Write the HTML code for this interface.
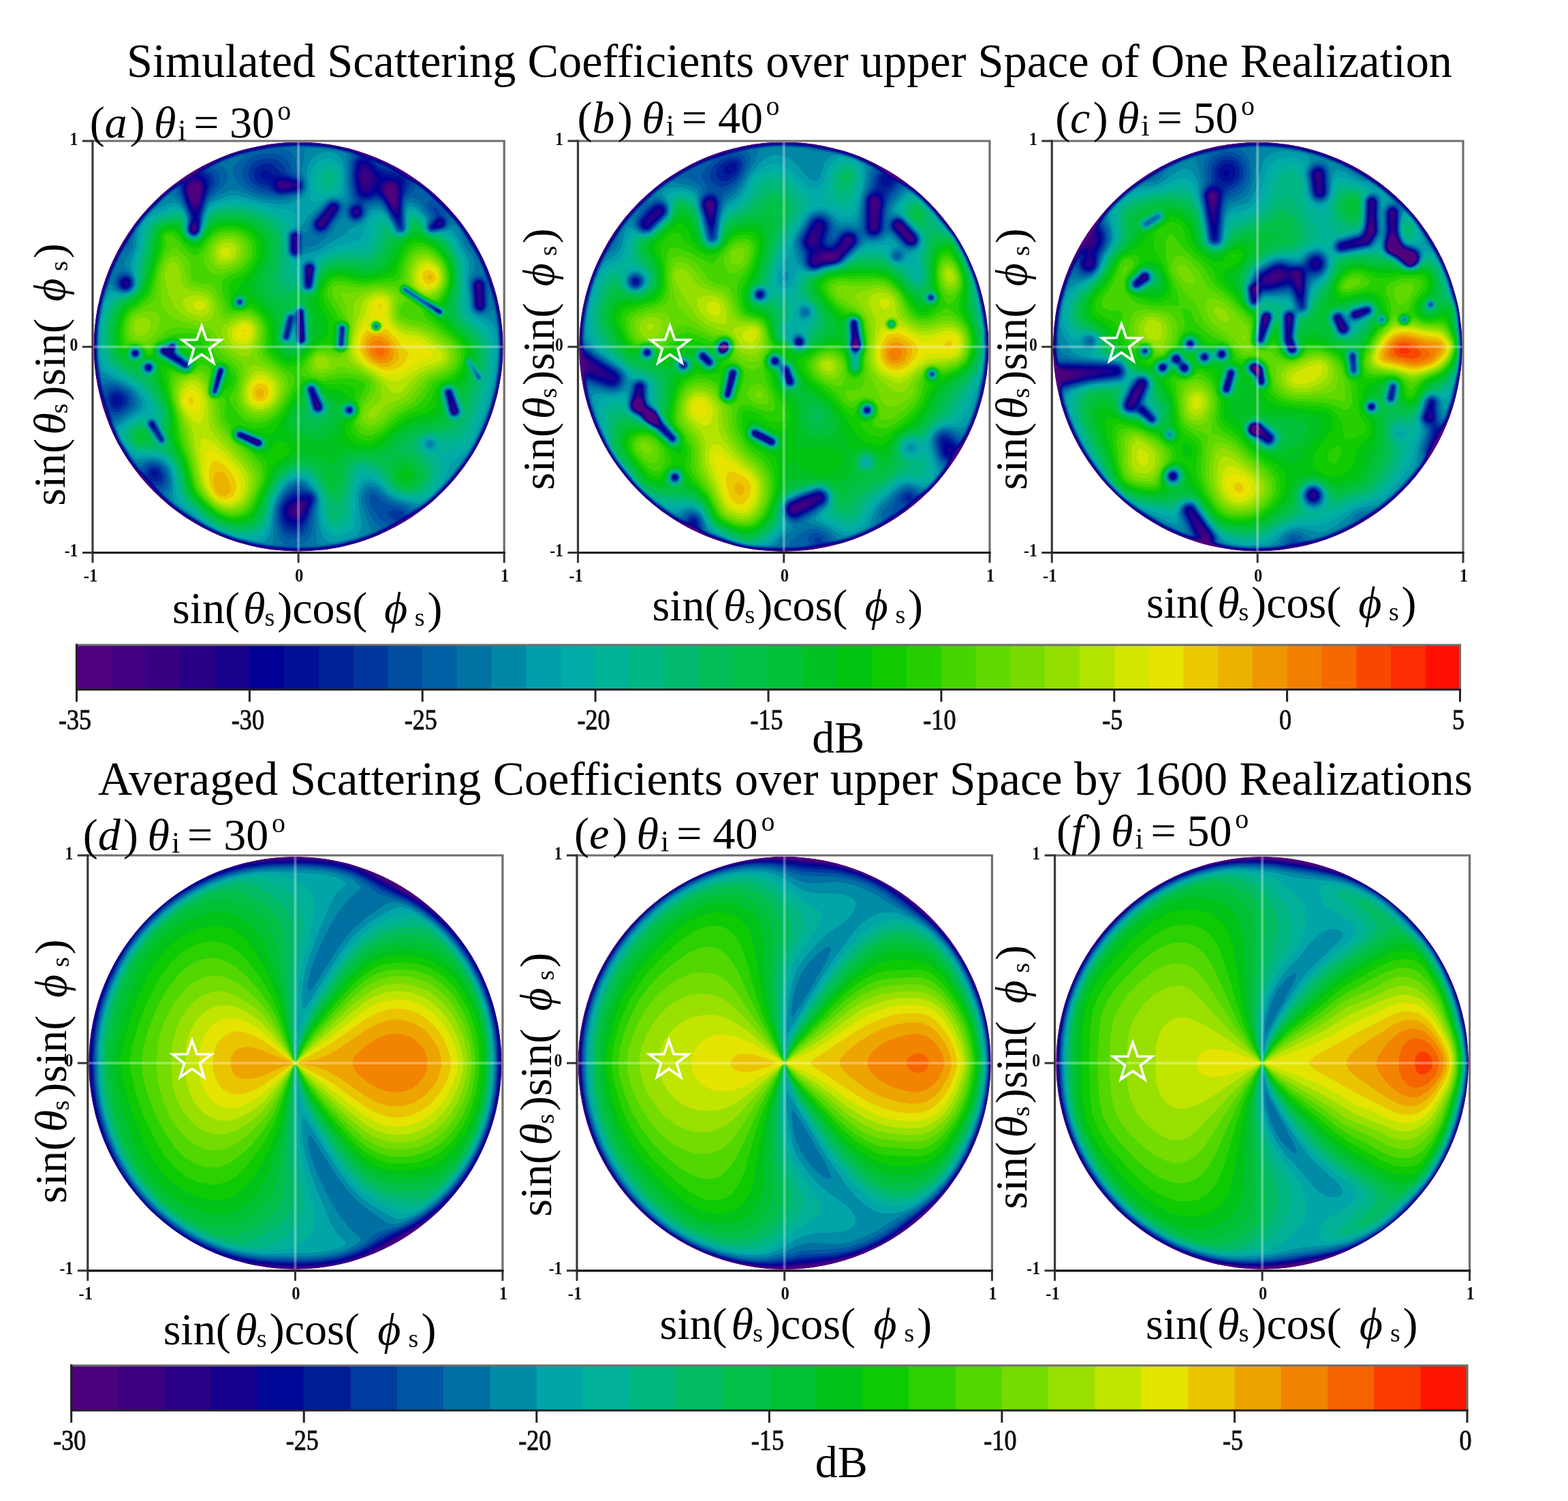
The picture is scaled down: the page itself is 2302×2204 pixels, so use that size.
<!DOCTYPE html><html><head><meta charset="utf-8"><style>html,body{margin:0;padding:0;background:#fff;overflow:hidden}svg{display:block}</style></head><body>
<svg width="2302" height="2204" viewBox="0 0 2302 2204">
<rect width="2302" height="2204" fill="#fff"/>
<defs><clipPath id="cla"><circle cx="438.1" cy="509.2" r="300.6"/></clipPath><clipPath id="clb"><circle cx="1150.8" cy="509.2" r="300.8"/></clipPath><clipPath id="clc"><circle cx="1846.2" cy="509.2" r="300.4"/></clipPath><clipPath id="cld"><circle cx="433.4" cy="1560.9" r="303"/></clipPath><clipPath id="cle"><circle cx="1151.7" cy="1560.9" r="303.2"/></clipPath><clipPath id="clf"><circle cx="1853.1" cy="1560.9" r="303"/></clipPath></defs>
<g clip-path="url(#cla)"><circle cx="438.1" cy="509.2" r="300.6" fill="#4e007d"/><path fill="#410080" fill-rule="evenodd" transform="scale(0.5)" d="M471 494l-24-2-32-12-127-67 443 0-68 26-88 26-49 8zM1483 640l-104-41-40-19-72-47-34-32-14-10-100-41-40-22-34-15 438 0zM915 1617l-44 2-68-4-48-7-64-17-52-20-48-24-64-40-32-24-39-38-57-64-22-28-38-60-18-44-27-88-12-56-5-36 0-104 8-56 16-64 20-56 26-52 46-76 28-36 54-54 28-23 56-33 31-22 37-21 48-21 40-12 76-15 40-5 96 0 60 7 36 9 92 34 24 11 88 53 36 27 40 38 50 55 39 60 25 44 16 36 24 72 12 56 8 68 0 56-4 48-12 64-16 56-24 60-32 60-28 40-32 40-58 60-24 19-80 50-56 29-52 21-60 16-48 7zM577 593l8-16 5-24-7-13-12-4-8 3-7 6-4 8 0 8 7 20 8 13 4 3zM1161 597l3-16-1-28-8-10-8-2-8 2-4 2-6 8 1 12 21 32 4 4 4-1zM876 1505l3-8-3-4-5 1-5 3 0 4 5 5z"/><path fill="#370082" fill-rule="evenodd" transform="scale(0.5)" d="M487 462l-24 0-28-7-36-15-50-27 327 0-101 36zM1483 601l-96-27-48-18-56-32-56-40-100-43-46-28 402 0zM891 1617l-52-1-60-6-56-11-52-16-48-20-44-24-56-36-45-38-25-24-63-72-24-36-28-48-16-40-28-88-12-60-5-48 0-68 5-44 11-60 18-56 15-40 29-56 43-68 32-40 41-40 39-32 45-25 44-31 40-21 40-16 56-16 64-12 52-4 60 0 48 4 44 8 44 13 66 24 48 24 77 48 38 32 43 43 32 37 45 68 23 44 21 52 20 64 12 68 4 56-1 40-7 68-11 56-21 64-25 56-26 48-41 56-37 43-36 35-36 27-76 47-48 25-56 21-60 16-52 7zM1079 529l1-12-5-5-4 0-4 9 2 8 6 4zM577 601l9-20 6-28-2-8-5-8-6-3-8-1-8 2-7 6-5 8-1 8 5 20 8 18 8 8zM830 545l-3-4-4 4 4 2zM1162 605l4-24-2-32-9-9-8-2-8 2-11 9-2 8 2 8 23 37 8 6zM574 673l0-4-3-5-4 3-1 6 1 3 4 1zM880 1509l7-16 0-6-4-3-16 4-8 9 1 8 7 7 8 0z"/><path fill="#280087" fill-rule="evenodd" transform="scale(0.5)" d="M551 433l-44 3-32-2-28-6-36-15 207 0-39 14zM1483 569l-92-19-52-17-44-22-56-35-82-35-30-15-19-13 375 0zM939 1613l-60 3-64-3-56-7-60-15-48-17-44-21-60-36-45-32-43-40-60-67-24-33-30-48-22-52-24-75-12-50-6-39-3-44 1-60 7-60 13-56 20-59 24-53 40-68 28-39 36-40 48-45 24-17 40-20 23-19 26-16 41-20 43-16 44-12 67-12 52-4 56 0 68 7 40 9 90 32 26 12 36 20 76 49 48 43 48 52 24 32 36 59 24 50 24 68 12 51 9 52 3 64-3 60-8 52-17 64-24 64-23 48-25 40-36 49-44 49-39 34-33 24-81 48-43 21-56 19-52 13zM1077 549l6-5 4-7 2-16-6-15-12-9-4 2-5 6-2 20 3 14 4 7 4 3zM576 609l6-8 5-13 8-35-5-16-7-6-8-3-12 4-8 6-5 7-3 12 5 20 11 25 8 8zM843 549l6-4-2-4-10-4-14-2-6 6 2 8 4 3zM1164 613l4-24-1-40-4-7-8-5-16-1-12 9-4 8 1 8 27 46 8 8zM947 661l12-21 0-5-12 10-10 12 2 5 4 1zM575 677l1-12-1-4-4-2-6 6-2 8 4 7zM911 793l0-6-4 0-1 2 1 8zM1407 865l2-28-2-2-5 2 5 32zM935 1197l1-4-5-8 0 12zM874 1517l9-4 9-16 3-12-4-8-8 0-12 3-12 7-5 6-1 8 3 8 7 7z"/><path fill="#19008c" fill-rule="evenodd" transform="scale(0.5)" d="M1483 540l-84-13-56-16-36-15-64-32-64-27-44-24 348 0zM927 1613l-60 2-72-5-51-9-57-15-52-20-41-21-64-40-36-28-34-32-65-73-24-34-29-49-15-36-28-87-12-52-7-53-1-64 4-52 8-49 16-58 20-53 24-49 40-65 28-38 42-44 42-36 24-16 32-14 32-26 35-20 35-16 48-16 74-16 44-5 52-3 52 3 48 6 50 11 46 19 32 10 33 15 87 52 28 20 44 42 48 52 24 34 36 61 24 53 20 59 12 50 9 61 2 60-4 56-11 65-16 58-20 52-28 56-28 44-36 46-44 47-36 31-31 21-89 52-54 24-52 16-46 10zM1078 561l9-8 7-12 3-8 0-12-4-12-10-14-8-7-8-2-4 3-6 12-2 12 0 16 8 26 8 7zM576 617l6-8 5-13 11-43-2-12-4-8-9-7-8-2-12 3-8 7-8 11-2 12 5 20 9 23 8 14 4 4zM848 553l14-4 5-4-3-4-10-4-27-6-8 1-5 5-1 8 6 9 8 3zM1166 621l4-32 1-36-2-8-6-8-8-4-8-1-12 2-8 5-5 6-2 8 1 8 34 56 8 7zM948 665l34-52 1-4-4-2-8 5-36 41-1 8 3 4 6 2zM1049 629l4-4-1-8-5-2-4 1-4 4 0 5 4 5zM1296 657l-1-5-4-2-6 7 6 3zM573 681l5-8 1-8-4-11-4 0-8 9-2 10 4 8zM867 713l2-16-2-4-4 4 4 20zM907 813l8-24-4-5-4-1-5 6 2 16 3 10zM373 833l-2-4-4 0 0 6 4 1zM1411 901l2-12 0-52-2-4-4-2-7 2-1 8 6 56 2 5zM888 997l-1-21-4-21-1 42 1 2zM498 1037l-3-3-3 3 3 2zM938 1197l0-4-7-15-8-8 5 27 7 3zM1338 1209l-11-28-1 8 4 20 5 3zM762 1301l-3-4-25-8 3 4 14 8 8 3zM877 1521l10-7 10-21 4-16-2-4-4-2-12 0-16 6-12 7-7 9-1 12 8 12 12 6z"/><path fill="#000096" fill-rule="evenodd" transform="scale(0.5)" d="M1483 513l-76-9-60-14-36-13-108-45-37-19 317 0zM911 1613l-52 1-62-5-49-8-60-16-52-20-40-20-64-40-41-32-29-28-67-75-24-34-28-48-16-39-32-104-10-52-5-48 0-60 6-56 9-46 16-53 20-51 24-48 44-70 32-40 36-36 32-28 24-16 24-9 4 1-8 16-1 8 3 12 18 45 8 12 4 1 4-4 8-18 14-52-1-12-5-12-10-8-12-4 15-16 48-28 63-24 48-12 43-8 61-6 48 0 44 3 50 7 44 12 42 18 33 10 33 16 86 52 35 28 49 48 32 36 28 41 36 62 20 46 24 75 12 61 5 51 0 56-5 56-12 62-16 54-24 58-28 53-32 46-39 47-39 40-35 28-84 52-45 24-51 20-57 16-47 8zM1079 569l8-4 17-20 5-12-4-16-13-20-14-16-11-4-8 4-5 12-4 20 1 19 4 18 7 15 9 5zM846 557l25-5 4-3 0-8-4-4-44-10-8 0-9 6-1 12 4 8 4 4 10 3zM1169 629l2-16 3-56-3-16-5-8-11-5-12-1-16 4-13 10-1 8 4 12 42 67 8 5zM947 669l5-4 35-52 0-4-4-5-4-2-7 3-40 48-1 8 4 7 4 2zM1048 633l7-4 2-8-4-8-6-2-8 3-4 11 4 6zM576 681l4-8 1-8-2-13-4-5-4 1-4 4-7 13-1 8 3 8 5 3zM1297 661l3-8-5-6-4 0-9 6-5 8 6 3zM871 737l2-40-1-4-5-3-4 1-4 6 2 40 6 4zM907 829l10-40-2-5-8-3-4 2-3 6 3 36 4 6zM371 841l6-4 1-8-3-4-8-2-4 2-3 8 3 6zM1411 905l5-4 1-4-1-60-5-8-8-1-4 2-3 7 5 60 2 6zM888 1001l2-4-1-16-6-64-4 20 1 60 3 5zM512 1049l-10-16 7-12-2-5-5 1-7 11-16 1 2 4 10 8 16 9zM401 1037l-2-3-4 0-1 3 1 3 4 1zM440 1081l-1-4-4-2-3 2 0 4 3 2zM643 1109l4-12 2-8-2-1-4 9 0 14zM937 1201l3-4-1-7-12-24-8-10 0 13 7 28 5 5zM1337 1213l3-4 0-4-21-50 0 16 8 38 4 5zM761 1305l2-4-4-5-50-19-6 0 45 24zM880 1525l11-10 13-30 1-16-6-5-16 1-20 7-13 9-8 12-2 8 2 8 9 14 12 5 8 0z"/><path fill="#000f96" fill-rule="evenodd" transform="scale(0.5)" d="M1483 486l-72-6-60-12-52-17-96-38 280 0zM947 1609l-68 4-68-3-56-8-51-13-46-16-53-24-59-36-39-28-39-36-34-40-35-36-20-27-28-45-20-44-28-88-12-46-7-46-4-56 3-56 8-59 12-48 20-57 24-53 40-67 28-40 32-35 44-41 28-20 16-7 8-2-3 17 1 12 11 32 18 40-11 26-1 14 7 8 10-1 5-7 2-8 0-16-4-16 28-88-5-20-6-8-15-8 2-4 14-12 20-12 52-24 51-16 80-16 56-5 60 1 56 6 50 10 23 8 27 14 36 10 27 12 49 31 40 21 23 16 43 40 50 52 24 32 36 59 24 49 20 55 12 42 12 64 4 55 0 56-8 63-12 54-20 61-24 54-28 49-32 45-40 47-45 43-33 24-81 48-47 24-42 16-59 16zM1171 641l7-92-2-12-4-8-13-6-36-3-8-6-36-39-12-4-8 2-8 10-5 30 2 28 7 24 8 8 12 3 12-4 16-11 8 2 16 19 36 57 4 4zM839 561l36-7 4-5 0-8-8-8-44-11-8 0-9 3-4 4-3 8 1 8 4 8 11 8zM952 669l38-56-1-8-6-5-8 0-4 3-42 50 0 12 6 6 8 2zM1055 633l4-8-2-12-6-5-12 2-7 11 3 10 8 5zM1295 665l6-4 1-8-3-6-8-4-5 2-9 8-6 12 8 3zM872 741l2-4 1-40-3-8-5-1-6 1-3 4 0 44 5 6zM909 837l9-48-3-8-8-2-8 6 0 19 2 33 2 3 4 1zM378 841l3-8-2-9-8-5-10 2-5 8 3 11 8 5zM1416 905l3-8-1-60-3-8-4-3-8-1-6 4-4 8 5 60 5 9 8 2zM890 1001l1-15-4-56-1-13-3-4-4 1-2 15 1 68 1 4 4 3zM540 1069l-2-4-29-24-4-8 6-16-4-3-4 1-10 10-14 1-3 3 1 4 17 12zM401 1041l2-4-2-4-2-1-6 1-1 4 1 4 6 2zM437 1085l4-4 0-4-6-4-5 4 0 4zM636 1133l15-42-2-6-3 0-2 4-5 17-4 19 0 11zM940 1201l2-8-3-7-16-31-8-11 0 16 10 37 6 7zM1340 1213l1-8-14-39-7-17-5 0-2 4 2 8 11 48 5 6zM1029 1205l-2-5-4 1 0 6 4 1zM451 1253l-4-10-4 1 4 8zM763 1305l0-8-7-4-53-20-2 4 4 4 48 24 6 2zM876 1533l15-11 12-23 8-26 0-8-4-5-16-1-28 6-16 11-9 13-3 18 8 18 8 7 8 3z"/><path fill="#002098" fill-rule="evenodd" transform="scale(0.5)" d="M1483 459l-64-3-56-9-48-12-64-22 232 0zM935 1609l-60 3-72-5-44-6-64-15-45-17-43-20-65-40-38-28-34-32-33-40-38-38-24-33-28-46-17-39-31-103-8-33-7-48-3-56 3-52 8-56 15-57 20-54 24-50 40-67 28-39 32-34 44-40 28-19 8-4 8 0-2 12 1 12 27 72-8 28 0 12 6 9 4 1 8-1 5-5 3-8 1-40 27-88-1-12-3-8-6-8-14-7 3-5 36-24 57-24 58-16 70-12 72-4 70 4 64 12 23 8 16 8 11 8-12 4-7 8-6 32 2 32 8 28 7 8 12 4 12-2 20-9 4 0 8 3 12 14 36 59 8 9 4-6 3-68 7-40-1-12-4-8 7 0 18 8 22 13 22 15 46 44 48 51 24 34 32 52 24 50 24 69 12 49 8 51 4 60-3 60-9 59-16 62-20 54-28 58-28 44-36 47-40 44-36 32-29 20-47 26-48 30-43 20-46 16-48 12zM1171 517l-32-5-16-5-16-11-22-23 6-1 9 1 30 12 34 20 10 8zM830 565l45-7 7-9-1-12-10-8-48-13-20-3-16-13-12-1-8 5-3 9 3 9 8 6 16 4 9 17 11 12 8 4zM1179 519l-6-2 6 0zM951 673l40-56 1-12-9-8-8 0-6 4-43 52-1 8 6 11 8 4zM1053 637l8-8 1-12-7-11-12-1-7 4-5 7 0 13 8 9 8 1zM1287 669l12-3 6-9-2-10-8-6-8 0-4 2-17 22 0 4 5 2zM869 745l6-4 1-4 2-40-3-8-8-4-8 3-3 5 0 44 7 8zM910 841l10-52-5-10-8-2-7 4-2 4 0 48 2 8 3 2zM377 845l6-8 0-12-8-9-8-1-6 2-6 6-3 6 3 11 8 7 8 0zM1414 909l5-4 3-8-1-60-6-11-12-3-8 5-4 9 5 60 3 8 4 4zM1293 917l-2-4-8-4-4 0 9 8zM891 1001l1-20-4-64-1-4-4-2-6 2-2 16 2 68 1 4 5 4zM841 989l3-12-1-7-4 16 0 3zM1003 989l0-11 0 13zM549 1073l-2-4-28-21-10-11-1-4 4-16-3-4-6 0-12 11-12 0-4 3 0 7 16 11 49 28 7 2zM403 1041l0-8-4-3-8 3 0 8 4 3 4 0zM441 1085l2-8-3-4-5-1-4 1-3 4 3 8 4 2zM632 1149l15-40 5-20-1-4-4-1-5 5-11 46-1 10zM941 1201l2-8-12-27-12-23-4-3-4 1-1 4 5 23 10 33 10 4zM1341 1213l2-8-20-55-4-3-4 0-4 6 13 56 7 8 4 0zM352 1189l7-8-2-12-10-8-12 1-4 4-3 7 2 12 9 7zM1029 1209l3-4-1-4-4-3-4 1-3 6 3 5zM459 1265l-8-21-4-4-4 1-2 4 1 4 17 19zM764 1305l1-8-6-4-52-20-4-1-4 5 4 5 52 25 4 1zM458 1401l4-4 0-8-3-4-8-3-5 3-2 8 7 8zM878 1541l9-6 8-10 17-40 5-20-4-8-6-3-28 0-20 5-16 12-11 18-3 12 1 12 9 20 8 8 8 3 12 1z"/><path fill="#00379e" fill-rule="evenodd" transform="scale(0.5)" d="M1483 432l-88-4-76-15 164 0zM915 1609l-56 1-65-5-49-8-60-16-51-20-39-20-63-40-36-28-28-28-21-28 0-4 16 2 9-6 2-12-6-16-9-6-12-1-11 7-3 8 0 8-2 1-4-3-20-17-16-19-44-70-16-38-15-58-17-49-12-55-4-45 0-59 6-56 10-49 16-51 20-50 24-47 44-71 32-39 60-57 23-16 13-5 2 1 0 12 4 16 25 64-7 28 0 12 8 11 12-1 6-6 4-8 4-48 10-33 19-51 1-12-3-8-7-8-14-7 3-5 17-12 31-16 54-20 92-20 63-6 60 0 58 6 52 12 27 12 4 4-9 8-5 8-4 32 2 36 9 28 10 11 8 2 16-2 20-7 12 2 16 18 36 62 8 9 4-11-1-44 3-28 3-16 11-28-1-12 5 0 24 12 37 28 63 63 24 27 24 36 36 61 20 46 24 74 12 59 6 58 0 56-6 58-12 59-16 52-24 58-28 52-32 46-36 44-38 39-35 28-33 20-30 14-23 18-44 24-49 20-56 16-45 8zM1155 506l-36-11-12-8-10-10 8 0 20 8 33 20zM855 565l20-3 9-9 2-8-2-8-9-10-39-14-12-8-17-18-12-6-12-2-12 2-12 5-8 7-6 12 0 12 6 12 8 7 28 11 18 14 10 6 12 2zM949 677l10-8 35-52 1-12-8-9-12-1-8 5-42 49-2 12 4 11 12 7zM1049 641l12-8 4-12-1-8-4-8-9-5-8 1-8 5-6 7-2 8 1 8 5 8 8 4zM1276 673l23-5 7-7 1-12-8-10-8-3-8 3-19 22-2 4 1 6 4 3zM874 745l5-8 1-44-6-8-11-1-4 2-5 7 0 44 5 8 4 3zM908 845l4-4 2-4 7-48-2-8-4-4-8-1-8 4-4 9 2 48 2 6 4 3zM373 849l11-8 3-8-1-8-5-8-6-4-12-1-12 9-2 8 1 8 9 11 8 2zM1419 909l3-4 3-8-2-64-8-10-12-3-9 5-5 12 5 64 9 10 8 2zM707 889l0-4-4-1-2 1 0 4zM1295 917l-2-4-6-4-20-8 20 17 4 2zM889 1005l5-8-1-28-4-52-2-5-4-3-8 4-2 20 3 64 3 7 4 2zM845 989l12-52 0-4-2-2-6 2-13 56 3 4 4 0zM1004 1013l4-48-1-4-4 0-4 50 0 2zM547 1077l4-4-1-4-31-23-8-9-2-4 4-16-2-4-8-1-12 10-12 1-4 2-2 8 3 4 45 28 22 12zM400 1045l5-4 0-8-5-4-5 0-5 4 0 8 5 5zM443 1085l2-8-2-4-8-3-6 3-2 4 2 8 6 4zM634 1149l20-60-1-4-6-2-4 2-4 12-12 52 4 4zM939 1205l6-8-2-8-23-48-5-4-4 1-3 7 15 55 8 6zM1339 1217l6-8-2-8-19-52-5-4-4 0-5 4 0 4 13 56 6 8zM347 1201l10-4 8-8 4-8 0-8-6-11-8-7-12-4-8 1-8 5-6 8-1 8 1 12 3 8 7 6 8 3zM1031 1209l2-4-2-6-8-2-4 3-1 5 2 4 7 3zM476 1293l0-4-25-48-4-2-4 0-4 5 1 5 31 42zM766 1305l0-8-5-4-54-22-4 0-4 2-1 4 2 4 49 24 10 4zM877 1553l11-8 11-15 20-57 0-14-4-6-8-4-32-3-16 4-20 17-13 22-2 12 1 16 3 12 7 13 8 8 12 6 12 0z"/><path fill="#004ea2" fill-rule="evenodd" transform="scale(0.5)" d="M947 1606l-64 3-75-4-57-8-49-12-46-16-44-20-66-40-34-24-31-28-23-28 1-3 16-3 6-10 0-20-8-16-10-8-16-2-14 6-10 14-4-1-16-15-16-20-36-56-20-48-8-40 12 4 8 0 20-8 10-10 4-8 0-16-4-8-10-9-12-6-12-3-11 2-7 4-6 8-4 13-8-19-8-29-8-45-3-56 2-56 9-63 12-46 24-65 20-41 40-69 28-39 24-27 40-38 25-20 19-9 7 25 24 60 1 12-6 24 2 11 8 9 12 0 8-8 3-8 4-40 9-32 8-20 18-32 5-12 0-12-3-8-8-9-13-7 2-4 33-20 51-20 46-12 65-12 64-5 64 2 34 3 41 8 26 8 15 8 1 4-8 8-4 12-2 40 6 44 11 24-2 4-18 13-5 7-2 8 3 13 12 10 8 1 8-3 9-9 4-16-5-20 3-4 37-9 8 0 12 8 12 16 36 65 8 1 3-5-1-52 2-28 5-16 16-24 2-12 5 0 8 4 25 16 22 20 73 75 20 26 36 59 24 49 24 68 12 46 9 49 4 52-1 60-8 62-12 53-20 60-24 54-24 42-36 50-32 39-32 32-28 24-24 17-32 16-5-1-7-6-12-4-16-1-14 3-3 4 1 8 8 8 15 8-31 20-40 20-44 16-46 12zM849 569l22-3 10-5 7-12 0-12-9-12-26-12-11-8-11-20-12-12-20-8-24 0-20 6-18 14-8 16 0 16 8 16 10 10 12 7 28 8 28 13 12 1zM947 681l13-8 38-56 0-12-5-8-6-3-12-1-9 4-44 52-2 12 4 12 11 8zM1286 673l13-3 7-5 4-8 0-8-7-13-16-11-4-14-8-3-4 5 1 4 8 8 2 4-7 12-15 20 0 8 7 7zM870 749l7-4 4-8 2-40-2-8-3-4-11-4-10 4-5 8 0 44 7 11zM911 845l4-8 8-48-4-11-4-3-8-1-8 3-5 8 1 52 4 8 8 2zM379 849l7-8 3-8-1-8-3-8-6-5-8-4-8 0-8 4-6 5-3 8-1 8 3 8 7 8 8 3 8 0zM1417 913l8-8 2-8-1-64-8-12-7-3-8-1-9 4-7 12 5 68 4 8 7 5 8 1zM708 889l-1-6-4-1-4 3 0 4 4 3zM1296 917l-1-4-6-4-34-16 32 26 4 2zM891 1005l4-8-5-80-3-7-4-2-5 1-4 4-3 20 3 64 5 9 4 1zM845 993l16-60-6-4-5 0-3 4-12 52 1 8 3 2zM1006 1013l4-48-3-5-4 0-3 5-2 48 5 4zM550 1077l2-4-1-6-31-22-8-8-1-4 3-16-3-5-8-1-12 9-12 1-6 4-2 8 9 8 60 36 7 2zM403 1045l3-4 0-8-7-5-8 2-3 7 3 8 4 2zM439 1089l5-4 2-8-7-7-8 0-5 7 1 8 4 4zM632 1153l11-25 12-39-4-7-4-1-5 4-7 23-9 41 2 4zM941 1205l5-8-3-11-21-45-3-4-8-1-4 4-1 5 16 56 9 7zM1341 1217l4-4 1-8-19-53-4-6-8-2-4 2-3 7 15 60 8 7zM1033 1209l1-8-3-4-8-1-4 2-2 7 2 5 8 3zM479 1293l-26-52-6-4-4 0-5 4 0 8 33 46 4 1zM762 1309l6-8-5-8-56-23-4 0-5 3 0 8 5 3 52 25zM865 1569l18-5 8-7 8-10 7-18 18-60-2-12-7-8-12-6-28-6-16 4-20 17-13 19-7 24 2 28 10 23 8 9 8 5z"/><path fill="#005fa5" fill-rule="evenodd" transform="scale(0.5)" d="M931 1605l-60 1-84-4-49-9-46-12-43-16-42-20-65-40-32-24-26-24-16-20 15-8 6-16-2-23-10-17-14-10-16-2-16 4-16 14-12-10-16-20-36-57-16-38-6-29 2-4 12-1 16-6 17-13 10-16 0-16-7-11-8-9-13-8-15-5-12-1-9 2-8 4-7 10-12-36-8-49-2-53 2-50 8-55 12-47 24-65 20-43 44-75 28-39 24-26 43-40 21-16 12-4 6 20 27 60 1 12-5 24 2 12 9 10 12 0 7-6 4-8 7-48 14-39 8-14 23-27 7-16 0-12-4-12-8-8-14-8 35-20 44-16 52-12 70-12 67-4 66 4 62 12 26 12-6 10-4 10-2 32 3 44 8 36-16 20-4 12 5 16 6 6 8 4 12 0 14-10 5-12 1-20 4-7 24-7 12-1 12 8 12 15 32 60 5 4 7 0 6-8-2-56 3-20 5-12 24-20 4-16 9 4 17 12 24 24-2 4-9 4-3 8 3 12 11 16 2 8-13 24 1 12 5 4 7 1 28-6 8-4 5-7 2-8-1-12-6-12 4-3 20 19 20 24 48 79 20 42 9 31-1 5-12-11-12-2-8 3-8 9-3 12 6 64 5 10 12 6 12-1 10-11 2-8 0-68 12 31 8 29 8 39 5 41 3 60-4 60-8 48-16 62-24 62-28 56-24 37-40 51-33 36-31 28-27 20-25 13-8 0-16-9-48-14-12-7-22-19-10-3-4 3-2 12 2 12 8 16 19 28 13 11 13 5 0 4-44 24-54 20-47 12zM847 573l24-3 10-5 9-12 2-12-2-8-7-10-24-18-12-30-12-14-12-6-16-4-36 0-16 4-14 6-11 8-11 12-7 16 0 20 6 16 16 16 25 12 56 14 12 1zM947 685l8-3 8-7 38-58 1-8-3-8-4-5-8-5-12-1-12 7-44 52-2 16 5 12 9 7 8 2zM1307 629l-1-4 1-1 2 1zM875 749l5-4 4-8 1-44-4-8-5-4-13-1-8 4-5 9 1 44 3 8 5 5 8 2zM913 845l4-8 7-52-5-9-12-4-8 3-7 10 1 52 6 10 8 2zM375 853l8-4 6-8 2-8-2-12-10-13-8-4-12 0-9 5-6 8-3 8 1 12 5 8 8 7 12 3zM705 893l5-4 0-4-3-4-4-1-4 3-1 6 4 4zM1293 921l4-4-2-5-53-27 41 32 8 5zM892 1005l3-4 1-8-5-79-4-6-8-1-6 6-6 20-12-6-8 2-14 60 2 5 4 3 9-4 11-45 4-10 4-3 4 15 3 51 2 4 7 4zM1107 957l-4 0 0 2zM1005 1017l3-4 3-48-1-4-7-3-4 3-1 4-2 48 3 5zM552 1077l2-8-3-4-29-20-8-8-1-4 2-16-4-6-8-1-12 9-12 1-8 5 0 10 13 10 55 33 8 2zM405 1045l3-8-4-8-5-2-9 2-4 8 4 8 9 3zM442 1089l5-8-2-8-6-5-8 1-7 8 1 8 6 5zM634 1153l22-64-1-4-4-4-6 0-4 4-14 52-2 12 1 4 5 2zM943 1205l3-4 1-8-8-19-18-37-10-2-4 3-2 7 16 56 2 4 8 4zM1343 1217l3-4 1-8-20-56-4-5-8-1-5 2-3 8 15 60 9 8 8-1zM1030 1213l4-4 1-8-4-5-8-2-7 7 1 8 6 5zM477 1297l3-4 0-4-25-48-8-6-7 2-3 4 0 8 34 48zM764 1309l5-8-2-5-4-4-56-23-6 0-4 4 0 8 6 4 52 25zM877 1581l18-10 12-18 20-88-4-12-8-8-32-16-8-2-8 1-12 6-12 11-12 14-13 26-4 28 5 35 12 22 8 7 12 5 12 2z"/><path fill="#0073a3" fill-rule="evenodd" transform="scale(0.5)" d="M955 1602l-44 2-47-3 19-3 12-5 8-6 8-11 7-23 5-48 7-36-2-12-9-13-28-19-12-6-8 0-12 5-20 17-20 28-9 28 0 40 7 36 6 12 8 9 8 5 10 2-46 0-36-4-57-12-38-12-39-16-31-16-63-40-27-20-22-20-9-12 0-4 10-12 5-20-3-24-10-18-16-12-16-4-20 3-20 12-4-1-24-28-32-52-16-40-2-16 26-11 24-17 12-16 1-16-5-12-10-12-26-16-28-7-12 1-12 5-8-25-7-50-2-56 3-48 10-57 12-43 24-61 16-34 12-21 16-17 4-16 16-30 32-42 52-51 20-16 12-5 28 50 10 23 1 12-3 24 1 12 6 8 5 3 8 1 8-3 7-9 3-8 7-44 11-32 12-17 37-31 12-20 1-20-3-8-8-8-16-8 2-4 36-16 31-8 7 0-26 24-7 12-3 8 4 16 5 12 21 20 20 12 23 9 56 11 24-1 44-9 8-6 6-8 2-8-1-12-4-12-18-24-4-32-5-12-12-13-20-7 17-4 47-1 43 1 55 8 37 12 1 4-6 20-1 32 2 40 6 36-2 8-14 20-2 8 6 16 11 11 16 3 12-4 12-14 8-28 12-5 20-3 12 7 12 14 32 59 4 3 8 0 5-3 4-8-2-48 4-24 4-8 5-4 12-3 12 2 8 4 31 45 2 8-9 24 2 8 6 6 12 0 32-8 9-10 6-20 5 3 24 29 20 32 5 12 15 21 20 39 9 24-1 8-12-3-12 4-8 8-4 7-2 12 7 68 7 10 12 5 12-1 9-6 7-12 1-40 3-5 16 61 8 52 3 56-3 52-8 53-16 64-20 55-28 58-24 38-36 48-31 36-33 32-32 24-24 12-20-9-48-17-44-32-8-2-8 2-7 6-4 12-1 12 4 16 8 20 14 24 10 12 11 8-4 4-23 12-42 16-43 12zM953 689l14-12 40-60-1-12-4-8-7-6-8-3-12-1-12 6-44 48-6 12 0 20 10 16 12 4zM872 753l8-4 6-8 4-44-2-8-5-7-8-4-8-1-12 4-6 8 0 48 6 12 8 5zM910 849l7-8 8-56-6-12-12-3-8 2-8 9 0 40 0 16 3 8 9 5zM380 853l9-8 3-8 1-12-5-12-9-10-8-4-12-2-8 2-8 7-7 11-1 12 4 12 8 9 12 6 12 1zM1295 921l3-4-3-6-80-44-24-18-5 0 3 4 30 18 68 50 4 2zM708 893l3-4-2-8-6-2-4 2-3 4 3 8 4 2zM887 1009l9-8 0-20-4-68-2-4-7-3-9 3-7 18-16-2-6 4-14 60 4 7 4 2 6-1 4-4 10-38 4-10 4 0 3 16 3 40 6 8zM1007 1017l2-4 3-48-1-5-4-3-4 0-4 3-2 5-2 48 4 6zM1105 961l3-4-5-1-1 1zM548 1081l5-4 2-8-4-5-35-27-2-4 2-16-5-8-8 0-12 8-12 2-8 5-2 9 6 8 60 36 8 4zM399 1049l7-4 3-8-3-8-11-3-8 6-1 9 5 7zM444 1089l3-4 1-8-5-8-8-2-8 3-4 11 4 8 8 4zM636 1153l20-64 0-4-5-5-8 1-3 4-16 60 0 4 3 6 4 1zM1409 1109l-10-13 0 5 4 10 4 1zM939 1209l8-8 0-12-24-51-4-4-8 0-5 3-3 8 16 56 8 8zM1340 1221l8-8 1-8-20-56-6-6-8-2-7 4-2 8 14 60 7 8 8 2zM1032 1213l5-8-2-8-8-4-8 2-5 6 1 8 8 6zM480 1297l2-8-27-50-8-5-8 2-4 9 3 8 31 44 6 3zM766 1309l4-8-3-7-4-3-56-23-8 1-4 4 1 8 5 4 54 26z"/><path fill="#0087a5" fill-rule="evenodd" transform="scale(0.5)" d="M975 1597l-32 2-13-2-2-84 5-40 0-12-5-12-9-10-24-20-12-6-16 0-20 12-19 20-13 24-6 16-4 20-3 92-21 0-48-8-46-12-32-12-57-28-56-36-27-20-17-16-5-8 8-28 1-20-5-24-10-17-16-13-20-6-20 2-28 9-8-6-12-16-28-45-16-37 0-14 32-19 25-18 10-16-1-16-11-20-23-19-28-13-44-10-8-37-3-33 0-44 3-46 8-49 16-54 8-15 20 19 16 7 12 0 8-3 12-11 4-12-2-16-10-16-16-16-3-4 0-8 26-48 5-40 20-31 28-33 44-40 12-7 8 4 20 15 16 24 9 24-3 28 2 12 8 11 12 2 8-3 8-10 14-60 6-15 8-13 16-13 40-20 12-2 12 1 60 21 48 8 28 0 44-10 14-9 9-16 1-16-12-32 0-12 9-56 11-2 40 2 36 4 31 8 5 4-2 24 6 108-3 8-5 5-4 0-16-11-12-3-12 1-12 7-46 49-6 12-4 24-4 7-24-10-12 0-8 4-6 7-2 8 0 44 5 12 11 7 12-1 12-10 8-17 4-4 20 0 20-11 34-28 30-47 4-2 2 1 14 13 12 6 12 0 12-4 14-15 10-24 12-6 16-2 12 6 16 19 25 47 7 5 10-1 6-4 3-8-2-40 3-22 8-12 8-1 8 1 16 11 26 31 2 8-6 16 1 8 4 8 5 4 8 1 32-6 28-16 8 2 12 15 13 44 24 32 6 16-1 20-12 28-3 12 7 76 8 12 14 7 16-1 24-13 4 2 8 40 4 37 1 56-5 51-8 46-16 59-20 53-28 57-20 32-36 47-28 33-29 30-30 24-21 13-72-23-16-10-24-21-12-7-12-2-9 2-7 6-7 10-2 12-1 16 6 26 23 62-14 8-33 12-45 12zM913 849l6-8 8-56-2-8-6-7-12-3-12 5-6 9 0 56 3 8 7 6 8 1zM1297 921l2-4-4-7-56-31-48-31-4-1-2 2 2 5 40 25 60 43 4 2zM710 893l3-4-2-8-8-3-6 3-2 8 2 4 6 3zM890 1009l5-4 3-8-4-80-3-8-4-3-8-1-7 4-5 14-4 2-12-1-8 5-13 60 5 9 8 2 5-3 3-4 8-30 5-10 3 2 1 6 3 40 8 9zM1008 1017l5-52-2-6-8-3-4 2-3 7-2 48 5 7 4 0zM1108 961l1-4-2-2-4-1-2 3 1 4zM551 1081l5-8-1-7-38-29-1-8 1-12-4-8-10-1-12 8-16 3-6 6-1 8 7 9 64 39 4 1zM403 1049l7-8-1-8-6-7-12 0-6 7 2 12 8 6zM439 1093l8-5 2-11-6-9-12-1-8 6-1 12 9 8zM637 1153l20-64-2-7-4-2-8 0-4 5-16 62 1 6 3 3 4 1zM1408 1113l3-4-1-4-19-20 9 24 3 4zM942 1209l7-8 0-12-25-52-5-4-8-1-7 5-2 8 16 56 9 10 8 1zM1343 1221l6-8 1-8-20-56-7-8-11 0-5 4-3 8 15 60 4 6 8 5zM1034 1213l4-8-3-9-4-3-8-1-8 5-2 8 4 8 10 4zM481 1297l2-8-27-52-9-5-8 2-5 7 0 8 3 4 30 45 8 3zM767 1309l3-4 0-8-7-7-56-23-8 1-5 5 1 8 4 5 56 26 8 0zM1263 1305l0-4-4 0 0 4z"/><path fill="#009eaa" fill-rule="evenodd" transform="scale(0.5)" d="M983 1593l-12 0-8-3-8-5-8-11-6-17-5-24-1-32 2-32-3-16-11-16-20-20-11-8-9-3-16 0-16 8-16 15-16 22-9 18-7 20-7 60-5 21-8 15-12 8-29-4-36-8-26-8-41-16-38-20-78-52-12-12-3-8-1-12 1-36-3-20-6-20-11-16-16-12-17-5-16 0-32 4-12-2-12-12-28-43-12-30 0-7 14-13 53-36 7-12 0-16-10-20-20-20-32-18-40-18-16-11-4-7-4-25-2-41 1-44 5-40 8-41 8-26 4-9 8-6 8 1 24 9 12 1 16-5 11-12 4-12-1-12-4-12-10-20-2-12 18-52 5-48 3-8 16-23 28-29 48-20 12-1 12 4 12 11 12 22 3 12-2 28 4 12 11 10 12 0 8-5 6-9 14-56 8-18 8-10 8-5 28-12 20-6 20 0 76 19 48 7 32-4 32-12 12-11 7-16 2-16-4-36 4-16 7-16 8-11 12-9 16-5 20-2 12 1 12 5 8 9 6 12 5 20 2 24 0 44-3 16-6 4-28-1-16 7-54 46-20 32-22 6-12 8-6 10-1 8 1 40 6 14 12 8 12-1 11-5 13-10 20-3 20-8 70-43 22-19 20-7 12-7 11-11 13-23 12-6 16-1 12 6 16 21 20 38 8 4 12-1 6-6 3-8-1-40 4-18 8-7 12 2 16 12 20 21 2 6-1 24 7 11 12 4 52-9 8 4 8 10 32 64 6 16 1 20-5 44 9 76 5 9 12 8 28 7 8 4 14 16 10 22 3 50-3 56-8 51-12 49-16 48-20 47-24 45-60 80-48 52-24 20-16 8-36-7-36-11-17-10-27-24-16-10-16-3-12 4-12 14-7 23 1 24 8 52-1 16-4 12-9 11-16 9zM915 849l5-8 9-56-6-15-8-6-8-2-12 5-9 14 2 56 2 8 9 7 8 1zM1298 921l1-8-4-4-60-34-44-29-4 0-3 3 3 6 100 68 4 1zM712 893l2-8-3-5-8-3-8 4-1 8 5 7 8 0zM892 1009l4-4 3-8-5-84-5-8-10-1-8 5-8 13-12 1-9 6-13 60 2 7 4 4 8 1 7-4 13-35 4 6 2 29 3 8 3 4 8 3zM1109 961l1-4-3-3-4-1-3 4 3 6zM1003 1021l4-1 4-7 3-48-3-8-8-2-7 6-3 52 2 5zM553 1081l5-8-2-8-37-28-2-8 1-12-4-8-11-2-12 7-16 4-7 7 0 12 11 9 60 36 8 2zM405 1049l6-8-3-12-9-5-8 1-7 8 1 12 10 7zM443 1093l7-8-1-12-2-4-8-4-12 2-7 10 3 12 8 6zM1411 1113l2-4-1-4-25-29-2 1 2 7 14 29 6 2zM633 1157l6-7 18-57 1-8-7-6-8 0-5 6-15 60 0 9 4 3zM936 1213l7-2 5-6 3-8-1-8-24-52-7-5-8-1-8 6-2 8 13 48 4 12 4 4 5 4zM1336 1225l7-2 6-6 3-12-22-60-7-5-8-1-10 6-1 12 15 59 8 8zM1029 1217l6-4 4-12-5-8-11-2-8 4-4 10 4 8 4 3zM479 1301l4-4 1-8-26-52-7-6-12 0-6 6 0 12 34 51 4 2zM761 1313l6-2 4-6 0-8-4-5-60-26-8 1-4 4-2 6 6 9 56 27zM1269 1313l5-8-3-8-8-4-8 1-5 7 2 8 7 6z"/><path fill="#00aca5" fill-rule="evenodd" transform="scale(0.5)" d="M935 594l-8 1-8-2-6-4-4-8 2-60 3-16 9-19 13-13 19-7 20 1 16 10 11 20 3 28-4 32-7 12-31 10zM759 1582l-24 3-50-12-51-20-36-20-23-21-36-23-16-17-7-19-4-44-4-20-8-20-13-16-12-8-16-6-16-1-32 1-12-2-16-11-20-25-12-24-1-12 4-8 21-20 48-28 6-8 2-12-9-24-19-24-17-12-67-38-12-12-8-14-4-11-3-21-1-41 4-46 12-57 9-16 11-10 8-2 24 4 12-1 12-5 11-10 5-12 1-12-9-36 0-12 14-48 8-48 6-20 10-16 14-12 60-24 12-2 8 2 8 5 8 10 8 17-1 28 2 12 7 11 12 5 12-2 9-10 5-12 12-44 10-20 16-11 32-10 20-3 24 2 144 32 12 6 5 8 0 20-3 8-14 13-7 11-2 8 1 48 4 9 8 9 12 4 16 0 3 2-4 20 3 52 6 12 12 6 12-4 7-10 9-56-3-12-7-16 3-4 63-31 57-13 11-4 7-8 7-28 14-23 12-14 12-6 12 0 12 6 12 17 15 28 5 6 8 4 12-2 8-7 3-9 0-32 3-16 6-7 12 1 16 11 15 15 3 8 1 20 4 8 5 5 12 4 28-4 16 1 11 6 9 12 26 52 7 20 0 60 5 64 4 16 10 13 30 19 14 13 12 17 8 22 4 28 1 32-12 72-25 92-40 92-12 15-39 29-8 12-15 36-14 24-28 28-19 12-13 3-16-1-44-10-24-12-32-29-16-11-16-5-16 4-12 13-10 28-2 24 3 52-5 20-14 18-12 7-16 6-16 0-12-3-12-9-7-11-9-32-3-60-6-16-11-14-19-22-13-7-16-3-16 4-12 7-12 11-20 28-15 36-9 52-6 20-10 15zM1299 921l1-8-5-5-60-34-44-29-4 0-4 4 4 7 100 68 8 0zM708 897l7-8-1-8-7-5-8 1-5 4-1 8 6 8zM883 1013l12-4 5-8 0-8-4-80-5-7-8-4-10 3-10 15-16 2-7 7-13 60 3 8 5 4 12 1 8-9 8-20 7 32 5 6zM1109 961l1-4-3-4-4 0-4 4 1 4 3 3zM1006 1021l6-8 3-48-4-9-8-2-6 3-2 4-3 52 6 8zM554 1081l5-8-2-8-36-28-3-8 1-12-4-8-4-3-8 0-12 7-16 4-6 4-4 12 6 9 68 41 8 2zM407 1049l5-8-2-12-11-6-12 4-5 10 5 12 12 4zM445 1093l7-12-4-12-9-5-12 2-8 11 2 12 10 7 8 0zM1413 1113l0-8-34-40 0 5 21 43 7 4zM635 1157l5-8 19-60-3-8-5-3-8 0-6 7-15 60 0 8 4 4zM941 1213l6-4 5-8 0-12-25-52-8-6-12 0-6 6-1 8 16 60 11 9 8 1zM1342 1225l6-4 5-8-1-12-21-56-8-7-12 1-7 6-2 8 14 60 5 8 6 4 8 2zM1032 1217l7-8-1-12-7-7-12 1-7 6-1 12 8 9 8 1zM481 1301l4-4 1-8-27-53-8-8-12 0-6 5-3 8 3 12 33 48 9 3zM765 1313l5-4 2-8-5-11-60-25-8 1-4 3-2 4 0 8 6 6 56 27zM1270 1321l5-2 5-6 1-8-3-8-11-8-13 0-8 8 0 12 9 10 8 3z"/><path fill="#00b296" fill-rule="evenodd" transform="scale(0.5)" d="M963 569l-16 3-12-5-8-13-3-21 3-20 8-16 12-11 16-4 12 2 12 9 7 12 3 16-3 20-7 15-8 7zM751 1573l-24 4-33-4-46-16-38-20-30-28-34-24-14-16-9-20-11-64-9-20-12-15-12-9-16-7-16-2-32 0-16-4-12-8-15-15-12-20-1-12 2-8 11-16 23-16 32-10 5 2-4 12 1 12 35 52 7 5 8-1 5-4 3-8-2-8-14-26-10-26-6-7-12-9 4-10-1-10-7-20-12-20-9-12-15-13-65-39-19-16-14-24-8-40-1-36 5-36 7-32 11-24 8-10 8-6 32-2 16-5 10-9 7-12 3-16-5-32 1-12 14-52 8-48 6-16 12-17 16-12 48-18 12-2 8 1 12 9 8 13 2 34 3 12 11 11 12 3 12-5 7-9 17-52 8-16 8-7 16-7 36-7 28 0 64 15 45 14 23 12 13 16 0 12-7 16-2 12 3 52 9 15 21 13 3 8 9 60 7 11 12 4 12-3 7-8 11-56-1-24 6-8 29-14 24-8 24-4 40-2 20-7 5-5 6-12 6-36 4-12 9-12 10-6 12 0 8 6 19 32 8 8 9 4 12-2 8-6 5-8 1-32 2-12 4-5 4-1 12 3 23 19 6 24 7 12 12 6 28-1 16 3 11 8 11 16 20 40 8 24 3 112 4 24 11 18 32 25 13 13 10 16 7 20 5 40-5 48-28 108-22 56-20 38-12 15-16 9-44 10-3 4 2 44-8 32-7 15-10 13-13 12-12 8-17 6-16 1-24-3-20-6-24-13-32-32-16-12-20-7-16 1-12 13-12 32-5 28-1 52-6 20-8 11-12 9-12 3-12 0-16-7-12-18-5-22-6-52-6-16-11-17-16-21-12-9-16-5-16 1-12 4-12 8-12 12-12 16-20 39-12 56-8 20-12 16zM1294 925l5-3 2-5-3-8-59-33-48-32-4 0-4 4 0 5 4 4 100 68zM710 897l6-8-1-8-8-6-8 1-6 5-1 8 1 4 6 5zM890 1013l9-7 2-9-4-84-6-9-12-3-8 4-9 12-15 4-6 4-15 64 5 11 12 4 8-3 12-14 3 14 5 9 8 4zM1008 1021l5-8 3-48-1-5-4-5-8-2-7 4-3 4-2 52 5 8 7 2zM1110 961l1-4-4-5-7 1-2 4 1 4 4 3zM549 1085l6-3 4-5 0-12-4-4-33-24-3-8 0-16-4-6-12-2-16 8-12 3-7 5-4 12 7 11 68 40zM403 1053l9-8 1-12-6-8-4-2-12 0-10 10 1 12 9 8zM1412 1117l3-4 1-8-37-45-4-1 0 6 23 48 5 5zM441 1097l10-9 2-7-1-8-9-9-12-1-10 6-3 8 0 8 4 8 5 4 8 2zM637 1157l3-4 8-24 12-40-3-8-6-4-8 0-7 8-15 60 0 8 3 4 7 2zM945 1213l7-8 2-8-4-16-25-48-10-5-8 2-7 7-2 8 16 60 5 7 8 4 8 1zM1346 1225l7-8 2-12-20-56-8-10-8-3-8 2-8 7-2 8 15 64 7 8 8 4 8 0zM1034 1217l4-4 3-8-4-12-10-5-12 3-6 10 2 12 12 7zM767 1313l4-4 2-8-2-8-4-4-60-25-8 1-5 4-2 12 7 7 56 27zM1292 1329l2-8-5-16-12-16-10-5-8 0-8 2-8 7-3 8 1 8 4 8 6 6 20 7z"/><path fill="#00b682" fill-rule="evenodd" transform="scale(0.5)" d="M963 550l-8-1-8-6-4-8-1-10 3-12 5-8 9-5 8-1 8 2 5 4 5 8 1 8-2 12-5 8-8 6zM743 1566l-28 3-32-4-40-14-28-17-63-53-14-16-9-20-13-64-9-19-12-16-16-12-16-6-16-3-32 0-12-3-19-13-14-20-3-12 1-8 10-16 21-13 20-5 4 3 6 15 18 24 18 28 6 3 8-1 7-6 2-8-1-8-20-42-5-38-23-45-12-16-16-15-60-37-24-19-8-12-8-16-7-40-1-28 4-32 6-28 11-24 7-10 8-7 36-8 12-6 9-9 7-12 3-16-1-40 14-54 7-42 7-20 11-16 19-13 40-14 20-1 8 4 9 12 4 36 5 12 10 9 12 2 9-3 9-8 6-12 16-44 8-12 12-7 36-8 32-1 36 6 48 15 30 15 10 8 10 12 3 12 1 64 3 16 11 20 6 24 18 27 7 21 9 10 12 3 12-3 8-10 15-72 5-8 24-11 24-8 24-2 44-1 12-2 12-6 8-7 7-11 13-48 4-8 8-8 8 0 4 3 18 25 6 6 12 4 12-2 8-5 7-11 1-24 4-13 8-4 8 2 12 8 8 8 8 23 8 11 12 5 28 0 11 4 13 12 13 20 16 32 7 24 1 64-1 48 4 24 12 19 45 41 10 16 6 16 4 36-4 40-31 116-16 40-26 40-8 8-12 7-16 3-16 0-8-2-24-15-12-3-12 3-12 9-4 14 3 12 9 11 18 13 7 8 8 16 2 20-2 20-7 16-14 17-16 11-16 6-16 1-20-1-20-5-21-13-35-38-16-12-24-10-12-1-7 1-11 12-10 28-9 40-5 52-4 16-6 9-8 7-8 3-12 1-12-6-8-11-5-15-10-56-9-20-17-28-11-11-12-8-16-4-16 2-12 4-15 9-21 24-23 44-13 53-8 19-13 16zM1297 925l5-8-3-8-60-34-48-32-4 0-4 3-1 7 5 4 100 69zM712 897l5-8-1-8-3-4-10-4-8 4-5 8 2 8 7 6 8 1zM893 1013l8-8 2-8-5-84-7-11-12-3-8 4-12 14-12 2-8 6-15 64 3 9 8 7 12 0 12-6 16 16 8 1zM1009 1021l4-8 4-52-6-7-8-2-8 4-3 5-3 52 5 8 5 3zM1111 961l0-6-4-4-8 3-1 7 5 4 4 0zM552 1085l8-8 0-12-5-6-32-23-2-7 0-16-6-7-12-2-16 8-12 3-9 6-3 12 3 8 5 4 68 41 8 1zM406 1053l5-4 3-8-2-12-5-5-8-3-12 3-5 5-2 8 3 12 12 7zM1418 1117l3-4-2-8-40-47-5-1-2 4 1 4 26 52 8 4zM444 1097l10-12-1-12-10-10-8-2-8 2-10 10-1 8 1 8 10 10 8 1zM638 1157l11-28 12-40-3-8-7-5-8 0-6 5-17 64 0 8 3 4 8 3zM942 1217l6-4 6-8 2-8-3-12-26-52-8-5-12 1-8 7-2 9 15 60 5 8 6 4 8 2zM1344 1229l7-4 5-8 2-8-1-8-25-60-9-5-12 0-8 7-4 10 16 64 4 7 8 5 8 2zM1026 1221l5-1 8-6 3-13-7-11-12-3-12 6-4 12 6 12zM769 1313l3-4 2-8-2-8-5-5-60-25-8 1-7 5-1 12 8 8 56 27 8 0z"/><path fill="#00b96e" fill-rule="evenodd" transform="scale(0.5)" d="M727 1562l-28 0-28-6-32-13-24-15-55-47-17-20-9-20-10-48-6-20-11-20-12-14-16-12-16-7-44-1-16-3-15-11-11-16-1-16 5-12 14-11 20-7 8 5 16 20 22 37 6 6 8 1 8-5 5-6 2-8-1-8-14-27-4-13 0-11 5-13-1-8-28-55-12-17-16-15-59-37-25-20-9-12-8-16-8-40 0-28 3-28 8-28 9-20 14-16 31-10 16-9 9-9 6-12 3-12 3-44 13-52 8-44 6-17 11-15 17-12 36-12 20-1 8 4 6 9 5 32 5 12 12 11 12 2 12-4 8-9 24-55 8-8 8-5 36-7 32-1 36 7 36 12 19 9 17 12 12 14 7 14 5 26 4 58-2 36 6 20 8 8 24 9 16 17 16 5 12-3 10-12 10-47 6-17 6-8 20-10 24-7 24-2 44 2 24-6 13-9 10-12 7-16 10-32 8-11 8 2 12 13 8 6 12 3 8-1 12-6 8-10 3-8 1-17 4-9 8-2 8 3 12 9 11 24 8 8 13 6 24 2 10 4 16 16 15 24 13 28 5 24 1 52-4 56 3 20 13 23 32 29 14 16 10 16 5 16 3 36-3 24-5 17-4 1-8-6-28-33-4-1-4 2-1 4 27 56 10 8 2 4-22 76-12 28-20 28-12 10-12 6-28 6-32-8-12 0-16 6-9 8-6 12 1 16 31 40 7 16 2 16-1 16-8 16-11 12-14 10-16 5-16 2-16-2-16-4-21-15-31-39-16-13-28-12-24-1-12 9-7 16-27 124-10 13-12 2-8-4-4-5-7-34-7-24-16-32-16-28-12-12-14-7-16-3-16 2-16 6-12 8-12 11-12 16-22 43-15 56-11 20-16 13zM1298 925l5-8-4-9-60-34-48-31-4-1-5 3-1 8 4 4 102 70 4 1zM713 897l5-8-3-12-8-5-12 3-6 10 2 8 3 4 9 4zM887 1017l13-8 4-12-4-80-5-13-8-6-8 0-9 3-11 13-16 5-6 6-14 64 4 12 8 6 12 1 12-4 16 13zM1011 1021l3-8 3-52-6-8-8-2-8 4-4 6-3 52 4 8 7 4 8-1zM1108 965l4-4 1-4-2-4-8-3-5 3-1 8 6 5zM554 1085l7-8 0-12-6-8-24-16-8-8-1-20-7-8-12-2-16 8-16 4-6 6-3 12 3 8 6 6 68 40 8 1zM409 1053l6-12-2-12-10-8-8-1-8 3-6 6-3 8 3 12 6 6 8 2 8-1zM440 1101l11-8 4-8 1-8-3-8-6-6-8-3-8 0-8 4-5 5-4 16 3 8 6 7 8 3zM639 1157l14-36 9-32-2-8-9-6-8 0-7 6-17 68 3 8 5 4 8-1zM939 1221l8-3 8-9 3-8-1-12-28-56-10-6-12 0-8 7-3 11 13 60 4 8 6 5 12 4zM1343 1233l13-8 5-8 0-12-27-64-11-7-12 1-9 6-4 12 15 64 6 10 8 5zM1031 1221l10-8 2-8-1-8-3-5-8-6-12 0-10 7-4 8 1 8 9 11 8 3zM762 1317l8-4 5-8-1-12-7-6-60-25-8 1-8 6-2 8 6 11 56 28z"/><path fill="#00bd55" fill-rule="evenodd" transform="scale(0.5)" d="M731 1554l-20 2-24-2-20-5-24-9-32-21-43-38-15-16-13-24-13-56-10-24-14-22-23-22 10-16 1-12-12-27-3-13 6-24 0-12-19-41-16-27-16-20-16-14-36-18-28-20-18-20-10-20-5-24-2-28 2-28 7-28 8-20 12-16 12-8 34-15 9-9 7-12 5-16 5-36 14-56 7-44 8-20 13-15 16-10 28-8 20-1 8 5 4 6 7 31 5 11 12 10 12 2 12-4 7-7 26-52 7-7 12-6 32-6 28-1 32 6 32 10 23 12 15 12 13 16 9 20 4 20 1 24-10 72 1 12 5 12 7 8 12 7 12 2 20-2 20 9 12 2 12-4 10-10 14-53 12-16 20-10 24-5 20-1 48 3 16-2 12-5 12-8 12-14 20-46 8-3 16 6 12 1 16-3 9-8 6-8 5-20 4-7 4-1 8 2 8 6 15 24 9 8 12 5 22 3 12 8 14 16 15 24 10 24 5 28 0 48-6 52 3 24 13 22 46 46 7 12 7 16 2 16 1 20-3 21-4 10-8-4-24-26-8 2-2 5 28 64-22 72-4 5-4-1-4-5-24-51-7-8-9-4-8-1-8 3-7 6-3 8 0 8 15 64 11 13 19 7 2 4-11 12-22 10-20 3-32 0-16 4-16 11-12 16-4 8 1 8 33 40 8 16 3 12 0 16-4 12-9 12-12 10-12 5-16 3-16-1-16-4-12-8-8-9-27-40-13-13-28-11-20-3-12 0-15 7-10 12-19 77-12 24-8 7-8-4-8-11-36-64-12-15-12-9-12-5-12-1-16 1-28 12-12 9-12 13-14 22-15 32-21 64-14 17-12 7zM1300 925l5-8-1-4-5-7-52-28-56-36-4 0-6 3 0 8 3 4 99 68 8 4zM708 901l10-8 1-12-8-9-12 0-10 9 0 12 10 8zM892 1017l10-8 4-12-4-84-7-12-8-5-8-1-8 3-12 12-16 6-8 8-14 65 4 12 10 8 8 2 16 0 16 9 8 0zM1006 1025l6-4 3-8 4-48-4-10-4-3-8-2-8 3-5 8-3 52 4 8 4 3zM1109 965l4-4-1-8-5-3-8 2-3 5 1 4 6 5zM556 1085l7-12-2-12-34-25-3-7-1-16-8-10-8-2-8 2-12 6-16 5-8 7-2 8 0 8 10 12 68 39 8 1zM405 1057l9-8 3-8-1-8-4-8-5-4-8-2-8 1-12 9-2 8 0 8 10 12 8 2zM437 1105l6-2 8-7 6-15-1-8-4-8-9-5-8-2-8 2-9 5-5 8-2 12 2 8 6 11 8 3zM635 1161l8-8 19-60-1-12-10-7-8 0-8 7-17 64 1 8 2 4 6 4zM940 1225l11-5 6-7 4-12-1-12-29-56-12-8-12 1-9 7-4 12 12 64 5 9 8 6 12 3zM1034 1221l5-4 5-8 0-8-3-8-10-8-8-1-8 2-10 11-2 8 2 8 6 7 8 4 8 0zM451 1310l-32 3-20-6-8-7-7-11-1-12 4-11 8-8 12-5 8-1 8 3 16 17 12 20 4 13zM766 1317l9-8 2-8-2-8-8-8-60-24-8 1-8 6-3 9 7 12 60 29z"/><path fill="#00c046" fill-rule="evenodd" transform="scale(0.5)" d="M715 1549l-20 1-20-4-24-8-20-10-20-15-40-36-12-13-10-15-6-16-12-48-8-23-12-22-22-27 4-24-10-24-2-12 7-28-3-20-26-55-22-33-1-4 15-13 6-11 2-12-5-12-7-5-8-3-16 2-10 10-6 20-3 4-9-1-24-13-20-16-14-18-9-20-5-24-1-24 3-28 7-24 7-16 12-16 10-8 30-16 9-8 9-12 7-20 7-36 15-60 7-40 6-16 9-12 15-11 24-7 20-1 8 3 4 4 10 32 6 10 12 9 12 2 12-4 8-7 28-49 8-7 8-4 32-5 32 0 32 7 28 11 20 13 13 12 11 16 7 20 2 16-1 20-16 72 0 16 3 12 9 14 11 10 13 6 12 1 12-2 24-9 28 0 12-6 10-14 6-28 8-19 8-9 16-9 16-5 20-2 68 5 16-3 13-6 12-8 10-12 19-40 6-8 28-2 12-4 13-10 15-26 8 1 8 6 20 23 12 6 23 6 11 8 17 20 14 24 10 28 3 28-2 40-9 52 2 20 6 12 8 12 37 36 13 16 9 20 4 24-2 24-4 8-8-5-16-15-4-1-6 5 0 8 14 31 6 21-2 9-20 49-4 3-4-2-20-35-12-9-16 0-9 5-6 8-1 12 13 60 12 24-1 4-8 6-16 6-40 6-20 6-48 27-11 9-6 8-2 8 4 8 39 14 12 9 12 13 6 12 3 12 0 12-5 12-11 12-17 9-20 2-15-3-13-8-7-8-25-48-8-9-12-6-18-5-30-4-16 1-16 6-13 13-6 16-9 48-8 15-4 4-8 3-8-2-12-12-24-46-16-17-12-7-12-3-28 2-16 5-16 9-12 10-12 13-27 50-20 60-9 15-20 15zM1293 929l6-1 6-7 1-8-7-8-52-28-56-36-5 0-6 4 0 8 3 5 100 68zM712 901l5-4 4-8-2-12-4-4-8-4-12 3-7 9 0 12 3 5 8 5zM889 1021l10-6 7-10 3-12-1-28-5-56-5-8-7-6-12-3-12 4-9 9-19 9-6 7-14 68 4 13 12 11 36 11zM1008 1025l5-4 3-8 3-52-4-8-12-4-10 4-4 8-3 52 3 8 6 5 8 1zM1110 965l3-4-1-8-5-4-8 2-4 6 4 8 4 2zM551 1089l11-8 3-8-1-8-5-8-32-24-3-20-5-8-8-4-8 0-32 12-6 4-5 8-1 8 3 8 5 7 68 40 8 2zM396 1061l15-4 5-8 2-8 0-8-5-8-6-5-8-2-8 0-8 5-5 6-3 8 0 8 4 8 8 7zM637 1161l7-8 13-36 7-28-5-11-8-5-12 2-5 6-16 64 0 8 5 7 8 3zM938 1237l13-7 9-9 5-12 0-16-33-60-5-5-8-4-12 0-8 5-6 12 6 52-2 12-6 20 5 8 11 6 16 1zM1027 1225l8-3 6-5 4-8 0-8-2-8-8-8-8-3-8 1-8 3-7 7-3 8 0 8 4 8 6 5 8 3zM419 1305l-12-1-8-5-6-6-3-8 0-8 5-8 8-6 8-3 12 2 8 6 8 10 7 15 0 4-5 4zM770 1317l7-8 1-8-3-11-8-6-60-24-12 2-6 7-1 12 7 9 60 30 8 0z"/><path fill="#00c137" fill-rule="evenodd" transform="scale(0.5)" d="M719 1542l-16 2-20-1-20-5-20-9-32-22-33-30-15-16-15-28-13-52-8-22-11-22-20-28 0-20-9-28 6-32-2-20-20-50-24-46 13-24 1-12-3-8-6-8-9-5-24 1 1-20-3-8-10-10-12-3-8 3-9 6-4 8-2 8 3 12 8 9 8 3 18 0-6 15-4 3-7-2-37-25-12-15-9-20-4-20-1-24 2-24 6-24 7-16 12-16 9-8 32-20 16-20 8-20 21-88 9-48 8-18 9-10 15-8 20-5 16 1 8 4 3 4 9 24 8 13 12 8 12 2 12-3 9-8 19-32 12-15 8-5 16-5 36-3 32 4 32 11 26 17 11 12 9 16 5 16 2 16-5 32-19 60 0 24 6 16 9 13 16 16 20 15 2 4-13 76 3 16 8 12 12 10 12 7 12 2 12-1 16-7 12-10 6-9 4-32-7-64-7-11-14-13 0-4 10-8 20-8 10-8 6-12 8-29 12-19 20-10 20-5 24 0 56 7 16-2 16-6 13-8 12-12 27-50 36-14 28-28 8 3 28 23 32 14 16 15 15 21 11 24 6 20 1 44-3 24-11 44-1 12 2 12 16 24 37 36 13 16 9 20 2 20-1 16-2 4-6-1-12-9-8 2-4 4 1 8 11 26 3 14-3 12-20 37-4 1-4-3-11-15-13-7-16 0-8 4-7 7-3 16 10 46 3 26-2 8-17 9-64 16-32 14-27 21-22 32-11 8-24 3-60-4-12 2-12 5-13 10-7 12-5 16-4 36-3 8-8 7-8-1-7-6-21-44-10-12-14-10-16-5-20 0-20 5-20 9-24 16-16 21-24 48-25 64-16 16zM1299 929l6-4 4-8-3-8-4-4-53-28-58-37-8 1-4 4 0 8 4 6 100 69 8 3zM714 901l5-4 4-8-2-12-10-9-8-1-8 3-9 11-1 8 4 8 10 7 8 0zM1010 1025l4-4 3-8 3-52-5-9-12-4-12 5-4 8-2 52 3 8 7 6 8 1zM1111 965l3-4-1-8-6-4-8 1-4 7 3 8 5 3zM554 1089l6-4 5-8 1-8-2-8-5-7-29-21-3-7-1-13-7-10-8-4-8 0-32 12-8 6-4 8-1 8 2 8 7 9 68 39 8 2zM639 1161l6-8 20-60-2-12-4-5-8-4-12 2-7 7-15 64 0 8 6 8 8 3zM936 1265l18-8 13-11 10-17 2-16-9-24-36-56-11-9-12-2-12 5-7 10-2 8 3 28 0 12-4 8-18 20-3 8 0 12 7 14 16 13 24 7zM1033 1225l6-4 6-8 2-12-3-8-5-7-8-4-8-2-12 3-8 6-5 8-2 8 2 8 7 8 10 6 8 1zM763 1321l12-6 5-10-1-12-8-9-64-25-8 0-9 6-4 12 3 8 6 7 56 28zM427 1294l-12 3-12-3-5-9 2-8 11-7 8 0 7 3 5 6 2 6-1 4zM1191 1429l-12-1-8-4-10-11-6-12-4-16-1-16 4-12 5-4 20-2 24 4 16 10 11 16 2 16-7 16-14 12z"/><path fill="#00c223" fill-rule="evenodd" transform="scale(0.5)" d="M707 1538l-32-2-16-5-20-9-36-27-23-22-14-16-14-28-20-72-31-56-6-32 4-36-3-24-24-64-15-32 0-8 6-20-2-16-6-8-8-5-24-4-4-23-6-8-6-4-12-2-15 6-7 8-6 20-4 1-14-13-10-23-4-21 0-20 3-24 6-20 8-16 9-12 42-32 11-12 6-12 30-108 7-44 8-16 10-10 12-5 16-4 16 2 8 6 11 23 9 12 12 8 12 3 12-4 9-7 19-29 12-14 12-7 16-4 32-2 28 3 28 11 24 16 12 14 7 12 5 16 1 16-8 36-23 56-2 12 1 12 9 20 40 48 8 12 3 20-4 44 7 21 16 20 12 7 12 2 16-4 16-10 13-12 10-16 8-24 0-16-12-52-6-16 0-8 5-8 20-20 14-39 12-14 16-9 20-5 24 0 56 10 20-3 22-8 14-8 11-12 23-48 6-7 28-16 24-18 8 1 24 16 32 16 16 15 15 21 10 20 7 24 1 24-2 28-6 24-13 35-12-3-34-16-74-46-8 1-6 9 1 4 5 7 104 72 12 0 12-5 20 26 45 44 8 12 5 12 3 16-2 12-15 0-4 2-5 6 0 8 9 23 1 9-5 12-15 24-5 4-4-1-20-9-12 0-12 4-9 10-3 16 8 52-3 16-5 5-12 6-56 13-32 13-28 20-36 35-16 9-24 3-44-3-24 3-16 8-24 24-8 4-8-2-32-22-16-4-24 3-36 15-30 18-18 20-29 60-19 50-8 13-8 8-12 7zM708 905l13-8 4-8 0-8-3-8-7-6-8-2-8 1-12 9-3 14 7 13 8 3zM1012 1025l6-12 3-52-6-11-8-3-8 0-10 6-4 8-2 52 3 8 9 7 8 1zM1112 965l3-4-1-8-7-5-8 1-5 8 3 8 6 3zM557 1089l10-12 1-8-2-8-7-9-28-22-5-21-6-8-9-3-12 1-28 10-10 8-4 8-1 12 4 8 7 8 68 38 12 2zM641 1161l4-4 12-32 9-32 0-8-3-6-12-8-12 1-8 9-15 64 0 8 7 10 8 2zM931 1293l20-6 20-15 12-17 12-28 4-1 20 4 12-2 13-11 4-16-2-8-5-8-14-7-16 2-16 8-4 1-4-2-32-28-24-32-8-5-12-2-13 5-8 12-3 40-26 32-6 16-1 16 6 16 19 18 32 16zM770 1321l9-8 4-12-4-12-8-7-64-25-12 2-7 6-3 8 1 8 9 12 60 30 8 0zM1203 1417l-12 4-8 0-8-4-6-8-5-12 0-12 3-10 6-6 10-3 12 0 12 6 8 9 3 8 0 12-5 8z"/><path fill="#00c40f" fill-rule="evenodd" transform="scale(0.5)" d="M715 1530l-16 2-20-1-32-10-36-25-25-23-15-18-14-26-21-76-29-60-4-20 2-36-2-20-37-108 0-32-5-16-10-7-24-5-6-20-6-8-8-5-8-2-12 1-10 6-14 15-8-4-9-19-4-20 0-20 2-20 5-20 8-16 9-12 41-33 17-23 8-20 25-92 6-40 6-16 8-8 10-5 16-3 12 1 10 7 12 20 10 12 12 8 12 2 12-3 8-6 32-40 12-7 16-4 28-3 28 4 25 9 23 16 10 12 8 16 3 16-1 16-11 36-31 56-2 12 1 8 6 12 37 38 18 22 7 12 6 20 0 48 7 20 9 12 9 7 12 7 12 2 16-3 16-10 23-23 31-40 3-12-1-12-4-13-15-31-3-12 0-12 23-56 7-12 8-7 16-9 16-3 24 1 44 9 16 2 24-5 24-8 14-8 10-11 23-49 8-12 37-26 8-1 8 3 48 24 17 16 15 21 10 19 6 24 1 24-3 24-8 24-11 24-3 4-7 0-21-8-37-20-47-31-8 1-6 6-1 4 3 8 4 4 60 40 40 31 21 5 61 60 9 12 6 12 2 20-3 4-8 3-7 9 6 32-15 26-12 10-24-1-12 3-10 6-6 8-3 16 5 40-5 16-13 10-56 14-28 11-24 17-44 39-20 11-28 5-72-11-8-4-4-8 12-56 4-5 24-6 12-8 7-17-4-16-7-8-8-5-29-3-17-12-26-9-12-10-10-13-10-7-16-4-12 4-10 11-4 12-1 16-4 8-20 24-12 20-6 16-4 16 1 12 5 12 39 36 2 8-2 8-13 12-49 32-13 12-9 16-48 111-16 17zM713 905l6-4 7-8 3-16-3-8-7-5-8-3-12 1-8 5-6 6-4 12 2 8 5 8 7 5 8 2zM1007 1029l7-4 4-8 4-56-7-12-12-4-12 4-7 8-3 56 3 8 7 7 8 2zM1113 965l3-8-5-8-8-2-8 6-1 8 5 7 8 1zM550 1093l9-4 8-8 3-8-1-12-6-10-29-22-5-20-6-8-8-4-12-1-32 11-9 6-5 8-3 12 2 12 5 8 74 39zM636 1165l7-4 5-8 13-32 7-28 0-8-4-8-5-5-8-3-12 2-10 10-14 64 0 8 5 8 7 4zM767 1325l12-5 7-11-1-16-9-12-69-26-8 0-10 6-4 8-1 8 2 8 5 7 60 32zM1191 1406l-8-2-3-7 3-10 8-4 6 2 4 8-3 8z"/><path fill="#0fcb00" fill-rule="evenodd" transform="scale(0.5)" d="M703 1526l-28 0-32-13-32-22-30-30-11-16-8-16-18-68-30-72-3-16-3-52-33-120-3-28 1-4 6 0 56 25 16 1 12-7 8-11 1-16-5-13-12-12-16-12-5-15-7-8-12-7-16 1-36 15-9 11-2 8-1 16-4 3-18-3-8-20-14-11-12-2-8 2-24 12-8-9-4-12-3-36 7-33 7-15 9-12 44-36 17-24 35-120 2-32 5-12 8-8 9-4 12-1 12 2 8 6 15 21 9 10 12 7 12 3 8-1 12-8 32-38 12-7 16-5 28-2 24 3 24 10 17 12 13 16 6 16 1 20-4 20-17 34-37 42-9 20-14 16-4 12 1 12 4 8 7 5 16 3 12-5 16-15 4 0 12 7 12 10 20 24 10 19 4 20-1 44 6 16 9 12 15 12 13 7 16 4 12-2 12-6 44-43 29-20 9-12 4-16-2-20-6-16-17-32-3-20 2-16 8-23 8-13 8-8 12-8 16-3 20 1 44 10 20 2 52-11 16-7 9-8 7-10 24-55 9-11 15-11 12-5 12 2 28 10 16 9 16 14 16 21 10 20 5 20 1 24-3 24-9 24-12 20-8 4-21-8-30-16-49-32-8 1-4 2-3 5 0 8 7 9 52 35 48 39 10 5 54 49 17 19 6 12 4 16-1 4-11 16 1 24-9 16-11 14-8 6-28 6-15 10-8 16-1 36-6 12-8 8-14 7-48 16-20 9-20 14-52 44-20 10-16 3-20-2-23-9-12-8-7-12-2-16 1-16 8-8 15-8 11-16 1-16-8-16-22-16-11-12-11-7-44-6-24-19-12-4-12 0-12 4-11 12-9 25-26 35-34 61-12 17-8 4-12 0-26-6-54-17-12 5-7 8-2 8 1 8 8 12 64 35 20 2 12-4 6-5 14-22 12-5 12 2 10 5 9 8 2 8-2 8-9 12-34 24-8 11-19 53-26 60-10 16-17 16zM1010 1029l5-4 5-8 4-56-3-8-6-6-8-4-8 0-14 6-7 12-1 24 1 28 4 8 9 9 8 2zM1107 969l7-4 3-8-6-9-8-2-9 7-1 8 6 7zM640 1165l9-8 17-36 4-12 1-20-2-8-6-8-12-6-12 1-10 9-15 68 0 8 5 9 12 5z"/><path fill="#26d000" fill-rule="evenodd" transform="scale(0.5)" d="M707 1518l-28 3-16-4-16-7-32-21-31-32-11-16-7-16-16-64-28-76-8-60-21-80-5-56 3-4 8-1 44 13 12-2 8-4 11-14 5-20 3-4 13-6 6-6 2-12-5-16-11-11-12-6-16-1-20 3-24-8-12 1-40 16-10 10-9 24-5 1-8-4-10-17-10-7-8-3-12-1-24 7-5-4-3-8-3-16-1-20 7-32 14-24 46-36 15-20 7-20 14-60 17-48 2-12-1-20 3-8 4-5 8-4 8-1 12 3 11 7 25 30 12 8 12 5 8-2 8-5 36-42 12-7 16-6 24-3 20 3 21 7 19 14 9 10 7 16 2 16-3 20-9 20-14 19-16 14-28 17-8 9-3 13 3 48 8 12 12 6 16-1 24-10 12 6 14 11 17 20 8 20 2 20-2 40 5 16 14 16 18 14 20 11 16 3 16-5 44-47 24-13 24-5 4 2 12 18 8 5 8 2 12-3 8-10 6-56-2-12-12-10-12-3-16 1-12-24-15-24-5-12-2-16 3-16 7-16 12-12 12-6 16-1 56 12 20 1 72-12 8-3 8-7 23-60 10-16 11-10 12-6 16 0 20 6 20 11 16 14 13 17 9 20 5 20 1 20-4 23-8 20-12 18-4 4-8 2-18-7-30-16-44-29-8 0-4 2-5 7 0 8 5 8 68 48 32 33 55 47 19 20 9 16 2 16-7 32-9 16-20 20-25 10-16 10-9 12-14 36-14 16-15 10-56 25-60 50-28 15-20 1-17-5-15-11-8-14-2-19 19-24 6-16-3-16-11-24 2-20-3-8-12-6-16-3-60 0-24-12-12-3-16 2-16 10-60 94-12 14-16 13-20 9-20 4-19-2-29-9-8 0-8 3-5 6-6 12 1 12 4 8 6 7 32 17 43 28 13 12 5 12-1 20-7 32-27 64-10 16-8 9-11 7zM1109 969l8-8-1-8-5-6-12 0-6 6-1 8 7 8zM645 1165l5-4 9-15 20-15 5-14-1-8-13-32-11-10-12-4-12 3-10 11-13 72 3 10 8 8 12 2z"/><path fill="#46d500" fill-rule="evenodd" transform="scale(0.5)" d="M763 1241l-24 1-20-7-12-11-29-39-5-12 21-52 0-16-3-11-8-13-16-15-27-13-4-4-24-44-17-16-16-7-20-3-20 0-32 4-44 19-8 7-16 22-4-1-14-13-10-6-16-3-20 2-4-2-4-5-3-14-1-20 2-16 5-16 13-20 44-32 16-20 7-20 13-61 22-55 2-12-1-20 1-4 4-2 12-1 12 7 36 41 12 9 8 3 8-1 8-7 24-35 12-14 16-10 16-6 24-1 24 5 20 12 13 16 5 16 0 16-4 16-9 16-20 20-40 20-11 8-5 8-1 16 13 48 7 14 8 5 24 3 24-6 8 1 12 6 15 13 11 16 7 20 0 20-4 32 5 20 17 20 59 40 8 8 1 4-4 20-9 24-15 28-16 24-15 17-12 8-16 7zM1095 1277l-16 3-16-4-14-11-8-16 2-12 9-16 4-12 0-12-2-24 19-36 0-8-4-8-22-7-28-4-20 1-52 7-24-7-34-6-7-8 1-8 9-20 13-20 14-15 12-8 16-5 16 0 8 2 20 11 8 2 12-3 10-12 5-64-4-8-7-7-20-10-11-23-18-28-4-12-1-12 3-12 8-12 11-7 12-2 68 12 101-11 11-8 13-52 15-27 8-7 12-6 12-2 16 3 16 7 16 12 15 16 10 20 6 20 1 20-4 20-9 20-15 19-8 3-12-3-23-11-53-35-8-1-7 4-4 8 0 8 7 10 56 42 6 8 3 12 11 12 64 50 19 18 9 12 6 16 1 12-3 16-10 20-14 16-16 10-32 13-7 5-26 44-14 16-17 11-42 21-50 45zM1111 969l7-8-1-8-6-7-12 0-7 7 2 12 9 6zM699 1514l-16 1-16-2-20-8-16-10-34-30-14-17-10-19-19-72-22-64-12-64-17-64-3-24-1-24 3-16 5-7 8-1 20 6 12 0 12-3 8-5 20-20 12 0 13 6 3 4 2 12-6 52 2 12 6 8 8 5 12 1 16-4 8 6 1 8-5 24 0 16 4 12 14 20 0 20 3 12 11 14 25 14 20 16 26 28 7 12 3 20-2 24-23 58-11 18-9 11-12 8z"/><path fill="#5fd900" fill-rule="evenodd" transform="scale(0.5)" d="M647 806l-12 1-12-4-12-11-10-15-2-8-1-12 10-28 15-24 8-8 14-8 26-5 16 1 12 4 18 12 10 16 3 20-5 20-11 16-15 13-20 10zM759 1229l-16 0-16-7-12-10-14-19-7-16-1-12 11-56-1-16-4-12-12-15-37-29-29-44-14-13-16-8-20-5-32-5-24-1-12 3-12 6-48 42-8 5-28-11-24-3-7-6-4-16-1-16 3-16 4-12 8-12 9-8 43-24 12-12 8-20 6-52 7-28 16-31 20-25 8 1 8 5 18 18 12 16 6 16 2 32 6 11 12 7 36 3 8 4 8 9 12 22 12 40 8 12 12 3 40-7 16 1 20 11 16 20 6 24-7 48 4 20 13 16 42 32 13 12 7 12 2 16-2 16-8 20-10 20-12 16-12 12-12 7-16 7zM1275 878l-12-1-23-12-52-36-2-4 6-40 6-20 13-19 16-11 20-1 24 10 20 18 8 11 7 16 4 28-4 24-14 24-9 9zM1099 1262l-16 3-12-3-12-9-6-12 0-8 5-20 5-29 20-29 6-14-2-16-8-12-28-11-36-8-20 2-40 11-16 1-28-9-7-6-3-8 1-12 6-16 11-15 12-9 12-3 12 0 44 9 16-7 8-11 5-64-5-11-15-17-9-23-19-29-5-13 0-11 4-8 12-8 12 0 48 8 68-8 44 5 4 3 6 16 22 20-3 4-9 7-8 15-2 10 6 11 16 8 40 8 28 14 59 43 14 16 7 16 1 12-3 16-6 12-10 12-18 12-40 17-11 11-24 36-14 16-15 11-38 21-42 38zM1112 969l6-8-2-12-9-5-12 4-5 9 3 8 10 7zM703 1505l-16 4-16-1-16-5-20-10-16-12-16-16-13-16-12-20-5-16-13-56-17-56-15-64-19-68-2-24 1-20 4-16 7-7 24 0 12-2 24-13 8-2 12 4 8 8 4 7 1 9-2 40 3 8 6 7 21 9 3 4 3 40 8 24 14 20 13 28 35 28 30 36 11 16 5 16 1 16-3 16-9 24-11 24-10 16-12 12z"/><path fill="#78dc00" fill-rule="evenodd" transform="scale(0.5)" d="M663 790l-12 1-12-2-16-10-10-18 1-20 10-24 15-15 20-9 24 0 18 8 11 12 6 16-1 16-7 16-11 13-16 9zM1267 873l-16-4-27-16-20-16-8-12 3-32 8-24 12-16 16-9 20 1 20 9 18 19 11 24 2 24-7 23-16 21zM771 1218l-20 1-16-5-13-9-12-16-5-12-3-16 13-64 0-12-2-12-9-12-33-23-12-12-32-53-16-10-64-15-36-12-17-11-15-20-4-9-2-15-1-56 1-20 10-30 8-12 12-10 8-2 8 2 8 5 8 10 7 17 5 32 9 16 15 8 36 8 17 12 11 20 10 40 6 11 8 3 8 1 40-11 20 0 18 8 14 16 5 12 2 16-11 52 0 12 3 8 11 12 35 24 18 16 11 16 3 16-6 28-15 28-20 19zM1099 1247l-12 2-12-3-9-9-3-11 3-21 5-11 24-29 7-16-1-20-7-12-7-8-24-13-56-21-12 2-36 18-12 2-12 0-16-8-5-8-1-12 3-12 5-8 14-10 16-1 32 10 12 0 16-8 12-15 3-8 5-60-9-24-6-32-13-32 0-4 3-4 41-3 52-11 24-2 28 7 9 5 7 8 4 12-7 40 4 12 7 10 16 9 52 12 32 18 32 22 14 13 10 16 3 16-6 20-13 16-12 7-32 13-15 8-17 16-33 44-15 11-38 21-34 33zM431 1002l-8 2-14-3-15-4-6-4-6-16 0-24 6-16 15-14 20-7 24-2 10 3 8 8 5 12 0 12-6 16-10 16-11 13zM1114 969l5-8-2-12-10-6-12 3-6 11 3 8 11 7zM691 1501l-12 1-16-2-16-6-16-9-16-13-13-15-20-32-42-172-20-60-5-20-2-20 2-20 5-16 7-8 28-6 24-7 12 3 11 10 6 12 1 36 6 10 15 14 6 48 9 24 32 44 25 24 30 36 15 24 5 16 1 16-5 20-10 24-8 16-11 14-12 9z"/><path fill="#94df00" fill-rule="evenodd" transform="scale(0.5)" d="M667 778l-16 1-16-7-8-11-3-16 4-16 11-16 16-9 16-3 16 4 11 8 7 12 2 12-3 12-9 14-12 9zM1267 866l-8 2-8-2-17-9-21-16-7-12 0-28 7-24 10-14 16-9 16 0 20 9 16 17 9 21 1 20-6 20-12 15zM615 942l-12 2-16 0-32-8-25-15-18-20-17-36-11-44 0-16 3-15 4-9 8-8 12-2 6 2 6 7 5 13 5 36 10 15 16 8 40 7 12 7 8 8 8 19 2 24-4 16zM1091 1229l-8-2-4-4-1-10 8-12 25-20 5-8 4-20-4-20-10-16-12-12-49-28-17-12-7-8-3-12 11-28 6-52 4-68 3-12 12-12 24-12 25-7 20-1 20 7 7 5 6 8 2 12 0 40 4 12 9 11 16 9 48 11 27 13 49 36 9 12 3 16-4 16-12 14-12 7-36 14-16 9-18 16-34 43-16 9-40 16-8 8-18 24-10 7zM419 986l-12 0-7-5-5-8-2-12 1-12 5-8 8-6 12-3 8 1 8 4 6 8 1 8-2 12-4 8-8 8zM727 1047l-8 0-16-5-28-17-15-20-10-28 2-16 8-8 33-16 18-5 16 0 16 8 11 13 4 16 0 16-7 23-12 27-5 6zM1115 969l5-8-2-12-11-7-8 1-5 2-6 12 6 12 9 4zM955 1082l-16 2-12-7-4-12 2-8 6-7 8-4 8 0 8 3 10 8 2 12-5 8zM771 1209l-20 1-16-6-15-15-9-20 1-24 9-32 10-27 5-9 7-5 8 0 12 3 32 15 21 19 9 20-1 24-12 28-17 18zM691 1494l-12 2-16-2-16-6-16-9-26-26-18-31-34-157-27-68-5-20-2-20 4-20 7-16 9-8 24-6 12-2 12 5 11 11 5 10 4 26 13 24 5 52 8 24 16 24 69 76 20 32 4 12 0 16-3 16-7 20-9 16-8 11-12 9z"/><path fill="#b2e400" fill-rule="evenodd" transform="scale(0.5)" d="M671 766l-12 2-12-3-8-7-4-9 0-12 6-12 10-9 12-4 12 1 8 3 8 9 3 8-2 12-4 8-8 8zM1267 858l-16 2-16-6-15-13-5-12-1-24 5-20 11-16 13-6 16 0 16 8 12 13 8 17 1 20-5 16-9 12zM1175 1154l-12 2-12-4-27-31-17-16-62-40-7-8-7-12-1-12 9-60 17-52 6-28 7-12 9-8 25-11 12-1 12 1 8 4 9 7 6 16-1 32 2 12 6 12 10 12 20 12 40 7 20 8 52 36 8 8 4 9 0 16-8 12-12 8-40 14-20 11-28 23-22 28zM591 929l-24-5-12-7-9-8-5-8-4-12 1-8 5-7 13-5 23-2 16 3 12 7 9 16-1 20-8 11zM723 1026l-16 1-20-9-12-13-8-20 1-16 9-12 18-12 20-6 12 1 12 6 9 11 3 12-1 16-5 16-10 15zM1110 973l10-8 2-8-2-8-5-5-8-3-12 2-8 10 2 12 10 8zM771 1202l-16 0-16-5-12-12-9-20 2-24 10-28 13-18 12-6 20 2 20 11 14 15 7 20-1 20-10 20-14 16zM691 1486l-12 3-16-1-16-6-12-6-24-23-18-32-20-100-6-52-6-16-29-56-6-20 0-20 5-17 10-15 14-8 12-1 8 1 8 4 11 12 17 48 1 60 8 24 15 20 68 72 16 20 8 16 4 12 0 16-6 28-15 24z"/><path fill="#d2e600" fill-rule="evenodd" transform="scale(0.5)" d="M667 754l-12 0-8-9 2-12 10-7 12 1 6 6-1 12zM1267 850l-16 2-12-4-11-11-5-12-1-20 5-16 8-10 12-7 16 1 12 7 11 13 4 12 1 16-4 12-8 10zM1167 1118l-12 2-16-5-64-38-25-20-10-20-1-24 4-24 10-28 21-40 5-28 4-8 8-8 16-7 12-1 8 2 11 10 4 12-1 32 2 12 8 16 12 13 24 15 36 5 16 6 52 37 9 12-2 12-8 8-55 19-44 27zM595 911l-12 1-11-7-4-8 3-10 8-4 8-1 12 5 4 6 0 8zM1113 973l9-8 2-8-2-8-11-10-8-1-8 3-6 4-4 8 2 12 12 10 8 0zM723 1010l-12 2-12-3-12-9-6-15 0-12 7-12 15-11 12-4 12 1 8 5 7 9 2 8-1 12-4 12-8 11zM771 1194l-16 1-14-6-11-12-5-16 2-20 9-20 11-13 16-7 16 3 14 9 10 12 4 16-1 16-7 17-12 12zM587 1243l-8 0-16-12-20-26-10-20-1-16 5-20 10-13 12-6 12 0 12 8 8 12 8 23 2 20-2 23-5 17zM675 1481l-24-3-20-11-16-18-13-24-7-25-9-79 3-24 6-9 4-2 8 2 12 6 44 37 35 38 17 28 4 12 1 16-7 28-8 12-9 8-9 5z"/><path fill="#e8e400" fill-rule="evenodd" transform="scale(0.5)" d="M1267 842l-12 2-9-3-9-8-6-12 0-16 4-11 8-9 8-3 12 0 8 4 8 8 6 11 1 12-3 11-7 9zM1151 1101l-12-1-16-5-47-26-21-20-7-20 0-20 4-20 11-22 12-17 4-3 6 18 6 7 8 4 8 1 8-3 6-5 5-8 1-12-8-9-16-5-17 2 7-44 6-8 12-7 12 1 9 10 1 8-3 28 1 12 5 12 17 20 18 17 16 11 12 2 24 0 8 4 41 38 0 4-5 4-44 18-48 28zM723 995l-8 2-8-1-8-5-4-10 0-8 4-8 8-7 8-4 8 1 6 2 7 12-1 8-3 8zM771 1186l-12 1-12-3-10-11-4-12 1-16 7-16 10-11 12-5 12 1 12 7 8 11 3 13-1 12-6 14-8 9zM579 1214l-8 1-12-6-12-13-8-15 0-8 4-13 8-10 8-4 8 0 8 5 11 18 2 12-1 16-4 12zM671 1474l-20-3-16-8-13-14-11-20-8-28-2-48 2-20 4-7 4-3 8-1 12 4 28 20 27 27 17 28 5 24-5 24-12 16-8 5z"/><path fill="#ebc800" fill-rule="evenodd" transform="scale(0.5)" d="M1267 833l-8 2-8-2-9-12-1-16 5-8 5-3 8-2 8 2 10 11 3 8-1 8-4 7zM1115 905l-4-2-1-6 5-5 4 0 0 9zM719 975l-4-2 0-4 4-2 3 2zM1155 1086l-20 2-24-7-28-15-17-17-8-16-2-20 6-24 13-19 4-2 16 9 12 1 8-2 16-11 4 2 27 26 17 25 17 15 2 4 0 8-8 16-16 16zM771 1178l-12 1-8-2-8-8-3-8 1-12 5-12 9-8 8-3 8 0 8 4 6 7 3 8 0 12-3 8-6 8zM567 1187l-8 1-6-7 1-8 4-4 5 0 5 4 1 8zM667 1465l-16-1-12-5-12-13-8-17-5-24 0-24 5-19 8-8 8-1 8 3 20 14 16 18 11 21 4 20-3 16-8 13z"/><path fill="#ebb200" fill-rule="evenodd" transform="scale(0.5)" d="M1267 821l-8 1-4-5 0-7 4-3 8 1 3 5zM1135 1077l-16-1-20-8-16-11-13-16-5-16 1-16 6-16 11-13 24 1 21-4 16 12 15 20 11 28 0 16-4 8-8 8-11 6zM763 1170l-6-1-5-4-2-12 5-9 4-3 8-1 8 7 1 10-4 8zM667 1454l-8 2-12-1-8-6-8-13-4-15 0-17 4-12 8-7 8 0 8 4 9 8 7 12 7 20 0 8-3 9z"/><path fill="#f09600" fill-rule="evenodd" transform="scale(0.5)" d="M1139 1065l-16 3-16-4-16-10-11-13-6-16 1-12 5-12 11-12 20-3 12 2 12 8 11 13 9 20 1 16-5 12zM651 1435l0-6 2 4z"/><path fill="#f28000" fill-rule="evenodd" transform="scale(0.5)" d="M1127 1057l-12 0-8-2-12-9-6-9-4-12 1-8 5-10 8-6 12-2 12 3 9 7 8 12 4 12-2 12-6 8z"/><path fill="#f56900" fill-rule="evenodd" transform="scale(0.5)" d="M1123 1046l-12-1-8-8-3-12 7-8 12 0 8 8 3 12z"/></g>
<g stroke="#fff" stroke-opacity="0.32" stroke-width="4"><line x1="136" y1="509.2" x2="740.2" y2="509.2"/><line x1="438.1" y1="207" x2="438.1" y2="811.5"/></g>
<polygon points="296.0,478.5 303.1,498.8 324.5,499.2 307.4,512.2 313.6,532.8 296.0,520.5 278.4,532.8 284.6,512.2 267.5,499.2 288.9,498.8" fill="none" stroke="#fff" stroke-width="3.6" stroke-linejoin="miter"/>
<g fill="none" stroke-width="3.2" stroke-linecap="square"><path stroke="#6e6e6e" d="M136 207H740.2V811.5"/><path stroke="#3a3a3a" d="M136 207V811.5"/><path stroke="#111" d="M136 811.5H740.2"/></g>
<path fill="none" stroke="#333" stroke-width="3" d="M136 811.5V826.5M136 811.5H121M438.1 811.5V826.5M136 509.2H121M740.2 811.5V826.5M136 207H121"/>
<g font-family="'Liberation Serif', serif" font-size="28" font-weight="bold" fill="#111"><text transform="translate(133 853.5) scale(0.88 1)" text-anchor="middle">-1</text><text transform="translate(114.5 817) scale(0.85 1)" text-anchor="end">-1</text><text transform="translate(439.1 853.5) scale(0.88 1)" text-anchor="middle">0</text><text transform="translate(114.5 514.8) scale(0.85 1)" text-anchor="end">0</text><text transform="translate(741.2 853.5) scale(0.88 1)" text-anchor="middle">1</text><text transform="translate(114.5 212.5) scale(0.85 1)" text-anchor="end">1</text></g>
<g clip-path="url(#clb)"><circle cx="1150.8" cy="509.2" r="300.8" fill="#4e007d"/><path fill="#410080" fill-rule="evenodd" transform="scale(0.5)" d="M2052 441l-24 3-24-4-20-11-19-16 174 0-39 10zM2340 1617l-52 2-68-3-32-4-32-9-80-29-44-25-44-18-48-32-48-39-42-43-54-68-26-48-24-52-20-56-12-48-2-36 5-40-12-48-3-20 0-32 8-60 12-52 20-60 25-52 36-60 28-40 28-32 41-41 44-37 56-36 36-19 36-17 72-24 52-12 56-8 100 0 56 8 84 19 4 3 8 1 4 3 16 5 48 25 48 32 60 36 20 14 47 48 41 51 20 21 9 12 21 44 28 68 12 36 16 72 8 60 1 72-5 48-12 64-16 52-17 44-16 32-31 44-29 52-26 36-17 16-78 65-68 44-40 21-48 21-28 8-100 18zM2086 601l-2-2-4 2 4 3zM2441 761l9-4 2-4-2-4-22-3-8 3-3 4 1 4 6 5zM2519 1021l2-4-1-8-4-8-4-3-6 7-2 12 4 6 4 1zM2128 1029l4-4 2-8-2-4-8-2-7 6-1 8 4 5zM1930 1241l-1-12-9-16-8-6-18-6-14-28-4-4-8 2-9 14 1 12 8 7 20 8 9 17 7 7 16 6z"/><path fill="#370082" fill-rule="evenodd" transform="scale(0.5)" d="M2320 1617l-52 0-72-6-36-8-83-30-45-25-36-15-32-18-44-33-50-45-32-36-45-60-26-48-24-56-20-60-8-36-1-36 6-29 3-3-15-42-5-30 3-60 8-48 16-60 17-44 29-58 36-58 24-32 36-40 48-45 36-27 52-33 48-24 40-16 64-19 60-13 44-5 68 0 48 5 64 12 56 15 40 17 40 21 36 25 52 30 40 31 33 34 66 80 35 64 27 68 13 44 12 56 8 68 0 56-5 48-12 64-20 68-17 40-16 30-27 38-32 56-29 36-24 22-71 58-55 36-46 25-52 21-40 11-88 16zM2568 629l9-36-4-8-5-1-4 1-5 8 5 33zM2088 613l3-12-1-4-4-4-6 0-4 4 0 8 8 12zM2677 705l1-4-2-3-24-21-12-17-4 0 0 5 19 16 16 24zM2491 713l5-8-4-4-4 1-4 7 0 8zM2436 765l14-4 6-4 2-8-2-4-32-2-8 3-10 11 0 4 2 1 16 3zM2513 1025l7-4 2-8-6-15-4-4-4 4-5 15 2 8zM2129 1029l4-4 1-8-2-5-8-2-8 7-1 8 5 6zM1932 1241l-4-16-7-12-9-7-16-6-16-30-4-4-8 3-10 16 0 8 4 8 22 10 12 18 12 10 20 6zM2334 1501l23-12 11-8 2-4-14 0-28 11-3 5 1 4 2 3z"/><path fill="#280087" fill-rule="evenodd" transform="scale(0.5)" d="M2360 1613l-56 3-48-1-56-4-36-8-94-34-38-23-32-12-16-8-48-33-39-32-37-36-33-40-32-44-28-52-23-52-20-61-9-47 0-24 5-19 20 2 8-3-5-8-27-26-11-38-1-28 3-40 12-68 17-56 24-58 24-44 44-67 44-50 48-45 37-28 59-36 59-28 60-20 65-16 52-7 64-2 60 5 48 8 64 15 32 12 51 25 45 31 51 29 32 24 45 45 58 71 16 24 21 40 22 52 16 48 16 72 6 48 2 60-4 56-9 52-16 63-16 44-20 42-31 43-25 48-23 32-31 32-68 56-59 40-36 20-47 21-48 16zM2570 673l2-4 9-76-1-6-4-5-8-2-8 3-4 10 4 76 4 5zM2089 625l4-12 1-16-6-7-8-1-8 8 1 8 7 18 4 5zM2678 709l3-4-1-8-37-40-7-2-4 2-2 4 2 6 36 41 4 2zM2391 713l5-17 0-12-8 5-10 20 2 5 4 2zM2393 773l19-5 28-1 16-6 16-24 28-27 0-9-8-5-8 3-16 30-8 7-12 3-28 0-8 4-24 18-1 8zM2516 1025l5-4 2-8-3-10-8-13-4 4-4 11-2 12 6 8zM2130 1029l5-8-1-8-4-4-6 0-8 6-2 10 2 5 4 2 4 1zM1934 1245l-3-16-9-16-6-6-20-9-16-33-4-5-4 1-14 20-1 12 3 7 8 6 16 7 11 16 9 8 20 9 8 1zM2336 1505l43-24 10-8 4-4-1-2-5-2-21 4-41 16-4 8 2 8 5 4z"/><path fill="#19008c" fill-rule="evenodd" transform="scale(0.5)" d="M2348 1613l-60 2-68-4-40-5-43-13-65-24-36-23-36-13-15-8-53-36-43-36-42-44-48-64-27-48-24-52-16-45-12-44-5-31 2-24 3-8 4-1 49 13 11 2 5-2-73-58-8-25-3-17 2-48 9-60 12-48 16-47 28-60 36-59 24-34 36-41 45-43 35-28 56-36 46-24 40-16 63-20 53-12 54-7 56-1 56 4 67 12 57 15 32 13 40 20 44 31 53 29 35 26 44 44 53 66 17 24 24 44 26 64 13 40 15 70 7 54 1 56-4 52-12 68-16 56-16 42-16 33-12 19-21 26-23 46-28 38-28 28-68 56-59 40-36 20-45 20-48 16-88 16zM2572 677l5-8 7-80-4-9-4-3-8-1-10 5-5 12 2 76 5 8 8 2zM2089 637l7-20 1-20-5-9-12-2-8 6-3 9 11 32 4 5 4 1zM1906 653l26-24 6-8-1-4-9 3-16 15-12 18 0 2zM2682 709l3-8-5-8-36-39-4-2-8 1-4 5 0 8 37 43 7 4zM2396 721l15-52-1-8-6-3-5 3-11 14-16 30 0 8 8 9 8 3zM2395 777l17-6 32-3 16-7 15-20 27-28 3-8-4-8-9-4-8 2-20 30-12 9-12 2-24 0-16 7-16 14-2 8 2 8 4 3zM2518 1025l4-4 2-8-12-33-4 6-6 31 6 9 4 1zM2125 1033l7-5 4-7-1-8-7-5-8 2-7 11 3 10 4 2zM2148 1117l4-22-1 6-3 4zM1938 1249l-8-24-7-12-7-7-16-7-6-6-18-47-19 35-2 8 2 8 7 8 20 10 10 14 10 9 28 12zM2336 1509l32-16 36-24 5-4-1-8-8-1-32 9-44 17-5 7 0 12 9 8z"/><path fill="#000096" fill-rule="evenodd" transform="scale(0.5)" d="M2332 1613l-72 0-64-5-44-11-68-24-17-8-35-23-32-10-27-15-50-36-39-34-48-53-28-37-20-31-20-38-20-46-16-45-9-32-6-40 3-26 4-2 4 1 68 23 8-4 2-4-1-8-89-63-7-21-3-20 2-46 8-54 16-62 16-44 28-58 36-58 24-33 36-40 42-41 36-28 57-36 46-24 41-16 64-20 54-12 56-6 56 0 56 4 54 10 62 16 39 16 38 20 35 27 60 32 36 28 40 41 52 64 17 24 27 52 24 58 16 54 12 60 7 60-1 60-6 56-12 60-16 53-16 40-16 31-12 17-21 23-19 44-16 23-20 24-24 23-36 28-35 30-61 40-38 20-48 20-41 12-86 16zM2572 681l5-4 3-8 8-80-5-12-11-5-8 1-8 6-4 6-2 8 2 80 8 8zM2089 649l7-17 4-35-4-9-12-6-12 6-4 5-1 8 13 41 4 7 4 1zM1901 665l42-40 1-8-4-6-8-1-5 3-18 16-17 21-3 7 0 4 4 4zM2403 777l13-4 32-4 16-8 42-48 2-8-4-10-12-5-11 3-21 30-12 9-16 1-24-4-3-4 0-12 12-44 0-8-2-4-7-5-8 0-4 3-20 31-8 15-1 8 5 13 18 15-12 24 2 12 8 7 8 0zM2681 713l6-8-1-8-3-4-39-42-8-2-8 4-4 8 4 10 38 42 6 2zM2519 1025l6-12-10-32-7-32-2 40-5 28 7 10 4 1zM2349 1009l3-4-2-4-6-1-3 5 3 5zM2128 1033l7-8 2-8-4-8-5-2-8 2-4 4-4 12 5 8zM2280 1061l-4-5-4 1 0 6 4 2zM2141 1149l15-52-1-4-3-2-4 4-8 34-2 20 2 2zM2322 1121l-6-16-2 4 2 12 4 3zM1943 1253l-19-40-8-8-17-8-6-8-9-28-1-24-2-4-5-1-4 5-5 20-11 24-2 8 2 9 8 8 20 11 12 16 8 6 36 16zM2267 1301l2-4-4-4-49-24-2 4 4 4 45 24zM2788 1329l8-4 0-4-1-4-7-3-4 1-3 6 3 6zM2344 1509l30-16 38-24 2-8-2-6-8-4-8 2-48 16-27 12-6 12 1 8 4 6 12 6z"/><path fill="#000f96" fill-rule="evenodd" transform="scale(0.5)" d="M2304 1613l-64-2-54-6-44-12-65-24-41-27-39-13-34-20-53-40-42-40-56-68-20-30-16-29-20-43-16-41-12-38-8-35-2-28 2-11 4-4 72 24 12-5 4-8-1-8-7-9-48-29-40-29-7-21-2-24 4-56 9-50 16-58 20-50 24-46 44-70 24-30 42-44 35-32 38-28 53-32 49-24 84-28 48-12 51-8 44-2 48 1 44 5 63 12 57 16 37 16 29 16 18 12 20 19 39 17 25 15 40 33 36 37 52 65 16 26 28 54 24 62 16 62 11 66 3 52-2 60-8 55-12 52-20 60-24 50-20 26-8 4-8-9-12-6-5 0-5 4-2 8 1 12 5 8 13 8-2 8-8 20-13 20-32 38-95 78-62 40-49 24-42 16-32 8-48 7-42 9zM2570 685l8-4 5-8 8-84-1-8-4-8-10-5-12 2-8 5-7 10-2 8 2 80 7 10 8 3zM2090 661l6-15 7-49-2-8-5-6-12-4-13 6-5 8-1 8 15 50 4 8 4 4zM1901 669l23-20 23-24 1-8-5-8-7-3-10 3-19 16-20 24-3 8 3 8 5 4zM2400 781l16-6 36-5 12-7 45-50 1-12-4-8-10-6-12 1-8 5-16 24-8 9-12 4-20-3-7-6-2-8 12-44-2-12-5-6-8-4-8 1-8 5-24 40-5 16 3 12 14 20-5 20 1 12 4 5 8 5zM2678 717l6-3 4-6 1-7-4-8-41-44-8-2-8 3-6 11 2 9 40 44 8 4zM2234 869l2-4-1-4-3-1-5 1-2 4 2 4zM2514 1029l9-8 2-8-8-28-5-35-4-5-5 4 1 36-4 32 4 8 4 4zM2353 1009l1-4-2-6-8-2-4 3-1 5 1 4 8 3zM2129 1033l7-8 1-12-5-6-8-1-9 7-4 12 5 8 8 2zM1904 1037l0-4-4-3-4 3 0 4 4 2zM2085 1065l-1-5-16-16-4-3-4 2 1 6 17 16 2 1zM2280 1065l1-8-5-3-4 0-3 7 2 4 5 1zM2323 1125l2-4-1-4-16-33 0 15 6 22 2 4zM2139 1161l18-64 0-4-5-3-5 3-11 48-2 16 0 4zM1953 1265l-28-52-9-9-14-7-7-8-8-24-2-32-5-4-5 0-5 4-5 24-10 24-2 12 3 7 8 7 18 10 13 16 9 7zM2550 1205l-2-4-4 0-2 4 2 3 4 0zM2270 1301l1-4-3-4-48-25-7 1-1 4 4 5 44 23 4 2zM1985 1405l1-4-2-3-4-1-3 4 2 4zM2343 1513l69-40 5-8-3-12-6-4-8 0-49 16-31 14-5 6-2 8 3 13 4 5 8 4 8 1z"/><path fill="#002098" fill-rule="evenodd" transform="scale(0.5)" d="M2352 1609l-64 3-64-3-36-5-43-11-65-24-15-8-20-16-1-12-4-6-8 1-4 6-8 1-20-6-16-8-47-32-45-37-48-51-32-42-20-30-24-46-16-36-16-44-12-44-5-34 2-12 3-6 64 23 8 1 8-2 8-6 4-8 0-10-8-11-52-32-40-28-5-13-3-20 2-44 8-56 14-55 16-46 28-58 40-65 20-28 32-36 45-44 35-28 57-36 37-20 37-16 75-24 50-12 56-7 60-1 54 4 68 12 58 16 54 24 36 24 6 8-8 8-2 8 2 11 4 6 8 2 8-3 8-6 4-8 4-2 40 19 36 27 40 40 52 63 20 29 24 44 24 58 12 37 16 70 8 60 1 61-5 56-12 63-16 55-28 66-12 19-12 13-4 1-12-11-16-9-8 0-5 3-2 16 4 20 7 11 10 5 1 4-6 16-9 16-24 32-28 28-40 28-36 32-54 36-37 20-46 20-39 12zM2143 513l13-8 6-8 1-12-7-6-8-1-9 3-10 8-5 8 0 8 4 7 8 2zM2577 685l9-12 3-48 6-36-4-20-3-4-8-4-12 2-12 8-8 10-3 12 0 76 2 8 5 7 8 4 8 0zM2092 673l8-31 6-45-6-15-8-5-8-1-8 2-8 6-5 9 0 8 17 60 8 14zM1907 669l41-41 3-11-3-8-5-4-11-3-8 3-20 17-22 27-1 12 5 8 10 4zM2396 785l20-7 36-7 13-6 45-48 4-12-4-12-11-8-16 0-11 8-21 28-11 5-12-1-7-4-4-8 1-12 9-32-1-12-6-8-8-5-12-1-8 4-24 38-8 16-1 8 3 12 11 20-2 24 2 8 6 8 5 3zM2683 717l5-5 3-7-3-12-41-44-11-4-10 4-7 12 4 12 41 44 8 3zM1872 833l2-8-2-4-8-2-4 2-3 8 3 5 8 1zM2232 873l6-4 0-8-5-4-5 0-4 4 0 8 4 4zM2517 1029l7-7 2-9-7-28-6-36-1-4-4-2-5 2-2 4 2 40-4 28 4 8 5 5zM2350 1013l5-4 0-8-7-6-8 1-3 5 1 8 6 5zM2130 1033l7-8 1-12-6-7-8 0-10 7-3 12 5 9 8 2zM1902 1041l4-4 0-4-6-5-4 2-2 7 2 3zM2084 1069l3-4-3-8-16-16-4-2-5 2-2 4 3 6 20 18zM2282 1065l1-4-3-7-8-1-4 3 0 7 4 4 4 1zM2011 1073l-3-6-5 2-1 4 2 3 4 0zM2326 1125l0-8-14-33-4-4-4 1-2 4 10 37 4 5 4 1zM2141 1161l17-64-2-7-4-2-4 2-4 9-12 58 0 4 4 3zM1978 1289l-2-4-30-36-22-39-20-13-7-8-8-24-1-32-8-7-8 1-5 6-5 24-9 24-1 12 3 8 9 8 16 8 20 21 36 20 36 32 4 1zM2550 1209l2-4-1-4-3-2-7 2-1 4 2 4zM2272 1301l-1-8-7-4-44-23-4 0-5 3 1 8 14 8 38 19zM1987 1405l1-5-4-5-4 0-4 3 0 7 4 3zM2342 1517l30-16 44-27 5-13-5-10-8-5-8 0-52 18-29 13-6 8-2 8 0 8 4 8 5 5 8 4z"/><path fill="#00379e" fill-rule="evenodd" transform="scale(0.5)" d="M2332 1609l-64 1-56-3-36-6-39-12-54-20-21-12-10-8-3-20-9-8-10 0-10 10-4 1-16-5-20-10-52-36-44-38-48-54-28-37-20-32-20-39-20-47-16-48-8-33-3-24 3-17 64 22 12 1 12-5 7-9 2-8-3-12-10-11-52-32-40-29-4-12-3-20 3-50 8-50 16-61 16-43 24-48 44-72 24-32 32-34 44-42 30-24 58-36 46-24 42-16 80-24 48-10 48-5 44 0 47 3 53 8 55 12 37 12 28 12 29 16 22 16 2 4-8 8-3 8-3 24-23 21-7 11-2 8-1 84 6 12 8 5 12 1 8-2 6-4 6-8 2-8 2-44 9-56 3-7 16-13 9-12 7-1 20 9 24 15 24 20 40 41 52 64 16 24 28 53 21 51 15 52 13 60 7 64 0 56-6 52-14 71-16 51-24 55-20 28-4 3-20-17-16-8-9 1-7 6-1 18 5 26 6 10 11 8 2 4-11 26-29 38-31 28-32 20-3-8-5-4-6 0-6 3-2 9 3 4 9 4-14 16-69 48-45 24-38 16-41 12-55 7-36 9zM2141 529l19-14 11-18 1-16-4-7-8-5-16-1-16 6-14 11-10 16-1 16 9 12 12 4zM2092 689l8-31 9-61-3-12-6-8-8-5-8 0-8 2-9 7-5 8-1 12 19 70 8 18zM1905 673l45-44 3-8 0-8-9-11-12-3-12 4-20 17-20 25-3 12 5 12 10 6zM2402 785l18-6 32-6 12-5 46-47 5-8 2-8-3-12-6-6-8-5-12-1-8 2-8 5-24 30-8 4-12-3-4-4-2-6 9-36-1-16-10-13-16-5-12 4-8 8-26 46-3 12 3 12 10 20 0 24 4 12 12 10 8 1zM2680 721l8-5 4-7 1-8-5-11-40-43-12-4-12 4-5 6-2 8 3 12 40 44 8 4zM1873 837l5-8-1-8-9-6-9 2-5 8 2 9 8 5zM2237 873l4-8-1-5-8-5-8 2-3 8 3 8 8 2zM2736 877l1-4-5-2-2 2 2 4zM2519 1029l6-8 2-8-6-24-6-40-3-6-4-1-7 3-2 4 3 40-4 28 4 8 6 6 4 1zM2353 1013l5-8-3-8-7-4-8 1-5 7 1 8 8 6zM2132 1033l5-8 1-12-6-8-8 0-11 8-3 8 1 8 2 4 7 4zM1905 1041l3-4-2-8-6-2-5 2-3 8 3 4 5 2zM2087 1069l2-4-1-5-18-19-6-3-7 3 0 8 7 8 13 12 3 2zM2279 1069l5-4 0-8-4-5-8-1-6 6 1 8 5 4zM2011 1077l2-4-1-5-4-3-4 0-4 4-1 4 3 4 6 2zM2323 1129l5-8-4-14-11-26-5-3-4 1-4 6 11 40 5 4zM2138 1165l6-9 16-59-3-8-5-2-4 1-3 5-13 56-2 12 5 4zM1977 1293l3-4 0-4-32-36-24-40-22-16-6-8-5-16 0-32-3-8-8-5-8 1-8 8-4 24-8 24-1 12 3 8 6 6 20 12 20 20 37 22 35 32zM2552 1209l1-8-5-4-4 0-5 4 1 8 4 3zM2269 1305l4-4 1-4-6-7-48-25-6 0-4 4 1 8 5 4 46 24zM1986 1409l3-4 0-8-9-4-5 4-1 8 6 5zM2341 1521l27-14 48-29 7-13-1-8-4-8-10-6-8 0-52 18-32 16-5 8-2 8 3 16 12 11 8 2z"/><path fill="#004ea2" fill-rule="evenodd" transform="scale(0.5)" d="M2292 1609l-56-1-48-5-37-10-65-24-16-8-11-8-3-4-3-20-9-12-8-3-8 1-8 6-4 7-4 1-22-8-33-20-37-27-53-49-55-69-16-24-16-29-20-42-16-42-12-38-8-36 0-24 4-3 60 20 12 1 8-2 11-8 4-8 2-8-3-12-10-13-57-35-39-28-4-16-2-20 5-56 9-49 16-56 24-58 20-36 48-76 36-41 45-44 23-20 35-24 62-36 45-20 121-36 51-8 54-2 80 6 96 20 53 20 29 16 17 12 2 4-10 16-6 28-19 24-6 16-2 84 5 12 9 7 8 2 12 0 10-5 7-8 5-12 3-52 9-36 6-12 16-16 9-12 3-1 12 5 20 11 24 18 24 23 32 35 52 66 24 41 20 44 20 55 16 67 9 64 3 56-4 52-8 51-12 50-20 59-20 42-16 20-36-25-12 0-12 8-4 15 8 36 7 12 13 12-4 12-12 19-32 38-20 18-20 11-4 1-7-7-9-4-8 0-9 4-8 8-3 12 4 8 10 4-5 8-75 52-57 28-47 16-42 7-16-1-6-10-10-3-7 3-2 4 2 12-12 4-29 5zM2136 545l12-7 12-10 12-16 7-15 3-12-2-11-4-7-8-6-12-2-12 0-24 8-23 18-12 20-2 12 1 8 12 16 8 5 8 3 12-1zM2093 701l4-8 15-100-2-12-6-10-8-5-8-1-8 2-12 8-7 10-3 12 26 97 4 7zM1902 677l10-6 41-42 3-8-1-8-3-8-8-7-12-3-12 3-23 19-21 27-3 13 5 12 10 7zM2397 789l23-8 36-7 12-6 48-51 4-16-5-12-7-7-8-3-12-1-8 1-12 8-20 24-12 4-4-2-3-8 8-36-2-12-4-8-8-8-11-5-12 0-12 5-8 9-24 43-3 8-1 12 12 32 1 20 3 12 12 11 8 2zM2685 721l7-7 3-9-1-8-5-8-41-44-8-4-8 0-12 6-5 6-2 8 2 8 5 8 40 43 12 4zM1872 841l8-8 1-12-9-8-12 0-8 8 0 12 8 8zM2240 873l3-8-3-9-8-3-10 4-3 8 3 8 10 4zM2738 877l1-4-3-4-4-1-4 5 4 6zM2513 1033l11-8 3-12-6-28-5-36-4-7-4-2-8 4-2 5 2 40-2 28 6 13zM2348 1017l8-4 3-12-7-9-8-2-8 5-3 10 4 8zM2126 1037l10-8 4-12-4-10-8-3-12 5-7 12 3 12 8 5zM1908 1041l1-8-1-4-8-4-7 4-2 4 1 8 8 4zM2089 1069l1-4-2-8-16-16-8-5-8 4-2 5 2 6 19 18 5 3zM2283 1069l3-8-3-8-7-4-8 3-3 9 3 7 8 3zM2014 1077l1-8-3-4-8-2-4 3-2 7 2 5 8 3zM2326 1129l3-4 0-8-13-33-4-6-9-1-4 4-1 4 12 40 6 6zM2141 1165l3-5 17-63-3-8-6-3-6 3-3 4-14 64 3 8zM2739 1101l1-4-4-2-2 2 1 4zM1981 1293l0-8-35-40-20-36-22-16-6-8-5-16 0-32-2-8-11-7-12 3-6 8-4 24-8 24 0 12 3 8 7 8 20 11 20 20 35 21 37 34 4 0zM2549 1213l5-4 0-8-3-4-7-1-6 5 0 8 6 5zM2271 1305l4-8-6-8-49-25-8 0-4 5 1 8 5 4 46 24 4 2zM1988 1409l3-8-3-7-4-2-8 2-4 7 3 8 5 3zM2341 1525l27-14 52-33 5-9 1-8-6-13-8-6-12-1-52 18-32 15-9 15 0 12 3 8 6 9 8 6 8 2z"/><path fill="#005fa5" fill-rule="evenodd" transform="scale(0.5)" d="M2340 1605l-72 2-55-2-29-4-41-12-54-20-22-12-4-4-7-28-12-13-12-3-8 2-16 15-15-5-21-12-35-24-49-41-44-48-32-41-20-31-20-40-20-46-16-48-8-33-3-24 3-9 56 18 20 0 12-5 10-12 3-12-3-12-13-16-52-32-41-30-4-4-4-22 1-36 7-52 16-65 16-44 24-50 44-72 20-27 32-35 52-51 37-28 77-44 36-16 19-4-21 20-10 16-1 8 2 8 15 28-4 8-14 19-4 17 25 100 7 8 8-1 5-7 15-100 2-28 26-15 16-14 16-21 13-30 2-16-3-10-8-8-13-6 41-12 61-8 55 0 48 4 88 16 30 8 31 12 31 16 18 12 3 4-9 16-6 32-16 24-5 16-3 88 7 12 11 7 12 2 12-2 11-7 7-8 5-16 1-40 6-28 10-20 28-32 12 4 14 8 34 26 36 36 56 69 16 24 24 45 24 59 12 41 16 77 6 51 0 60-6 54-12 59-16 54-20 48-12 22-8 10-4 0-24-19-12-4-16 1-13 11-4 16 8 36 8 16 13 12-11 24-25 31-20 20-20 13-4 1-16-9-12-3-12 2-8 5-9 8-9 16-10 32 0 8-4 0-35 28-36 20-62 24-43 8-10 0-7-12-11-9-12-4-12 1-9 4-7 8-1 8 7 12-7 4zM1908 677l41-40 8-12 1-12-3-8-7-8-8-5-16-1-20 12-15 14-18 28-1 16 7 12 15 7zM2403 789l17-6 36-8 13-6 48-48 4-8 3-12-2-12-6-6-12-7-12-2-20 4-10 7-14 15-6 1-2-8 3-24-5-16-5-8-9-8-16-5-16 2-13 11-27 48-5 16 3 16 9 20 3 24 5 12 9 7 8 3 8 1zM2682 725l10-7 4-9 0-12-4-8-44-47-16-4-15 7-9 12 0 8 4 8 48 50 12 4zM2636 753l-4-3 0 3zM1877 841l8-12-3-12-10-8-8-1-8 3-6 6-2 6 0 6 3 8 5 5 8 3zM2237 877l8-8-2-12-7-5-12 1-6 8 2 12 8 5zM2740 877l0-6-4-4-8 2-1 8 5 4 4 0zM2517 1033l8-8 3-12-12-68-4-5-8 0-4 2-3 7 2 40-2 28 7 14 8 4zM2353 1017l7-8-1-12-7-7-12-1-8 8 1 12 7 8zM2128 1037l9-8 3-12-4-11-8-3-8 2-5 4-5 8-2 8 3 8 4 4 5 2zM1905 1045l6-8-2-8-5-4-8 0-7 8 2 8 5 4zM2085 1073l7-8-3-8-20-20-5-2-6 2-5 8 3 8 20 19zM2286 1069l2-8-4-9-8-4-10 5-2 8 4 8 8 3zM2011 1081l6-8-3-8-6-4-8 3-4 5 1 8 7 5zM2328 1129l2-4 0-8-14-36-8-6-8 1-3 9 11 40 8 7 8 0zM2142 1165l20-68-2-8-8-4-8 4-2 4-14 64 0 4 4 5 4 2zM2741 1101l-1-6-4-2-4 4 0 4 4 3zM1982 1293l1-8-35-40-21-36-20-16-7-8-5-16 1-32-2-8-10-8-8-1-8 2-9 11-11 52 3 16 9 9 20 12 16 16 37 23 39 35 4 1zM2552 1213l4-8-3-8-5-2-8 1-4 5 1 8 7 6zM2273 1305l3-8-5-8-51-26-8 0-4 4 0 10 4 4 48 25 8 2zM1984 1413l6-4 3-8-5-9-8-1-8 5-1 9 5 7zM2344 1529l24-13 53-35 5-8 2-12-2-8-6-8-12-6-12 1-56 20-20 9-8 6-6 10-1 8 1 12 3 8 7 9 8 6 12 3zM2624 1505l-4 0 4-2z"/><path fill="#0073a3" fill-rule="evenodd" transform="scale(0.5)" d="M2292 1605l-56 0-45-4-45-12-62-24-14-8-2-4-8-28-12-15-8-5-12-1-13 5-11 12-15-4-33-20-33-24-27-23-28-27-56-70-28-47-20-42-16-41-12-38-8-36 0-17 24 4 36 11 16 0 12-4 12-10 4-8 1-12-3-12-6-11-8-7-60-38-36-28-5-8-2-24 3-39 8-49 20-73 28-63 31-48 25-44 16-21 32-32 3 1-14 24 0 16 8 16 7 6 12 3 12-1 8-5 40-39 6-8 2-8-1-12-6-12-9-7-12-4-12 0-20 9-1-2 23-24 42-32 32-16 32 6 20 12 11 10 3 8-7 28-1 16 24 96 6 9 4 2 8-1 4-3 3-7 8-60 13-52 5-8 23-16 16-17 12-19 18-36 5-16 0-12-3-9-6-7 7-4 42-8 53-3 52 2 39 5 84 16 27 8 29 12 28 16 7 8-5 16-6 36-17 36-4 68-2 14-4 8-36-6-32 7-4-4-8-19-8-12-12-9-12-4-20 2-11 7-7 8-27 48-4 16 2 16 9 24 4 20 8 16 14 8 12 1 28-10 44-10 8-5 45-44 9-12 6-16 4-2 24 7 16-2 12-6 16-17 4 0 16 12 36 38 16 3 12-5 7-8 4-12-1-8-6-11-44-46-16-4-24 6-4-9 4-24 9-20 32-36 3-2 8 2 20 12 20 16 40 40 64 80 28 50 28 68 16 59 14 75 3 64-1 44-8 54-16 67-16 47-16 36-12 18-4 1-24-16-16-5-12 1-8 3-12 11-6 15 4 24 9 28 15 20 1 4-11 20-28 34-16 14-12 7-4 1-16-9-16-4-12 2-12 5-14 14-37 48-5 12 0 16-24 16-41 20-46 16-29 5-6-1-11-16-15-10-20-6-20 1-20 8-34 27-4 4 0 4 5 4zM2636 761l7-4 1-8-4-6-8-2-6 4-2 8 4 6zM1875 845l6-4 5-8 2-8-2-8-6-7-8-4-8-1-8 2-7 6-4 8 0 8 3 8 12 9zM2241 877l4-4 2-8-3-10-4-4-8-2-10 4-4 4-2 8 4 11 12 4zM2738 881l4-4-1-8-5-3-8 1-3 6 3 7 4 2zM2365 917l-1-4-1 4zM2519 1033l8-12 1-12-11-64-5-6-8-1-5 3-3 8 2 40-2 28 4 11 8 8 4 1zM2355 1017l4-4 3-8-3-12-11-7-12 3-4 4-2 8 3 12 11 7zM2130 1037l10-12 1-12-5-8-12-3-8 5-5 6-3 8 0 8 8 9 8 1zM1907 1045l5-8-2-8-4-4-6-2-8 3-4 11 4 8 8 3zM2088 1073l5-8-1-6-4-5-20-19-8 0-4 2-4 8 3 8 21 20 8 2zM2281 1073l7-4 1-4-3-12-10-6-8 2-5 8 0 8 9 8zM2014 1081l4-8-2-8-8-5-8 2-5 7 1 9 8 6zM2324 1133l6-4 2-8-14-40-6-6-12-1-4 3-1 8 12 40 8 8zM2144 1165l19-68-3-9-8-4-8 4-3 5-14 64 1 6 4 4 8 1zM2737 1105l6-4 0-4-3-4-4-1-4 2-1 7zM1980 1297l4-4 0-9-36-41-23-38-20-16-5-8-3-16 1-28-4-12-6-5-8-3-8 1-7 3-5 4-4 8-10 52 3 16 7 8 20 12 20 19 36 22 36 33 4 3zM2554 1213l4-8-3-8-7-4-10 4-3 8 3 8 6 3zM2264 1309l8-2 5-6-1-8-4-5-52-27-8 1-4 3-2 8 4 8zM1988 1413l6-8-1-8-9-8-8 2-6 6 1 12 9 6zM2341 1537l15-7 68-49 5-8 1-12-3-12-7-7-12-5-12 0-60 22-16 7-9 7-5 8-3 12 3 20 6 10 8 8 12 5z"/><path fill="#0087a5" fill-rule="evenodd" transform="scale(0.5)" d="M2280 1601l-36 3-52-4-42-11-63-24-12-8-13-36-14-16-12-6-12 0-16 6-12 12-11-4-26-16-39-28-28-24-28-28-52-66-28-47-32-74-16-52-5-25 1-9 4-1 20 2 32 7 16 0 12-3 12-8 9-12 2-12-3-12-5-12-11-12-68-44-32-28-4-7-1-25 9-74 12-49 12-37 16-37 20-35 4-4 16-7 8-9 5-12 3-26 12-20 20-23 2 1 7 20 11 12 16 7 16-1 8-4 12-11 31-31 5-7 3-17-7-17-12-12-21-11 11-12 22-16 12-7 8-2 48 8 16 7 8 6 5 12-1 32 25 100 7 8 12 1 7-5 3-8 6-50 12-44 8-13 28-23 16-20 39-70 8-20 3-16 7-4 34-4 55 0 44 4 6 3 20 4 27 1 61 12 25 8 26 12 14 8 5 4 1 4-6 52-15 40-4 52-6 25-8 3-48-1-8-6-21-25-11-7-12-3-12 0-12 4-12 9-7 9-27 48-5 20 2 16 13 40 9 16 15 9 16 2 32-11 40-9 12-7 42-40 18-22 8-3 20 3 16-3 28-18 8 2 8 7 32 36 16 3 16-5 8-8 5-12-1-12-3-8-45-49-12-6-24-2-4-7 3-16 9-16 33-36 7 1 36 24 40 41 60 74 32 56 28 70 16 60 14 82 2 72-4 46-16 78-20 63-20 43-4 5-4 0-32-12-20-1-17 6-9 8-5 8-4 16 4 20 8 28 15 25 1 7-13 21-24 27-20 14-36-13-16 1-12 5-20 17-40 44-9 20-3 24-19 12-34 16-34 12-21 5-9-1-13-16-18-13-16-6-28-7-4-2-2-4 3-8 7-8 36-27 8-9 4-8 1-12-6-16-11-8-16-3-52 18-32 14-12 15-4 16 3 16 9 16 14 16 1 8-5 8-26 21zM2638 765l6-3 5-5 1-12-6-8-12-2-10 6-2 12 8 11zM1869 849l7-2 8-6 5-8 2-12-4-8-7-7-8-3-12-1-8 4-7 7-3 8 0 8 3 8 7 8 8 4zM2237 881l10-8 2-12-4-8-5-4-12-1-8 4-4 5-1 12 4 8 5 3zM2740 881l3-4-1-8-6-5-8 2-4 7 3 8 5 2zM2371 925l4-8-2-8-9-5-8 3-4 10 4 8 8 3zM2515 1037l11-12 4-12-12-68-6-7-8-1-6 4-4 8 3 40-2 28 9 18 4 3zM2348 1021l8-3 5-5 3-8-1-8-7-10-8-3-8 0-11 9-1 12 8 13zM2131 1037l9-12 2-12-6-9-12-2-8 4-6 7-3 8 0 8 5 8 4 2 8 1zM1909 1045l3-4 1-8-4-8-9-3-9 3-4 8 1 8 2 4 10 4zM2090 1073l3-4 1-8-13-16-13-11-8-1-6 4-3 8 1 6 4 5 20 19 8 1zM2289 1073l2-4 0-8-7-12-8-3-9 3-5 8 3 12 11 6zM2008 1085l8-4 3-4 1-8-6-8-10-2-8 5-3 9 3 8zM2327 1133l4-4 3-8-15-40-7-8-8-1-8 1-3 4 1 8 14 44 8 6zM2140 1169l7-8 17-64-4-11-8-3-8 4-4 6-14 64 2 8 4 4zM2741 1105l3-4-2-8-6-2-4 2-3 4 3 8 4 1zM1982 1297l4-8-2-7-36-41-20-35-20-17-5-8-3-16 1-28-4-12-9-7-8-3-12 1-9 5-8 12-6 48 0 12 5 12 6 6 23 14 17 16 33 20 39 36 8 3zM2549 1217l7-5 2-11-6-8-8-1-8 5-2 12 6 7zM2271 1309l5-4 2-8-6-10-52-27-8 1-5 4-2 4 1 8 6 7 48 25zM1990 1413l5-8-3-12-8-5-8 1-4 3-4 9 4 11 8 4z"/><path fill="#009eaa" fill-rule="evenodd" transform="scale(0.5)" d="M2260 1601l-44 1-34-5-40-12-49-20-13-10-20-44-8-8-12-8-20-2-12 4-24 11-9-3-47-32-35-28-33-35-36-45-32-48-32-71-20-63-1-18 7-8 14-2 28 4 16-1 36-12 4 11-2 36 9 16 25 16 20 17 31 19 41 38 8 2 8-4 3-4 0-8-37-44-22-37-20-20-5-15 0-36-6-12-9-6-8-3-12 1-16 5-4-1-13-24-10-12-70-48-18-16-13-16-5-8-1-16 2-36 4-29 16-66 20-53 8-15 8-10 32-20 11-11 7-16 8-40 6-11 8-4 32 19 12 2 12-2 12-7 45-45 4-12-1-16-4-10-16-26 3-8 5-4 16-6 28 0 28 5 17 9 5 8 3 28 25 100 6 8 13 4 9-4 5-8 9-60 12-32 8-10 23-18 13-13 13-19 19-38 28-33 16-14 12-6 16-4 16 2 20 6 24 17 36 43 10 7 10 2 8-2 8-8 12-40 11-16 17-11 24 3 28 8 19 8 14 8 6 8 2 20-3 32-12 44-4 36-5 20-5 8-8 4-28 0-12-4-24-20-20-11-20-1-20 9-14 15-28 48-6 16-2 16 1 16 6 24 5 12 18 17 12 6 12 2 12-1 28-10 32-6 20-10 64-56 8-2 32-2 12-5 14-9 6-1 16 11 9 14-1 4-12 6-6 6-3 8 2 12 7 8 8 4 8 0 8-4 7-8 5-16 24-6 12-9 7-13 0-12-6-16-41-44-12-9-19-7-3-8 2-8 7-12 29-30 8-4 12 6 24 19 24 23 72 87 28 49 24 56 20 68 16 90 3 72-7 66-20 83-12 35-12 26-8 8-12 5-36-3-20 3-16 9-11 16-4 12 0 16 10 36 14 36-4 12-9 12-24 24-8 3-4 0-28-10-12-3-16 3-12 5-22 18-40 40-10 16-14 36-9 12-42 20-27 6-44-29-32-14-7-7 5-12 26-22 9-14 2-20-9-16-10-7-16-2-48 16-36 16-13 13-4 12-1 16 3 12 11 24 0 8-8 12-32 32zM1877 849l11-8 4-8 2-12-2-8-8-8-12-6-12-1-8 3-8 8-4 8-1 12 3 8 6 8 8 5 12 2zM2308 825l5-4 3-8 0-10-4-5-8 2-8 13 1 8 3 4zM2241 881l6-4 4-8 0-12-3-5-8-5-8-1-8 2-9 9-2 8 1 8 10 9 8 2zM2742 881l2-8-4-8-8-2-5 2-5 8 3 8 7 4zM2369 933l7-5 3-7-1-12-10-9-12 0-8 9-2 8 2 8 8 8zM2512 1041l13-12 5-16-10-68-4-5-8-4-6 1-6 4-3 8 3 40-2 24 1 8 5 11 8 9zM2354 1021l6-4 5-8 1-8-3-8-11-11-8-2-8 2-5 3-5 8 2 16 5 8 7 4zM2124 1041l12-7 6-13-2-14-4-4-8-3-12 5-7 8-3 8 0 8 4 8 6 3zM1906 1049l8-8-1-12-9-8-8 0-9 8-1 12 10 9zM2084 1077l8-4 2-4 0-12-22-23-8-2-8 2-6 7 1 12 21 20zM2329 1133l6-8-1-8-16-40-6-5-17-3-6-16-5-5-8-3-8 2-7 10 2 12 9 6 16 2 20 54 12 6zM2013 1085l7-8 0-12-8-7-12 1-7 6-1 12 8 8zM2142 1169l6-8 17-64-2-8-3-4-8-3-8 3-4 6-15 66 2 8 4 4 5 2zM2743 1105l2-4-2-8-7-3-6 3-2 8 3 4 5 2zM2552 1217l7-8-2-12-9-6-8 1-7 9 0 8 7 8zM2273 1309l4-4 2-8-3-8-4-3-52-27-8 1-6 5-1 12 7 8 48 25 8 1zM2679 1321l4-4 0-4-3-4-8-1-4 5 0 4 4 4zM1985 1417l7-4 5-12-5-10-12-4-10 6-3 12 5 9 8 4z"/><path fill="#00aca5" fill-rule="evenodd" transform="scale(0.5)" d="M2248 1597l-24 3-36-3-42-12-46-21-16-12-24-46-8-8-12-8-12-3-12 0-28 7-12 1-16-3-12-7-34-24-31-28-23-24-40-51-28-44-20-43-12-34-4-24-1-24 2-12 9-8 66-7 5 7 4 28 11 16 24 14 20 17 30 17 42 39 8 2 8-3 4-6 0-8-37-44-21-36-19-24-3-12-1-36-7-14-16-9-28 0-4-2-24-30-64-45-17-16-10-12-8-16-4-20 0-36 3-29 16-63 12-29 20-27 39-24 9-9 8-15 9-40 7-12 8-3 24 6 12 2 16-4 12-9 40-40 6-12 2-12-9-36 3-8 5-4 17-4 20 0 20 5 12 7 5 8 15 52 16 68 4 8 6 4 6 2 8 0 8-5 6-9 6-48 12-32 8-10 25-18 15-14 15-22 17-36 12-13 20-16 16-8 12-3 16 0 16 4 24 15 44 45 12 7 12 2 12-4 12-13 16-44 10-16 18-12 12-4 8 1 25 7 14 8 8 12 4 12 2 20-2 24-19 77-4 7-8 6-16 2-16-4-36-19-20-7-20 3-16 10-14 17-34 60-17 56-27 52-2 16 4 12 10 10 8 3 8-1 12-11 14-33 6-6 8-1 24 6 16 0 32-11 40-9 13-7 47-38 24-13 60-3 3 2 1 4-2 24 3 8 6 8 9 6 8 2 17-4 5-4 13-16 17-10 8-7 7-11 3-8 0-16-6-12-28-28-16-19-17-13-6-8 3-12 16-20 16-12 8-2 4 1 23 17 21 20 76 91 28 50 24 56 20 72 16 92 1 75-9 64-32 85-11 23-9 14-8 8-8 4-36 4-20 7-14 11-10 16-6 16 0 12 16 60 3 16-5 20-12 12-8 4-12 2-28-9-16-1-12 2-16 7-48 39-16 16-11 16-18 36-11 13-20 14-20 5-12-1-12-4-49-27-10-8 0-8 22-24 7-16-2-20-3-8-8-8-13-6-12-1-52 17-32 14-13 12-5 12-2 12 1 16 6 24-2 12-33 35zM1873 853l9-4 9-8 6-12 0-12-7-12-10-8-12-3-12 0-8 4-9 11-3 12 1 12 7 11 8 7 12 3zM2236 885l14-8 4-8 1-8-7-13-8-4-8 0-8 2-8 6-5 9 0 8 4 8 5 5 8 3zM2738 885l7-8-1-8-8-7-8 0-6 7 0 8 6 8zM2366 941l6-3 8-7 4-10 0-8-4-9-8-7-8-3-8 1-8 4-5 6-3 8 1 12 7 14 8 3zM2516 1041l12-16 3-12-10-68-7-8-10-2-9 6-3 8 3 40-2 28 4 12 11 15 4 1zM2620 953l-4-3-1 3zM2357 1021l9-12 1-12-3-8-8-9-8-4-8-1-8 1-6 5-3 8 1 12 4 12 12 10 8 1zM2127 1041l11-8 5-16-4-12-11-5-8 1-8 6-6 10-1 8 1 8 6 7 8 2zM1909 1049l6-8-1-12-10-9-12 2-4 3-4 8 3 12 9 6zM2088 1077l5-4 4-8-5-12-20-20-8-3-9 3-6 8 1 12 22 22 8 3zM2325 1137l9-8 2-8-16-44-8-6-16-5-6-13-6-7-8-2-8 2-4 3-5 8 3 12 6 6 20 5 17 49 7 7zM2015 1085l5-5 3-7-4-12-11-5-12 3-6 10 3 12 11 7zM2144 1169l5-8 17-64-2-8-3-4-9-4-8 3-4 5-16 68 2 8 3 4 7 2zM2744 1105l2-8-2-5-8-3-7 4-2 8 5 6 8 1zM2554 1217l6-8-1-12-11-7-11 3-5 8 1 12 11 7zM2275 1309l3-4 2-8-3-8-5-5-52-26-8 1-8 6-1 12 7 8 50 26 8 1zM2688 1329l4-4 4-8-5-12-7-5-8-1-12 4-4 6-1 8 5 10 12 5zM1989 1417l8-8 0-12-9-10-12-1-4 3-6 8 1 12 9 9 8 1z"/><path fill="#00b296" fill-rule="evenodd" transform="scale(0.5)" d="M2492 614l-20 1-24-10-23-16-5-12 17-64 7-17 8-11 8-6 20-7 16 2 16 10 9 13 4 16-2 32-15 48-8 16zM2228 1597l-31 0-34-8-21-8-42-22-15-14-24-44-9-9-12-7-24-5-44 4-20-5-24-10-31-24-25-25-48-59-20-28-24-50-7-26-5-32 1-20 3-12 8-10 12-5 24-3 12 4 11 22 10 12 75 48 44 40 8 2 7-2 4-4 3-8-2-8-38-44-18-33-14-19-3-12-3-40-8-16-16-10-32-6-28-28-34-24-28-24-15-16-7-12-6-16-3-16 0-44 7-40 16-52 12-20 14-15 12-8 28-11 11-10 5-14 9-46 7-12 8-2 32 1 16-5 48-46 6-8 3-12 0-40 7-8 12-3 20 0 16 5 9 6 7 12 12 35 19 77 9 10 8 2 8 0 8-4 8-12 8-50 12-25 8-8 28-18 16-15 14-20 18-34 9-10 23-15 24-5 24 5 20 12 54 55 10 16-3 12-19 28-40 68-42 100-4 20 1 16 5 12 10 11 8 4 12 3 8 0 8-5 8-11 13-34 8-8 7-2 32 0 32-12 40-9 12-6 44-32 28-11 24-1 20 3 8 5 11 21 9 9 16 6 28 1 20 14 6-38 19-36 0-20-9-16-24-23-29-33-5-8 0-4 6-12 16-15 12-6 12 1 13 8 23 22 29 38 47 53 32 58 20 49 12 40 8 37 12 64 4 38 0 52-4 37-12 35-45 93-15 21-12 8-32 9-20 11-15 15-17 31-4 4-4 0-20-10-12-1-12 3-9 9-2 8 1 12 6 8 8 5 8 3 12-2 24-13 4 2 4 5 8 24 2 24-4 16-10 11-12 4-24-7-16 0-12 2-16 7-69 55-13 16-20 36-10 12-12 9-16 5-12 0-16-5-33-17-10-8-1-8 13-24 5-20-6-20-12-12-12-5-16 0-56 19-28 13-14 17-5 20 3 40-5 12-35 34zM1881 853l11-8 7-12 3-12-3-12-11-12-12-7-20-3-12 4-8 10-3 12 0 16 5 12 7 8 11 6 12 1zM2242 885l11-8 5-8 1-8-2-8-5-6-8-4-12-1-8 2-8 5-5 8-2 8 2 8 5 8 8 5 8 1zM2741 885l5-8-2-11-8-5-8 0-4 2-4 10 2 8 10 6zM2350 1025l6-2 8-6 5-12-2-16-12-20 1-8 24-20 6-8 3-12-2-12-7-10-8-6-12-4-12 2-11 10-8 36-17 21-6 15 1 8 9 8 13 28 11 7zM2513 1049l16-24 3-12-10-68-6-8-12-3-8 4-5 11 2 40-1 28 4 12 12 22 4 1zM2621 953l-1-4-4-1-3 5 3 3zM2129 1041l11-10 4-14-4-13-12-5-8 1-8 6-7 11-1 8 1 8 7 8 8 2zM1902 1053l6-2 6-6 3-12-4-8-5-4-12-2-8 5-4 5-1 12 9 11zM2090 1077l5-4 3-8-4-12-22-21-12-2-8 4-5 11 4 12 25 22 8 0zM2329 1137l7-8 2-8-16-44-6-6-18-6-9-16-5-4-8-2-9 2-5 4-4 8 3 12 7 7 16 4 4 4 13 41 5 8 10 6zM2009 1089l7-3 5-5 3-12-3-8-5-4-12-3-12 7-4 12 3 8 5 5zM2145 1169l5-8 17-64-2-8-3-4-10-5-8 3-5 6-16 68 2 8 7 7 8 0zM2741 1109l6-8-1-8-6-4-8 0-6 8 2 8 4 4zM2556 1217l6-12-5-12-9-4-12 3-6 9 2 12 4 5 8 3zM2269 1313l8-4 4-8 0-8-6-8-55-28-8 0-8 7-3 9 3 7 4 5 52 27zM2549 1365l5-8-2-5-8-5-8 2-3 8 3 7 8 3zM1992 1417l7-12-2-12-5-6-8-3-12 3-7 10-1 8 3 8 5 5 8 3z"/><path fill="#00b682" fill-rule="evenodd" transform="scale(0.5)" d="M2480 590l-16-3-12-9-6-13-2-20 3-24 7-20 14-14 16-4 12 2 12 9 8 15 1 16-4 20-9 23-12 16zM2220 1594l-20 1-31-6-69-35-13-13-23-42-12-12-12-8-24-5-36 1-16-1-24-7-24-10-20-15-28-29-48-60-16-23-8-15-8-22-6-32-2-28 1-16 5-12 6-8 12-5 12 0 8 2 24 23 76 46 44 40 8 2 8-3 5-5 2-8-3-10-24-26-15-20-23-44-3-12-2-40-9-20-16-12-30-8-10-6-74-62-18-20-10-16-9-32-2-40 8-40 17-48 9-16 11-12 12-7 16-2 8 5 8 36 5 8 9 8 14 5 12 0 12-4 12-9 9-16 0-16-5-11-8-9-28-16-8-8-3-24 3-33 4-9 8-6 32-3 16-7 44-43 10-15 5-40 7-8 10-3 16 0 16 5 8 7 16 34 20 81 12 12 8 3 8-1 11-6 6-8 10-52 5-11 8-10 37-23 15-13 16-19 20-32 12-13 12-6 12-4 16-1 12 3 24 13 27 28 15 24 1 20-12 28-32 52-13 28-30 78-8 43-4 2-24-1-12 5-11 13-1 12 3 8 7 8 10 4 8 0 16-7 16-19 4 0 47 26 4 8-2 20-4 12-17 29-3 11 1 12 4 8 14 9 15 23 9 5 12 0 10-5 8-12 2-12-3-24 19-29 6-19-3-16-7-12-12-9-24-9-7-6 1-12 7-32 5-12 6-6 36-7 29-11 43-10 11-6 29-20 20-9 16-4 20-1 16 2 12 3 28 26 37 15 22 28 9 8 8 2 8-3 4-11-6-36-1-16 2-12 10-32 0-20-8-16-33-32-18-24-3-8 4-12 13-12 12-4 16 2 12 8 14 14 30 47 28 21 24 29 28 53 20 50 12 44 6 44 14 64 2 24-2 67-5 21-10 24-36 60-24 44-12 16-53 30-32 37-8 3-20-3-12 0-12 5-8 8-4 8 0 12 4 12 7 8 17 8 28 2 7 6 2 8 0 12-3 8-6 6-8 3-36 2-28 13-71 52-17 20-25 40-11 10-12 3-12 0-16-5-18-8-10-8-3-8 8-32-1-16-7-16-13-11-12-4-16-1-64 22-24 13-12 17-5 20-1 36-6 13-32 32-16 9zM2742 885l5-8-2-12-9-6-12 2-5 8 1 12 4 4 8 3zM2513 1077l4-28 13-24 3-12-10-68-7-9-12-3-9 4-6 12 3 40-1 28 14 36 3 24 4 3zM2618 957l4-4-2-5-4-1-4 6zM2131 1041l11-12 3-16-4-8-4-4-5-3-8 0-8 4-8 7-5 12 0 8 3 8 6 5 8 2zM1908 1053l5-4 5-8-1-12-9-9-8-2-8 1-9 10-2 8 2 8 5 6 8 4zM2093 1077l6-12-1-8-6-8-16-16-8-4-8-1-9 5-6 12 4 12 27 23 8 1zM2332 1137l6-8 1-12-16-40-7-7-16-6-9-15-7-6-12-1-8 4-7 11 2 12 9 8 12 4 6 4 6 12 6 24 6 12 12 8 8 0zM2014 1089l6-4 4-6 1-14-9-10-8-3-8 2-10 7-3 8 0 8 5 8 6 4 6 2zM2139 1173l5-2 6-6 18-68-4-12-8-5-12 2-7 7-15 68 5 12 5 4zM2743 1109l5-8-1-8-7-5-8 0-7 9 2 8 9 6zM2552 1221l9-8 2-8-2-8-9-8-12 0-9 8-2 12 7 10 8 3zM2273 1313l5-4 4-8 0-8-6-9-56-28-8 0-8 6-4 11 3 8 5 5 52 28zM2553 1369l5-8-2-12-4-4-8-3-10 3-4 4-2 8 4 10 4 3 8 2zM1989 1421l9-8 3-8-1-8-8-11-8-3-8 1-11 9-2 8 1 8 8 11 8 3z"/><path fill="#00b96e" fill-rule="evenodd" transform="scale(0.5)" d="M2484 561l-12 0-8-7-5-13-1-12 3-16 7-11 8-6 12-2 8 3 8 7 4 17-2 12-6 14-8 10zM2212 1590l-16 2-20-5-72-35-16-16-24-43-12-12-12-7-24-7-44-1-20-3-28-9-20-10-18-15-18-20-64-83-5-13-6-28-2-44 3-16 4-8 6-5 8-2 12 0 8 3 40 20 41 24 21 16 34 31 8 2 8-2 7-7 2-8-5-12-36-42-12-24-9-26 0-48-3-12-7-12-17-13-44-15-41-32-36-36-19-28-10-32-2-36 8-40 16-41 16-23 8-5 8-1 8 4 10 22 9 12 17 10 12 3 16-3 12-6 8-8 10-20-1-16-9-16-26-24-6-9-6-23 3-24 5-8 6-3 28-7 12-6 47-44 10-16 7-33 8-9 12-2 12 1 12 6 8 7 8 14 8 21 18 71 10 12 16 5 12-4 9-9 5-12 6-34 4-10 8-11 43-25 16-12 37-44 12-11 20-8 12 0 12 3 24 15 18 21 8 20-2 20-8 20-24 40-12 24-30 84-11 40-4 4-19 5-12 6-9 13-1 12 6 13 12 8 16 1 24-11 8-1 28 21 6 9 1 8-15 41-1 15 2 12 6 8 13 7 20 24 8 4 12 0 12-6 7-9 7-32 17-24 6-24-2-16-7-16-12-14-19-14-5-8-1-12 2-20 5-12 6-6 56-19 48-13 32-19 16-7 20-3 24-1 28 6 25 18 27 13 40 43 12 4 12-5 6-15-4-52 10-52-1-20-10-16-25-20-11-12-13-24 3-12 9-8 12-4 16 4 8 5 10 11 25 48 10 8 31 16 16 17 28 51 20 49 8 27 9 68 14 60 4 28 0 32-3 28-6 24-8 20-14 23-32 41-25 44-13 16-42 30-24 28-8 6-40 3-12 6-8 9-6 18 4 16 10 16 19 16 1 8-10 8-34 18-28 23-50 31-16 16-23 36-10 12-9 4-12-1-16-4-12-7-4-4-4-8 1-32-2-12-6-12-9-9-12-7-12-3-16 1-60 20-20 11-8 6-9 13-5 12-4 40-6 16-14 16-19 16-15 9zM2737 889l10-8 1-12-8-10-8-2-8 2-7 10 2 12 9 8zM2512 1085l5-4 2-32 12-24 3-12-10-68-8-11-12-2-11 5-4 8 0 68 1 8 11 28 4 32 3 4zM2621 957l2-4-3-6-4-1-4 3-1 4 3 4zM2124 1045l8-3 6-5 7-16 1-8-3-8-11-8-8 0-9 4-8 8-5 12 0 12 6 8 8 4zM1901 1057l11-5 6-7 2-8-2-8-6-8-12-4-13 4-6 8-1 8 1 8 6 8zM2088 1081l7-4 5-8 0-8-2-8-26-24-12-2-8 3-7 11-1 8 4 8 24 22 8 3zM2328 1141l10-8 3-12-17-45-8-8-16-7-8-12-8-7-12-1-8 3-5 5-3 8 0 8 4 7 8 7 16 6 3 4 11 36 6 11 12 6zM2017 1089l9-12 1-8-2-8-5-5-8-5-8 0-8 3-10 11-1 8 2 8 5 7 8 4 8 0zM2143 1173l8-8 18-68-4-12-5-4-8-3-9 3-7 8-15 68 2 8 5 6 8 3zM2745 1109l3-4 2-8-5-8-9-3-8 4-4 11 4 7 8 4zM2555 1221l5-4 4-8-1-12-11-10-8-1-8 3-8 12 1 12 11 10 8 0zM2275 1313l8-8 1-8-2-8-6-6-56-29-8 1-9 6-4 12 3 8 6 7 52 27 8 1zM2545 1377l7-2 7-6 4-12-2-8-5-6-8-4-8-1-12 7-4 8 0 8 8 12zM1993 1421l8-12 1-8-2-8-4-6-8-5-8-1-8 3-6 5-4 8-1 8 3 8 4 6 8 5 8 1z"/><path fill="#00bd55" fill-rule="evenodd" transform="scale(0.5)" d="M2488 534l-9-1-3-4-2-8 6-11 8-3 5 2 4 8-2 8zM2208 1585l-16 1-20-5-68-34-14-14-26-46-12-12-16-9-24-7-44-2-24-3-24-8-20-10-23-23-68-88-5-12-3-16-1-36 6-24 6-7 8-3 16-1 25 7 49 24 22 16 36 33 8 2 9-3 7-7 2-9-4-12-32-36-14-26-5-22 2-56-3-16-6-11-9-9-11-7-52-19-31-22-20-20-25-32-12-20-10-32-1-36 10-36 17-34 12-13 8-1 31 28 13 6 12 2 12-1 12-5 18-14 8-16 1-20-10-20-21-24-8-12-5-20 1-16 5-8 6-4 25-8 12-7 44-43 10-14 10-31 8-7 8-2 12 1 12 6 8 9 12 24 21 76 11 11 16 4 12-3 12-12 12-44 12-17 60-32 40-37 12-9 16-6 16 2 20 11 12 14 6 18-2 16-36 72-40 127-5 5-19 10-8 6-7 12-1 12 4 12 12 10 16 3 28-4 8 4 12 11 5 8 2 8-6 44 1 12 4 12 6 7 16 9 18 20 10 5 8 0 12-3 11-10 13-28 22-24 5-16-1-20-7-20-11-16-19-20-7-12-2-12 2-16 3-8 7-7 51-21 45-11 40-19 24-5 32 1 24 4 40 24 13 10 35 39 12 6 12 0 10-9 6-16-2-60 14-72 8-5 12 1 20 4 16 8 12 12 8 13 20 39 16 40 9 36 7 68 17 68 2 36-3 36-7 28-13 25-12 15-35 36-37 60-36 34-24 26-12 6-36 6-12 7-8 9-5 12-2 12 4 16 10 24 0 8-6 8-49 40-36 17-20 14-14 13-27 36-7 4-8 1-12-3-8-4-6-10-4-24-6-16-9-12-15-10-12-3-16-1-40 11-32 13-20 13-14 21-9 48-9 15-15 17-17 14-16 9zM2716 666l-8-1-12-6-20-18-7-12-1-8 8-12 8-3 8 0 9 3 9 8 7 12 4 16 0 16zM2741 889l5-4 4-8-3-12-11-9-8-1-8 3-6 11 3 12 11 9zM2517 1085l2-4 3-32 12-28 1-8-10-68-4-8-5-4-12-2-12 6-5 8 1 72 11 32 3 32 6 6zM2622 957l2-4 0-4-4-3-4-1-4 3-2 5 2 4 4 2zM2128 1045l8-5 6-7 5-16-1-8-6-8-12-5-12 3-7 6-7 12-2 8 2 12 6 6 12 4zM1909 1057l7-6 4-6 1-8-1-8-6-8-6-4-8-2-8 2-7 4-5 8-2 8 1 8 5 8 8 6 8 1zM2091 1081l8-8 3-8-1-8-4-8-25-22-12-1-9 3-8 12-1 8 3 8 27 24 8 2zM2333 1141l7-8 3-12-19-48-8-7-13-5-11-14-8-6-12-2-8 4-8 10-1 8 2 8 7 9 16 7 5 4 15 44 8 8 8 3 8 1zM2012 1093l8-4 7-8 2-8-1-8-4-8-8-6-16-1-8 4-6 7-3 8 0 8 4 8 5 5 8 4zM2145 1173l7-8 18-68-1-8-5-7-12-5-11 4-6 8-15 68 2 8 6 8 8 2zM2739 1113l9-5 3-11-5-8-10-4-9 4-3 4-1 8 5 9zM2557 1221l8-12 0-8-3-8-6-5-8-3-12 3-6 5-3 8-1 8 4 8 6 5 8 3zM2268 1317l10-4 6-8 1-12-5-9-56-30-12-1-8 5-5 7-1 8 6 13 52 29zM2551 1381l9-5 5-7 2-8-2-12-5-8-8-5-16-1-8 4-5 6-3 8 1 12 4 8 7 6 8 3zM1991 1425l5-4 6-8 1-16-4-8-7-7-8-2-8 1-8 4-6 8-2 8 1 12 7 9 8 5 8 0z"/><path fill="#00c046" fill-rule="evenodd" transform="scale(0.5)" d="M2212 1578l-16 2-20-3-28-11-40-21-16-16-17-32-11-16-12-12-16-10-28-9-72-5-20-7-16-8-21-21-55-72-12-20-5-28 3-28 10-17 16-6 32 3 40 17 22 15 38 35 8 1 8-1 8-7 3-8 0-8-4-8-31-36-12-24-3-20 5-64-2-16-6-12-7-8-12-8-63-23-29-21-15-16-28-40-11-20-6-20-2-28 5-24 10-24 16-21 12-4 36 18 24 2 16-4 12-7 9-8 8-12 4-16-1-16-8-19-29-41-4-20 4-12 5-4 32-16 38-36 17-20 13-29 8-6 16 0 16 11 8 13 8 19 18 64 6 8 8 6 16 4 12-4 12-10 6-12 9-32 13-14 66-30 50-33 16-2 16 5 11 14 2 8-2 8-25 56-17 64-23 72-4 8-18 13-8 9-5 10-1 12 4 12 10 11 16 6 24 1 14 10 6 8 4 12 0 40 5 20 7 9 20 11 16 17 8 5 12 1 12-3 11-8 17-24 28-24 7-16 0-16-9-24-12-20-22-28-6-12-1-20 2-8 6-8 42-20 49-12 40-16 36-3 32 3 20 6 30 18 50 52 12 7 16 2 6 23 6 7 8 4 12-1 10-10 1-8-2-8-9-9-21-7 6-28-1-52 6-36 8-24 10-11 8-2 12 0 24 9 8 7 8 13 20 41 14 39 7 32 5 68 19 72 2 32-3 32-6 24-12 24-14 17-40 35-12 16-31 52-45 50-12 8-40 11-11 7-8 8-6 12-3 12 5 40-2 8-9 12-28 24-13 8-53 24-15 12-25 25-12 5-8-2-4-4-13-24-10-12-13-10-12-5-12-3-16 1-44 12-20 7-20 12-15 18-7 16-10 40-9 16-27 26zM2704 646l-4 2-8-2-10-9-4-12 6-8 12-1 7 5 4 12 0 8zM2516 1089l6-8 1-32 10-24 3-12-11-72-9-9-12-3-12 6-7 10 1 68 11 36 3 33 6 7zM2623 957l2-4-1-5-4-3-8 1-3 7 3 5 4 2zM2131 1045l12-12 3-8 1-12-2-8-5-6-8-4-8 0-12 6-7 8-6 12 0 12 3 8 6 5 12 2zM1907 1061l9-6 6-10-1-16-5-8-8-5-8-2-8 2-9 5-5 8-2 8 2 12 6 9 8 5 8 1zM2094 1081l7-8 2-8-1-12-5-8-21-17-8-4-12 1-8 4-6 8-2 8 1 8 5 8 26 22 12 2zM2332 1145l9-8 4-16-19-48-6-6-16-8-11-14-9-6-12-1-8 3-7 8-3 8 0 8 3 8 7 7 16 8 4 4 11 37 9 12 12 6zM2017 1093l12-12 2-8-1-12-6-8-8-5-12-1-8 2-8 6-6 10-1 16 6 8 9 6 12 1zM2147 1173l6-8 18-68-1-8-6-8-12-5-12 4-6 9-15 68 2 8 7 9 8 2zM2744 1113l7-8 0-12-7-7-12-1-9 8 0 12 9 9zM2552 1225l8-5 5-7 2-8-2-8-9-10-8-3-8 1-8 4-6 8-1 8 1 8 10 11 8 2zM2408 1237l4-4 2-8-4-12-10-7-12 3-3 4-2 8 5 12 8 6zM2274 1317l10-8 3-8-2-12-6-8-59-30-12 2-8 7-3 13 2 8 5 7 52 28 8 3zM2559 1385l8-8 4-8 1-12-4-12-8-9-12-5-12 0-8 3-7 7-6 12 0 8 4 12 9 10 8 5 12 1zM1990 1429l12-12 4-12-1-8-4-8-8-8-9-3-8 1-10 6-6 8-2 8 1 12 5 9 8 7 8 2z"/><path fill="#00c137" fill-rule="evenodd" transform="scale(0.5)" d="M2204 1574l-16 0-24-7-40-18-20-12-12-14-20-39-16-18-24-16-34-13-1-4 10-20 1-12-4-12-12-11-8-2-12 2-8 6-6 9-2 16 10 24-3 4-11 2-20-2-16-5-16-8-12-12-58-75-13-24-3-24 6-24 10-12 18-6 28 1 34 13 22 16 32 30 8 4 8 0 8-3 6-7 3-8-4-16-28-32-13-24-2-16 9-64 0-28-4-12-7-9-10-7-26-12-3-4 11-15 4-9 0-8-3-12-13-11-12-1-8 3-10 9-4 8 0 24-2 2-16-4-26-22-26-36-16-28-8-24-2-20 3-20 11-24 12-13 8-4 8-1 36 9 24-1 24-11 8-7 9-12 6-20-2-20-9-22-26-38-3-12 2-12 9-8 26-15 43-41 10-12 15-27 8-5 8 0 8 4 12 11 12 24 18 61 5 8 9 7 16 6 16-4 12-9 7-12 10-28 7-9 8-6 32-13 56-18 16-3 12 4 4 9-1 16-7 52-7 36-23 72-5 8-21 24-4 12 0 12 4 12 8 9 12 6 28 7 14 14 6 16 5 44 8 16 23 14 24 21 16 3 17-6 23-22 33-22 12-12 5-12-2-16-8-20-37-52-8-16-2-20 2-8 7-8 38-19 44-10 36-11 44-3 32 3 20 7 20 12 14 13 42 45 24 14 9 13 7 6 8 3 8 0 12-7 4-6 1-8-5-12-20-16 1-72 6-32 9-22 12-12 16-3 20 7 8 6 4 7 23 49 12 32 6 32 3 68 20 72 3 28-2 32-7 24-10 21-16 19-35 24-17 16-12 17-29 51-35 42-14 10-38 13-18 15-7 12-4 12-4 44-7 10-12 11-16 9-8 1-2-3 0-28-7-16-15-12-8-3-12 0-12 5-7 6-5 8-3 12 4 20 18 24 0 4-51 38-12-1-32-23-12-5-16-3-16 0-40 8-28 9-20 15-12 16-10 22-10 36-12 19-28 26-16 8zM2519 1089l5-8 2-36 9-20 2-12-11-72-10-11-12-2-13 5-8 12 2 72 10 32 4 36 9 7zM2625 957l1-8-6-5-8 1-3 4 0 4 3 6 8 1zM2090 1085l7-4 6-8 2-20 3-4 20-1 8-5 8-10 4-12 0-12-5-8-7-5-8-2-8 1-12 8-9 14-3 20-4 0-20-13-8-2-8 1-8 4-8 10-3 16 5 8 30 24 8 2zM2333 1149l7-4 6-8 2-16-19-48-9-9-16-8-16-17-12-3-12 3-6 6-5 8 0 12 3 8 8 9 18 11 10 36 8 12 16 9 8 1zM2012 1097l9-4 8-8 5-12 0-12-6-8-8-6-16-3-12 4-9 9-5 8-1 12 2 8 9 9 12 4zM2141 1177l8-4 6-8 17-68-3-12-5-6-8-4-12 1-10 9-8 28-8 44 1 8 5 7 8 5zM2747 1113l4-4 2-8-4-12-9-5-12 2-7 11 3 12 4 4 8 3zM2418 1261l10-8 5-12 0-12-5-16-8-12-16-12-16-5-12 1-8 8-4 16 1 20 5 16 10 12 12 6 12 1zM2556 1225l11-12 0-16-6-8-9-6-8 0-8 2-6 4-5 8-2 12 3 8 6 6 8 4 8 1zM2279 1317l8-8 2-12-2-8-7-9-56-30-12 0-12 7-4 8-1 8 2 8 7 9 56 30 12 0z"/><path fill="#00c223" fill-rule="evenodd" transform="scale(0.5)" d="M2212 1565l-20 4-20-4-44-18-24-15-9-11-15-32-16-22-20-18-35-20 0-32-5-12-12-9-16-1-8 3-7 7-6 12-1 28-4 4-22 0-24-8-12-12-52-68-14-24-4-24 6-22 12-11 24-6 24 2 25 9 19 14 28 28 8 5 12 2 12-6 6-11-1-16-32-40-6-12-3-12 17-120 3-2 24 6 16-3 13-9 11-22 8 3 24 17 12 2 8-2 11-10 7-24 14-2 12-6 9-12 4-12 0-12-9-12-8-4-12 1-8 4-11 11-9 23-20-11-12-1-16 7-6 6-6 13-4 0-20-6-16 4-14 13-10 23-4 2-35-13-5-4 3-20-1-12-6-12-8-6-16-3-12 5-8 8-8 18-4 4-12-5-18-17-27-40-13-24-6-24 1-24 11-23 16-13 12-2 40 2 20-3 24-12 14-17 6-24-2-24-9-24-23-36-2-12 2-8 30-21 44-42 20-28 8-7 12 2 16 18 12 27 12 39 7 12 13 11 12 4 16-1 16-10 9-12 11-26 8-8 8-5 28-11 28-5 20 0 12 5 7 10 3 16 1 24-4 24-7 28-18 56-24 36-2 12 1 12 5 12 10 11 32 13 16 15 7 17 7 40 9 16 25 15 20 17 16 5 20-5 28-20 48-26 12-10 3-8-2-16-9-20-44-60-8-16-3-20 3-8 6-8 32-16 70-16 52-3 32 3 20 7 20 12 52 56 16 14 28 17 16 1 12-6 6-13 0-8-4-8-12-12-4-8 0-64 6-30 8-19 12-13 16-3 16 5 8 10 20 39 15 39 6 32-1 48 1 20 24 76 2 28-3 28-5 20-11 21-16 17-41 26-22 20-11 16-26 48-31 40-13 10-36 16-17 14-13 20-10 37-8 11-8 4-4-1-20-23-12-8-12-4-16 0-12 5-12 11-6 16-3 36-6 8-25 19-12 1-32-10-20-2-64 2-16 3-12 10-22 33-9 20-13 39-8 14-24 25zM2518 1093l4-4 4-8 1-32 11-36-10-72-8-10-8-4-8-1-12 4-11 11-3 12 0 24 4 40 10 29 5 39 7 8 8 2zM2620 961l5-4 2-8-3-4-8-3-5 3-3 8 4 7zM2421 1285l20-8 7-8 5-12-2-24-13-28-13-16-13-11-55-29-3-8-4-28-16-36-8-12-18-9-20-20-12-2-12 4-8 7-4 8-1 8 3 12 6 8 20 15 9 33 7 13 12 10 26 9 6 6 5 18 6 60 9 23 8 9 16 7 16 2zM2145 1177l6-4 5-8 18-68-1-8-5-8-8-6-8-1-12 3-10 12-13 68 1 8 6 9 12 5zM2743 1117l10-8 2-12-4-8-5-4-6-2-8 0-8 5-3 5-1 12 8 10 8 3zM2550 1229l10-5 6-7 3-8 0-8-3-8-6-7-8-4-12 0-8 4-7 7-3 8-1 8 3 8 8 9 8 3zM2277 1321l10-8 4-8-1-16-6-9-60-32-12-1-12 7-6 11-1 8 4 12 7 7 52 29 12 2z"/><path fill="#00c40f" fill-rule="evenodd" transform="scale(0.5)" d="M2204 1561l-20 1-20-5-36-15-21-13-10-12-15-32-14-21-20-20-31-23-8-32-13-15-16-3-16 7-11 15-5 22-4 5-12 2-20-5-8-4-12-13-48-63-11-20-3-20 2-12 4-8 8-8 8-5 24-4 20 2 20 8 16 11 28 29 8 5 12 2 13-4 6-8 2-8-2-16-31-40-7-20 9-56 14-52 8-6 20-4 12-6 9-8 11-15 32 17 12 0 8-3 10-11 6-20 24-10 9-10 6-16-1-12-6-10-8-6-12-1-8 2-10 7-9 12-5 11-4 2-20-8-16 0-13 7-11 11-28-2-16 8-20 17-12 2-12-1-8-5-3-18-4-12-7-8-10-5-12-2-12 5-20 20-4 1-8-4-12-13-21-30-14-28-7-24 1-20 8-16 13-11 16-5 36-2 24-5 20-10 14-15 8-24-1-28-7-28-22-40-2-8 4-8 67-60 19-20 8-4 8 4 12 15 29 65 12 12 15 7 16 0 16-7 14-16 14-24 16-12 20-7 20-3 16 0 12 5 8 7 5 10 4 16-1 20-6 32-17 52-20 36-4 12-1 20 8 22 8 8 28 11 16 11 9 16 8 40 8 16 7 7 20 10 20 18 8 5 12 2 12-2 36-20 32-15 24-7 20-1 4 3 4 7 12 33 6 44 6 9 12 3 8-2 7-10 2-36 10-32-10-76-9-12-16-4-16 5-16 15-4 0-4-3-48-60-12-17-5-12-2-12 1-8 5-8 10-8 19-9 56-11 64-3 36 3 20 8 20 14 68 77 12 5 28-1 8-4 8-7 4-12-1-12-15-24-1-56 5-30 8-18 12-13 12-4 15 5 9 12 20 36 14 40 3 28-4 48 1 16 22 59 6 29 0 28-5 28-10 20-15 18-12 9-38 21-25 20-11 16-24 48-22 30-16 16-32 17-18 13-11 12-19 33-8 8-8 1-24-12-16-5-20-1-32 4-8-3-4-9-5-40-7-24-12-24-20-28-20-19-41-29-13-12-32-60-6-7-17-9-15-15-12-6-16 2-14 11-5 12 3 16 8 11 16 13 11 40 9 13 23 23 10 20 6 32-3 68 2 12 4 8 6 4 8 1 44-7 27 2 43 12 6 6 2 10-4 16-11 20-11 12-12 5-36-1-20-4-14-8-26-25-8-2-8 5-8 10-12 25-13 43-31 78-12 16-14 14-14 10zM2622 961l4-4 1-8-7-7-8 1-5 6 1 8 8 5zM2148 1177l10-12 17-68-1-8-4-8-6-5-12-4-12 2-11 11-7 28-6 44 3 12 9 9 12 2zM2750 1117l4-4 3-8-1-8-4-8-12-7-8 0-6 3-8 12 1 8 4 8 13 7 8 0zM2556 1229l8-6 4-6 3-8-1-12-6-10-8-5-8-3-12 2-10 8-5 8-2 12 2 8 6 8 9 5 12 2zM2278 1325l14-8 6-12-1-12-9-14-64-35-12-1-12 6-6 8-3 12 2 12 7 11 56 32 12 3z"/><path fill="#0fcb00" fill-rule="evenodd" transform="scale(0.5)" d="M2208 1554l-20 3-20-4-36-14-23-14-9-11-15-33-13-21-20-22-28-24-15-33-13-12-8-3-8 0-16 8-10 11-10 21-4 4-16 2-16-6-12-12-42-53-10-16-5-12 0-20 10-16 19-9 24-2 16 3 14 8 46 42 24 12 8-1 4-9-1-36-5-12-23-28-7-20 9-56 15-46 8-10 24-11 24-19 20 9 12 3 8 0 12-5 11-13 5-17 16-7 8-7 7-9 4-12 1-12-4-12-12-9-12-2-16 7-20 23-24-7-32 3-16-3-12 1-8 4-32 24-20 5-8-4-11-22-9-8-8-3-16 0-12 5-16 11-8-2-19-23-20-36-6-20-1-16 3-12 7-10 20-11 48-8 20-7 16-9 12-14 7-25 0-36-6-28-16-36 0-12 6-8 33-32 20-16 16-9 8 1 8 7 26 45 13 16 13 10 16 6 16 0 16-7 13-13 19-26 20-11 20-5 16 0 12 3 10 7 5 8 4 12 1 16-2 16-14 47-29 65-2 20 3 20 5 12 7 9 32 10 16 11 10 18 8 36 6 13 12 14 16 9 10 12-2 3-12-9-12-4-16 4-8 5-8 9-5 16 5 18 19 22 4 24 6 16 29 44 7 16 3 12 0 16-8 24-12 13-12 2-20-7-40-23-24-9-4 3-12 29 2 20 10 15 76 44 7 17 4 20-5 60-21 64-9 16-14 16-14 12zM2580 1309l-40-11-16-11-12-15-27-43-41-51-16-16-44-34-16-15-16-24-8-19-3-9 1-4 46-27 36-15 28-4 16 4 12 16 7 18 4 32 5 12 8 6 12 1 8-5 6-10 2-39 9-33-8-60-4-16-9-10-12-4-12 0-20 8-8-3-32-33-20-26-9-20 0-16 5-8 12-8 16-7 24-5 92-4 36 5 20 9 24 20 57 74 11 7 12-1 32-17 9-13 1-16-11-24-2-8-2-36 2-24 5-20 10-18 12-8 12 0 12 11 16 25 11 22 7 24 2 28-8 60 4 16 22 44 6 22 2 34-6 31-8 17-16 18-16 10-44 21-4 1-4-2-1-16-5-8-6-6-12-3-12 5-7 12 1 12 10 12 16 8-32 68-18 24-15 16-47 32-36 35-8 4zM2624 961l5-8-3-8-6-4-8 1-6 7 1 8 9 6zM2143 1181l9-4 6-8 19-72-2-12-6-8-9-5-8-2-16 4-10 11-5 20-7 52 3 12 7 8 8 4zM2553 1233l7-3 8-9 5-12 0-8-5-12-8-7-8-4-12 0-12 6-8 9-4 12 2 12 4 8 10 7 12 3z"/><path fill="#26d000" fill-rule="evenodd" transform="scale(0.5)" d="M2200 1549l-24 0-28-8-28-13-15-15-26-52-15-20-36-38-15-30-3-12 8-28-2-20-10-32-26-36-5-16 7-52 6-22 8-19 15-19 37-20 40 4 24-4 2 24-1 36 1 8 4 8 10 8 12 3 12-4 7-7 19-60 2-16-1-8-7-12-12-8-16-2-20 7-3-5 5-8 14-11 10-17 4-16-5-16-5-6-8-5-16-1-12 6-16 14-8 4-56-17-20-1-16 6-32 27-16 6-8-4-16-16-12-6-16-1-24 10-8-1-8-8-11-15-16-36-2-16 1-11 4-9 8-8 16-8 64-18 16-10 10-12 7-20 1-32-3-40-8-36-1-12 3-8 11-14 16-14 12-6 12 2 18 24 40 28 18 10 12 3 12 0 16-7 16-14 24-27 12-7 12-4 16-2 16 3 11 9 6 12 1 24-6 27-12 30-22 43-4 12-2 20 2 20 4 16 10 13 8 5 24 5 12 5 9 8 7 12 10 40 13 28-19 16-7 8-4 12 0 12 4 12 12 20 7 32 33 68 5 16-1 8-5 8-8 6-12 3-20-5-38-24-18-7-8-1-8 3-6 5-4 8 0 20 5 32 5 16 16 18 37 26 16 16 13 24 4 28-1 44-8 28-9 24-12 20-14 16-14 10zM2592 1282l-16 1-20-7-20-15-12-16 0-4 20-1 12-4 13-11 6-12 0-12-4-12-7-7-16-7-8 0-12 6-13 16-6 24-1 2-4-2-24-19-40-44-57-45-11-12-9-16-2-12 1-8 11-16 17-12 18-9 16-6 16-2 20 3 8 4 8 8 8 16 6 38 10 13 8 3 12-3 8-7 4-10 2-36 9-36-8-64-4-12-7-9-12-7-12-1-16 2-8-2-20-16-20-21-13-18-7-20 2-12 6-8 12-7 28-7 100-2 32 5 20 11 24 23 16 21 21 36 11 13 16 9 16-2 12-5 16-11 8-9 5-11 1-20-10-24-2-16-2-28 1-20 6-20 9-13 8-6 12 0 12 10 15 21 9 20 6 20 2 16-1 16-13 44-1 16 4 12 23 36 11 28 3 32-6 32-11 20-13 13-20 12-32 13-8-2-11-16-9-5-12-1-10 6-5 8-2 12 2 8 7 12 1 8-11 36-13 24-21 26-19 18-53 37zM2625 961l5-8-2-8-8-5-8 1-4 3-3 9 4 8 7 3zM1936 1399l-12 1-16-7-28-31-23-29-8-16-2-16 4-12 9-9 12-6 12-2 16 0 12 4 24 17 27 32 8 20 1 12z"/><path fill="#46d500" fill-rule="evenodd" transform="scale(0.5)" d="M2204 1542l-20 2-24-4-32-14-17-13-31-61-39-51-9-16-4-16 1-40-3-20-19-36-18-24-6-20 3-40 11-36 9-16 10-11 12-8 12-5 12-2 16 0 16 4 20 9 5 9 1 24 3 12 7 9 8 6 12 3 8-1 8-3 7-6 20-56 3-20-4-16-6-8-12-10-20-6-2-4 13-32 0-12-4-12-11-11-12-3-12 1-24 13-8 0-48-21-24-4-20 7-38 34-14 5-20-12-12-4-16-1-20 5-8-2-15-19-10-24-2-24 4-12 7-8 20-10 60-19 12-7 10-12 4-12 3-16-1-52 2-44 6-16 8-7 12 1 40 14 64 35 8-3 44-53 20-15 16-4 16 0 12 7 8 13 0 24-8 27-12 23-22 30-5 12-2 16 2 20 8 32 10 16 13 8 36 9 12 11 6 12 15 60-20 28-3 12 0 12 6 40 21 48 7 32-1 8-3 5-12 3-20-4-40-15-16-2-12 7-8 18-2 16 2 20 17 44 19 27 33 25 15 16 11 20 6 24 1 24-2 20-12 41-10 19-13 16-13 11zM2788 894l-4 0-8-9-16-36-4-16-3-24 0-20 6-20 9-13 12-5 12 6 16 19 11 25 4 20-1 20-6 19-12 19zM2600 1258l-20-1-16-8 0-8 13-24 2-12-5-16-10-11-16-6-12 1-12 6-16 17-4 2-8-1-16-12-28-34-60-42-10-12-6-12-2-12 1-8 11-16 26-16 16-4 12-1 20 5 16 13 6 15 5 32 13 18 8 3 12-5 8-7 7-13 2-40 8-36-10-72-6-12-9-7-8-4-24-4-8-4-24-18-17-19-9-16-3-16 7-12 14-8 24-4 36 3 60-2 16 1 16 5 20 12 20 20 11 17 21 40 16 16 16 7 20-2 16-6 36-22 8-2 40 36 12 17 8 17 5 23-1 28-5 20-11 18-11 10-13 8-36 13-8-2-12-10-8-4-12 0-8 3-7 8-4 8 0 24-7 36-6 16-7 12-21 24-24 22-28 19zM2627 961l4-8-3-9-8-5-8 1-4 2-4 11 4 8 8 4zM1936 1381l-12 3-16-7-20-18-20-23-9-15-3-16 4-12 8-8 8-4 12-2 20 2 16 8 16 16 10 20 3 28-6 16z"/><path fill="#5fd900" fill-rule="evenodd" transform="scale(0.5)" d="M2160 802l-8 1-8-3-11-11-7-16 0-16 11-20 15-15 20-9 16 1 8 5 5 10 1 12-3 16-7 16-8 12-12 11zM2216 1086l-12-1-12-4-36-26-3-6 5-28-2-12-8-15-12-8-12-2-32 6-64-30-20-6-8 1-12 7-34 39-14 10-8 0-28-9-28 1-6-2-6-7-9-17-5-16 0-16 6-12 9-8 15-7 64-19 9-6 7-9 6-23-3-48 2-24 5-20 10-13 8-3 12-1 12 3 16 7 25 19 23 33 10 11 14 7 28 4 8 4 12 17 15 48 9 16 17 12 39 9 13 11 7 16 8 52-15 28-9 27-8 7zM2796 867l-12 0-11-10-9-16-5-20-2-20 4-20 7-13 12-6 12 4 12 13 8 14 6 20 1 16-4 16-7 12zM2604 1233l-12 0-6-4-2-8-1-20-4-12-7-10-12-9-12-4-12 0-8 2-16 9-8 2-12-4-8-10-3-12 3-6 36-2 8-4 7-12 6-44 0-36 6-32-1-32-7-44-7-13-12-10-27-13-25-16-14-12-10-12-5-12 1-11 4-7 10-6 18-3 40 4 56-4 28 4 20 11 20 19 11 17 18 40 9 12 10 8 16 7 16 1 16-3 36-13 20-1 16 7 16 12 12 15 8 15 4 20 0 24-5 20-11 18-20 15-36 12-8 0-12-7-12-4-8 1-10 5-8 8-15 32-4 36-11 19-16 17-28 22-20 13zM2622 965l9-8 0-12-7-6-12-1-7 7-1 12 8 8zM2468 1134l-20-3-20-8-20-12-15-14-7-12-2-12 4-12 10-12 18-10 20-4 20 6 15 12 7 16 4 36-6 23-4 5zM2196 1537l-16 1-23-5-21-8-17-12-9-12-25-52-32-48-8-16-5-20-1-40-4-20-8-16-29-40-6-15-2-17 3-32 10-28 13-18 20-13 16-3 16 1 24 8 12 9 5 24 7 12 8 7 21 9 3 4 1 36 3 20 8 24 13 24 19 26 44 37 15 25 6 24 1 24-3 20-6 24-12 24-13 16-12 10zM2248 1187l-12 1-16-4-17-11-7-8-2-8 3-12 7-8 12-9 8-3 8 2 12 9 8 12 5 13 0 12-2 8zM1920 1361l-12-2-12-7-12-11-12-14-4-10-2-12 3-8 7-7 12-4 16 2 12 6 12 11 7 16 0 20-4 12-3 4z"/><path fill="#78dc00" fill-rule="evenodd" transform="scale(0.5)" d="M2164 778l-8-1-8-5-4-7-1-12 5-12 8-8 9-4 11-1 8 5 2 4 1 16-8 16-7 6zM2216 1062l-12 1-12-3-16-7-10-8-4-8-4-32-6-11-8-7-12-5-32-2-38-19-35-24-35-36-8-17-13-67 2-24 11-17 8-4 12-1 20 8 12 10 24 32 12 12 16 8 32 11 12 8 11 17 15 40 10 13 16 9 40 8 12 9 5 9 3 12 3 44-3 10-12 20-8 8zM2792 854l-12-4-8-9-5-12-4-16 0-16 3-12 6-9 8-4 8 1 12 9 9 15 5 16-1 16-4 12-9 10zM2624 1193l-16 2-12-7-12-19-10-28-23-44-5-40 5-44-1-32-3-28-4-16-7-12-12-12-64-45-5-7-3-8 2-8 6-6 16-2 40 5 56-6 16 1 12 4 16 8 16 16 10 16 15 40 11 14 13 10 19 8 16 1 16-2 36-11 20-1 16 5 12 8 11 12 7 12 5 20 0 24-6 20-9 14-20 14-28 9-12 1-28-6-16 6-30 38-5 12-3 24-6 10-24 18zM1932 1001l-47-4-12-8-8-16-2-16 3-12 9-12 21-10 28-5 28 1 12 7 4 15-6 24-15 24zM2625 965l5-4 3-8-3-12-10-5-12 3-7 10 4 12 11 6zM2456 1113l-12 3-12-2-16-8-12-9-8-12-2-12 4-12 7-8 15-9 16-1 16 5 11 9 8 16 1 16-6 16zM2200 1529l-16 3-20-3-24-9-17-11-9-12-22-49-35-63-6-24-2-40-4-20-10-20-28-36-6-12-3-16 2-28 8-24 12-17 16-11 16-3 16 1 20 7 12 9 10 22 24 28 6 56 7 20 10 20 23 32 44 38 12 14 6 12 6 20 2 20-1 20-5 20-8 20-10 16-12 12zM2236 1170l-8 0-7-5-2-8 5-8 8-1 8 6 1 11zM1912 1333l-4 2-8 0-8-4-8-8-5-14 5-10 4-2 8 0 13 8 5 8 2 8z"/><path fill="#94df00" fill-rule="evenodd" transform="scale(0.5)" d="M2792 841l-8-2-7-6-8-20 1-20 5-8 5-3 8 0 8 5 8 12 4 11 1 11-2 8-7 9zM2220 1041l-8 3-12 0-20-7-12-12-10-28-10-12-8-6-31-10-29-13-20-13-15-14-41-61-20-39-5-20 3-8 6-8 12-4 12 4 10 8 19 28 13 12 18 9 36 10 15 9 12 16 16 44 12 12 17 6 36 3 14 7 8 16 1 36-6 20zM2652 1150l-16 2-16-7-44-36-16-23-5-17-2-16 5-68-1-32-4-16-8-16-35-48-1-4 2-4 8-4 49-14 16 0 16 3 16 8 12 12 6 11 9 32 5 12 13 16 17 12 18 8 20 3 16-3 40-10 20 0 12 4 12 8 14 18 4 16 0 20-5 20-9 14-16 11-20 6-20 4-28-2-16 5-34 30-9 12-13 24zM1924 990l-8 2-16-1-8-2-8-8-6-12 0-12 5-12 9-8 12-5 16-1 12 4 8 6 4 12-1 12-9 16zM2627 965l8-12-3-12-12-7-12 3-5 4-3 8 3 12 9 7 8 0zM2444 1102l-8 1-12-3-11-7-6-8-3-8 0-8 4-8 8-7 12-4 12 1 10 6 7 8 3 12-2 12-6 9zM2200 1521l-16 3-20-2-20-7-16-11-11-15-23-52-24-48-9-28-3-52-4-16-8-16-30-36-10-24 0-24 6-20 11-16 13-9 12-4 16 1 16 5 16 11 23 36 7 60 13 32 28 40 50 44 17 24 5 16 3 16-1 20-3 16-7 20-9 16-10 12z"/><path fill="#b2e400" fill-rule="evenodd" transform="scale(0.5)" d="M2796 827l-4 1-8-3-7-12-1-12 4-8 4-2 8 3 8 13 2 10-2 6zM2644 1125l-20-3-36-20-16-16-9-21-2-32 9-68 1-20-4-16-17-36-1-12 7-12 16-8 16-2 16 3 16 10 6 9 4 32 7 20-1 4-8-6-12-1-13 7-5 8-1 8 3 8 8 7 12 1 12-6 7-14-2-12 3-1 32 24 16 8 16 5 24 0 48-13 20 1 12 5 8 6 7 9 5 12 1 16-2 16-7 16-8 8-24 10-52 6-16 4-29 20-31 28zM2128 950l-12 1-20-4-16-8-13-10-13-16-6-16 0-16 4-7 12-5 24-1 16 4 14 9 10 16 5 20 1 24-2 7zM1912 969l-8 0-4-8 2-8 6-4 8 3 3 5-2 8zM2212 1026l-8 1-12-2-16-10-21-38-2-8 1-4 10-4 40-5 12 1 10 4 6 12-1 24-7 19zM2436 1090l-12-2-5-3-5-8 2-12 8-6 12 0 10 10 1 12-3 5zM2196 1514l-16 3-16-3-20-8-12-9-12-19-39-89-11-36 1-52-3-16-10-16-34-35-9-21-1-20 5-16 9-13 12-8 12-3 16 3 16 8 12 13 11 24 2 56 8 24 39 52 17 16 38 32 17 24 5 16 1 16-5 32-14 28-11 12z"/><path fill="#d2e600" fill-rule="evenodd" transform="scale(0.5)" d="M2604 906l-8 2-10-7-5-12 4-8 7-4 8 0 8 3 4 4 0 13zM2108 926l-8 2-8-2-12-10-4-7-2-8 2-8 3-4 9-4 8-1 8 3 7 6 4 8 1 12-3 8zM2644 1109l-20-1-25-11-15-12-12-20-4-20 2-24 8-36 10-25 4-2 16 12 12 2 12-6 12-10 44 23 24 7 20-2 36-12 16-2 18 3 14 10 6 14 0 16-5 20-9 10-20 8-48 3-20 5-20 12-40 31zM2208 1007l-12 0-8-5-7-9-1-12 6-8 6-4 15-4 9 0 4 2 3 6 0 12-7 16zM2080 1249l-12 1-16-7-16-12-9-14-4-12 1-16 4-12 12-11 12-3 16 4 13 10 8 12 4 16 0 16-5 19zM2188 1506l-20 0-20-7-12-11-11-19-36-92-7-24-1-16 2-12 5-13 8-8 12 1 12 8 40 40 44 34 16 22 4 12 1 16-5 32-13 24-9 8z"/><path fill="#e8e400" fill-rule="evenodd" transform="scale(0.5)" d="M2644 1097l-20 0-20-7-15-13-9-15-4-17 2-24 7-24 11-21 4-2 20 0 16-5 8-1 60 32 16 5 12-2 36-18 16-4 16 2 12 10 2 12-2 13-5 11-7 7-20 4-40-3-16 2-12 7-48 41zM2068 1222l-8 3-8-2-8-5-7-9-3-8 0-12 4-8 6-5 8-1 8 1 7 5 6 8 3 8 0 12-3 8zM2188 1493l-12 3-16-3-13-8-12-16-11-28-25-84-2-16 1-4 5-4 5-1 8 4 32 25 40 26 15 14 8 12 5 24-4 24-10 20z"/><path fill="#ebc800" fill-rule="evenodd" transform="scale(0.5)" d="M2648 1085l-16 3-20-4-16-12-9-15-4-20 5-24 12-22 6-6 9-4 21-2 20 7 28 19 11 16 0 16-9 16-19 20zM2792 1017l-8 3-8-2-4-5 1-4 11-8 8 1 4 7zM2184 1478l-12 3-12-4-10-8-7-12-7-20-4-28 2-16 6-6 12-1 20 7 19 12 10 12 4 16-3 20-8 16z"/><path fill="#ebb200" fill-rule="evenodd" transform="scale(0.5)" d="M2640 1077l-16 1-16-6-10-11-6-14 0-18 8-19 12-13 12-6 16 1 16 7 16 14 6 12-1 16-8 16-13 13zM2176 1454l-8 0-4-2-7-11 0-16 7-7 12 1 9 10 1 8-1 8z"/><path fill="#f09600" fill-rule="evenodd" transform="scale(0.5)" d="M2644 1065l-12 4-12-1-12-8-7-11-1-12 3-12 8-12 9-7 12-2 12 3 12 8 6 10 2 12-4 12-5 8z"/><path fill="#f28000" fill-rule="evenodd" transform="scale(0.5)" d="M2632 1058l-8 0-8-4-5-5-2-8 1-8 5-8 13-6 8 0 8 6 5 12-4 12z"/></g>
<g stroke="#fff" stroke-opacity="0.32" stroke-width="4"><line x1="848.5" y1="509.2" x2="1453" y2="509.2"/><line x1="1150.8" y1="207" x2="1150.8" y2="811.5"/></g>
<polygon points="983.6,478.5 990.7,498.8 1012.1,499.2 995.0,512.2 1001.2,532.8 983.6,520.5 966.0,532.8 972.2,512.2 955.1,499.2 976.5,498.8" fill="none" stroke="#fff" stroke-width="3.6" stroke-linejoin="miter"/>
<g fill="none" stroke-width="3.2" stroke-linecap="square"><path stroke="#6e6e6e" d="M848.5 207H1453V811.5"/><path stroke="#3a3a3a" d="M848.5 207V811.5"/><path stroke="#111" d="M848.5 811.5H1453"/></g>
<path fill="none" stroke="#333" stroke-width="3" d="M848.5 811.5V826.5M848.5 811.5H833.5M1150.8 811.5V826.5M848.5 509.2H833.5M1453 811.5V826.5M848.5 207H833.5"/>
<g font-family="'Liberation Serif', serif" font-size="28" font-weight="bold" fill="#111"><text transform="translate(845.5 853.5) scale(0.88 1)" text-anchor="middle">-1</text><text transform="translate(827 817) scale(0.85 1)" text-anchor="end">-1</text><text transform="translate(1151.8 853.5) scale(0.88 1)" text-anchor="middle">0</text><text transform="translate(827 514.8) scale(0.85 1)" text-anchor="end">0</text><text transform="translate(1454 853.5) scale(0.88 1)" text-anchor="middle">1</text><text transform="translate(827 212.5) scale(0.85 1)" text-anchor="end">1</text></g>
<g clip-path="url(#clc)"><circle cx="1846.2" cy="509.2" r="300.4" fill="#4e007d"/><path fill="#410080" fill-rule="evenodd" transform="scale(0.5)" d="M3716 1618l-36 1-48-3-52-9-14-5-13-8-8-8-1-8-4-1-1 5-19 5-16-1-24-6-48-21-44-24-60-39-44-35-31-31-24-28-35-48-25-40-28-56-24-64-7-32-1-20 7-26 24-10 6-4 0-4-11-4-23-4-14-24-5-28 1-64 7-64 12-52 17-48 12-28 18-33 12-18 25-29 26-52 26-36 47-47 24-20 72-47 52-28 48-20 40-12 80-16 44-4 76-1 44 4 48 9 56 16 52 20 48 24 64 40 36 28 52 50 27 28 30 44 45 76 23 56 19 60 12 27 2 17-1 20 7 56 1 48-2 20-22 108-16 52-9 20-46 80-21 44-23 32-25 28-37 38-44 35-76 48-40 20-40 17-40 12-100 19zM3564 586l3-12-3-4-4-1-4 2-2 7 6 10zM4029 682l0-8-1-3-4 1-4 10 4 4zM4150 774l8-12-2-13-12-10-24-7-8-9-16-27-8-4-8 9-6 13-1 12 3 8 8 6 24 11 24 23 8 3zM3808 814l3-8-3-4-3 4zM3700 1094l1-8-5-8-12-3-6 3 1 8 4 4 13 6zM3699 1274l4-4 0-4-5-12-10-6-8 1-4 3-4 10 4 8 12 5z"/><path fill="#370082" fill-rule="evenodd" transform="scale(0.5)" d="M3752 1614l-44 3-44 0-32-2-48-8-16-5-12-8-7-8-1-11-16-14-3 1 0 4 2 16-15 3-24-3-40-15-56-29-56-35-36-27-45-42-40-48-37-52-32-60-16-36-16-48-7-32 0-20 5-18 39-14 13-8-3-4-9-2-44-5-12-20-5-25 0-60 7-68 8-40 17-52 16-40 17-31 16-23 22-22 26-55 26-37 42-42 28-23 72-47 44-25 48-20 52-16 56-12 64-8 68-1 48 4 48 9 56 15 56 22 48 23 64 41 40 31 69 69 39 56 40 68 21 48 30 92 4 20 0 20 7 52 1 56-5 36-17 84-12 40-13 34-19 30-26 48-16 36-34 48-41 44-40 36-45 32-67 40-44 20-48 17zM3564 602l7-28-3-7-8-2-8 5-2 8 6 18 4 7zM4090 626l-2-2-2 2 2 4zM4024 690l8-7 1-5-5-20-4 4-7 20 0 8 3 3zM4140 778l8-2 7-6 4-8-1-12-10-10-29-10-7-9-16-28-4-5-4-2-8 12-7 16-1 12 3 8 9 7 20 9 24 23zM3814 830l3-12-1-16-4-4-7 0-6 4 1 11 8 16 4 3zM3759 814l4-4 0-4-2-4-5-2-12 6-9 8 5 4zM3688 854l2-8-6-2-4 2-2 4 2 5 4 3zM3716 942l5-8-1-6-6 2 0 8zM3699 1098l3-12-2-6-12-6-8 1-4 7 2 4 14 10zM3704 1274l2-4-2-8-8-12-12-3-7 3-4 4 0 12 7 7 12 3z"/><path fill="#280087" fill-rule="evenodd" transform="scale(0.5)" d="M3744 1614l-48 3-52-2-36-5-36-8-18-12-3-16-35-39-2 3 1 8 12 32-2 4-17 2-24-6-40-16-47-24-57-36-44-34-57-58-51-70-37-66-20-48-12-36-8-40 1-12 4-14 4-3 62-19 9-4 2-4-10-4-15-2-56-4-8-10-4-10-5-26 1-60 7-64 12-52 17-50 16-37 24-39 16-16 4 0 8 3 8-5 3-4 2-12-5-8 1-4 7-20 16-30 23-30 37-36 40-32 68-44 46-24 50-20 40-12 60-12 64-8 56-1 52 4 64 12 56 16 50 21 54 28 56 36 44 36 49 48 23 28 48 73 25 47 19 48 26 84 11 96 0 40-4 40-17 88-16 52-12 27-17 25-25 48-18 40-20 28-24 29-40 41-40 34-41 28-61 36-44 20-46 16-32 8zM3872 538l3-24-3-6-4 0-5 6zM3565 618l10-44-3-8-4-3-8-2-9 5-4 12 9 32 4 9 4 1zM4028 602l2-8-2-2-3 2 3 10zM4088 650l6-24-2-6-4-1-4 2-2 5 6 27zM4017 706l15-20 3-8-7-44-15 56-10 16 9 3zM4146 778l7-4 6-8 1-8-1-8-11-12-24-7-8-7-28-51-16 41-1 12 3 8 10 8 23 12 25 22 8 3zM3726 830l41-12 6-8-2-8-7-6-8-3-8 3-18 10-12 8-4 8 1 4 5 3zM3817 842l3-12 0-28-3-4-5-3-8 0-11 7 0 8 15 28 4 5 4 1zM3685 862l8-12-1-8-4-2-8 3-5 7 5 12 4 1zM3716 950l8-16 0-5-4-4-4 1-4 4 0 23zM3786 942l3-12-5-2-3 6 3 11zM3947 966l-3-9-8-9-1 6 5 12 4 2zM3796 1026l0-6-4-4-3 6 2 4zM3701 1098l2-12-3-7-12-6-9 1-3 4-1 4 5 7 16 11 4 2zM3324 1186l8-8 12-21 6-19 0-4-2-2-12 12-12 22-5 20 1 2zM3709 1274l-5-16-8-9-12-3-8 3-4 5 0 12 8 8 20 4 8-2z"/><path fill="#19008c" fill-rule="evenodd" transform="scale(0.5)" d="M3736 1614l-44 2-44-2-44-5-32-8-15-11-3-16-50-64-8-6 0 11 28 63-7 4-9 0-24-5-47-19-45-24-56-36-46-36-32-32-22-25-32-43-24-37-20-36-20-44-16-44-11-39 0-24 3-10 4-4 97-26 11-4-2-4-38-5-76-4-6-7-6-12-4-24 1-60 7-60 12-54 16-49 20-45 24-37 12-8 8 6 8 0 12-12 4-17-1-8-5-8 2-12 15-32 25-32 37-36 40-32 69-44 46-24 51-20 42-12 60-12 63-7 56-1 56 5 55 11 54 16 51 20 47 24 57 36 50 40 46 44 24 28 48 72 24 44 24 57 25 83 10 88 1 44-3 40-17 88-16 53-12 28-19 27-25 48-16 38-20 29-24 29-40 41-41 35-68 44-43 24-47 20-37 12-97 20zM3880 566l-1-56-3-5-8-2-6 3-3 8 9 44 4 9 4 1zM3565 638l7-24 6-40-2-8-4-5-12-3-12 7-4 13 12 47 4 11 4 4zM4001 714l16-4 17-24 3-8-4-48 1-36-2-5-4-1-4 1-3 5 0 44-4 28-7 24-10 12-25 12 9 2zM4148 778l6-4 6-8 2-8-2-8-8-11-28-10-12-12-14-27-4-16 2-52-4-5-8 1-5 8 4 32-1 20-11 36 0 16 9 10 24 12 28 25 8 3zM3200 782l4-4 2-8-2-6-4-3-4 0-5 5-2 8 3 6 4 2zM3865 774l-1-2-3 2 3 2zM3818 854l4-16 1-28-2-12-5-5-12-1-20 9-20-11-12-1-36 20-8 9 1 12 4 4 11 2 40-11 20-11 8 6 20 32 4 4zM3357 822l7-4 1-4-2-4-5 0-10 12 4 2zM3687 866l10-20-1-4-4-4-12 2-6 10 6 18 4 2zM3992 922l5-4-9 0-9 4 1 2zM3712 962l13-28-1-8-4-2-8 2-2 4-2 28 1 4 3 2zM3785 962l7-32-4-5-4 0-4 3-1 6 5 31zM3948 970l2-4-2-8-12-18-8-6 0 8 9 24 3 4zM3799 1026l-2-8-8-8-1-8-4-5-2 5 4 8 2 16 4 3 4 1zM3456 1054l-4-3-2 3 2 3zM3700 1106l4-10-1-14-11-9-8-1-7 2-3 4 2 8zM3480 1082l-2-4-3 0 1 5zM3324 1194l12-15 16-32 5-17-1-6-4-2-4 2-12 14-20 39-4 13 2 4 6 2zM4198 1230l3-4-1-4-4-6-5 10 3 4zM3724 1290l1-4-9-10-18-26-6-4-8-1-8 3-4 5-2 5 1 8 6 8 7 3 24 4zM3860 1462l4-4-1-8-7-4-4 1-4 6 0 5 4 4z"/><path fill="#000096" fill-rule="evenodd" transform="scale(0.5)" d="M3720 1614l-44 1-40-3-42-6-26-8-9-8-3-18-61-78-7 2-1 10 33 72-8 3-8 0-27-7-54-24-49-28-53-36-37-31-32-33-24-29-32-44-24-40-20-39-20-48-13-40-6-32 2-16 5-7 72-19 73-14 7-4-8-4-24-3-128-5-4-4-6-12-5-32 2-60 6-56 11-47 20-59 24-49 12-18 12-11 11 16-10 20-1 8 2 8 10 5 6-1 6-5 2-7 0-8-9-20 19-23 6-17-1-12-8-16 2-8 16-32 29-34 36-35 41-31 70-44 49-24 55-20 50-12 63-11 52-4 56 1 56 7 51 11 61 20 55 24 48 28 48 32 38 32 47 45 24 29 48 75 24 45 20 49 25 85 10 92-1 52-6 50-16 74-16 49-8 17-23 34-41 86-24 33-28 33-37 36-40 32-68 44-46 24-39 16-46 14-92 18zM3882 570l3-8-3-52-5-8-9-2-8 4-4 10 8 48 4 8 4 2zM3566 662l6-24 9-64-2-8-3-6-12-6-8 2-8 5-6 13 18 82 4 8zM3942 726l74-12 4-4 16-23 3-9-4-48 2-36-5-8-8 0-4 5 0 31-3 36-8 28-4 8-13 9-55 19 1 4zM4150 778l11-12 2-8-1-8-10-12-28-10-12-13-10-21-5-16-1-20 3-36-7-7-8 0-4 4-3 7 2 52-9 36 0 16 6 8 28 16 27 24 9 2zM3871 782l3-8-4-8-6-3-8 4-4 7 4 9 8 3zM3685 874l19-34 28-1 52-16 8 5 20 33 4 5 4 0 5-24 0-44-5-6-8-3-28 6-20-9-8-1-8 1-15 8-25 16-8 21-16 5-9 6-3 8 4 16 4 9 4 1zM3348 830l18-12 2-4-4-6-8 1-18 21 2 3zM3990 926l15-8 3-4-16 0-13 4-5 4 0 4 6 2zM3709 974l18-40-2-8-5-4-8 3-3 5-4 36 3 11zM3798 1030l2-8-14-28-1-8 9-56-2-5-8-2-4 2-3 5 4 56-3 16 10 26 4 3zM3950 970l2-8-12-21-8-11-4-1-4 1 0 7 13 33 7 3zM3591 1042l0-4-3-2-5 2 1 5 4 1zM3458 1058l1-4-2-4-5-2-3 2-2 4 2 4 7 1zM3706 1122l-3-40-7-8-8-3-12 3-3 4 1 8 19 16 5 8 4 12zM3417 1082l1-4-2-3-4 0-3 3 1 4zM3480 1086l3-4-1-4-6-3-4 3 0 4 4 4zM3604 1142l12-39 0-10-4 1-12 40 0 11zM3324 1198l12-14 20-40 4-14 0-5-4-5-8 0-4 3-16 23-12 24-6 16 0 8 6 5zM4028 1198l2-4-2-3-5 3 3 4zM3359 1206l-3-4-5 0 1 5 4 2zM4201 1234l4-8-1-16-4-10-8 11-5 15 5 7zM3725 1294l5-4 0-4-14-14-16-22-8-5-8-1-11 6-4 12 7 12 8 4 20 4zM3448 1402l1-4-3-4-6 0-2 4 2 4 4 2zM3860 1466l7-8 0-8-7-7-8 0-7 7 0 8 7 8z"/><path fill="#000f96" fill-rule="evenodd" transform="scale(0.5)" d="M3752 1610l-48 3-48 0-56-7-28-8-11-8 0-12-4-8-53-72-10-8-6 1-4 3-2 8 34 72-2 4-6 1-27-5-39-16-46-24-56-36-44-34-36-34-24-28-36-49-24-38-20-38-20-47-16-50-6-30 2-13 4-7 72-19 86-13 6-4 0-8-4-4-12-2-156-5-8-11-5-22 0-56 5-56 12-59 16-50 24-52 12-19 12-13 4 9-5 28 5 12 8 5 8 0 11-9 3-12-2-24 16-28 4-15-2-13-9-16 0-4 11-24 24-32 36-37 39-31 69-44 45-24 49-20 40-12 59-12 60-8 59-2 60 5 50 9 57 16 52 20 48 24 58 36 46 36 49 46 24 27 32 47 40 67 24 56 24 77 6 28 7 64 1 52-3 40-15 80-16 55-12 29-26 36-38 84-36 48-42 44-42 36-41 28-60 36-43 20-45 16-31 8zM3603 518l6-4 3-8-4-8-4-1-8 3-5 10 5 7zM3881 574l5-4 2-8-3-52-5-10-12-4-8 4-6 10 8 56 6 8 4 1zM3568 690l16-120-2-8-6-8-12-4-8 2-8 5-6 9-2 8 20 104 4 13 4 1zM3943 730l73-14 8-7 14-23 3-8-3-48 1-36-4-8-7-3-4 1-6 6 0 36-3 32-2 12-8 20-5 6-8 4-57 18-3 4 0 4 4 4zM4152 778l8-8 3-8 1-8-3-8-9-10-28-10-11-12-10-20-4-16-1-20 3-36-6-8-11-1-6 5-3 8 2 52-8 36 0 16 7 10 28 15 25 23 11 3zM3867 790l9-8 2-12-6-9-12-2-8 6-4 5 0 12 8 8zM3685 882l15-29 8-8 24-1 52-14 4 1 8 8 16 31 8 8 4-6 3-26 2-44-3-8-10-6-32 2-28-8-12 2-32 18-9 8-7 16-19 12-6 8 0 8 5 20 4 9zM3345 834l24-16-1-8-4-4-7 0-5 4-18 20-1 4 3 3zM3984 930l26-12 5-4 0-4-15 0-25 8-3 4 0 4 4 4zM3705 990l23-56-1-8-7-5-8 2-5 7-5 48 2 15zM3800 1030l2-8-9-16-5-16 7-60-3-7-8-2-4 2-5 7 3 52-1 20 10 28 9 3zM3948 974l6-8-2-9-18-27-6-4-4 1-4 7 15 36 5 4zM3497 1014l2-4-3-4-4 1-1 7zM3589 1046l4-4 0-4-4-4-5 0-3 8 3 3zM3541 1050l-1-5-4-1-4 2 0 4 4 3zM3460 1058l0-7-4-4-4-1-5 4 0 8 5 3 4 1zM3419 1082l1-6-4-3-6 1-3 4 1 4 4 3 4 0zM3482 1086l2-4 0-5-4-3-9 0-1 4 2 7 4 2zM3708 1122l-4-41-8-7-8-4-12 2-4 6 1 8 21 20 6 17 4 3zM3605 1146l13-48 1-4-3-4-4 1-4 8-12 43 4 5zM3329 1198l11-15 22-49 1-8-7-9-10 1-10 11-16 27-13 30 0 8 5 5 8 2zM4203 1238l4-4 2-8-5-43-4 2-4 7-12 34 3 8 5 3zM4032 1198l0-4-2-4-7 0-2 4 1 4 6 2zM3373 1222l-13-21-8-3-4 2-1 6 3 4 22 13zM3730 1294l3-4-2-8-15-14-16-20-8-4-8 0-13 6-3 12 3 8 5 5 28 10 16 10 4 1zM3445 1406l5-4 1-4-3-6-4-2-4 1-4 7 4 7zM3866 1466l4-8-2-12-8-6-12 2-6 8 2 13 4 4 8 3z"/><path fill="#002098" fill-rule="evenodd" transform="scale(0.5)" d="M3740 1610l-44 3-48-2-42-5-32-8-10-8-1-12-4-8-55-77-8-6-12 3-5 12 33 72-8 3-20-4-48-19-44-24-57-36-45-36-33-32-25-31-32-44-24-38-20-39-20-47-16-51-4-26 4-17 72-19 88-12 8-6 1-10-5-7-8-2-164-5-4-4-4-8-4-26 1-60 6-60 13-53 16-47 20-42 12-19 8-8-1 29 2 8 5 8 6 4 8 1 8-2 8-7 5-12 1-28 14-26 4-14 0-16-4-11-8-9 2-8 14-26 24-30 36-34 39-30 70-44 48-24 41-16 42-12 80-15 52-5 56 0 68 8 53 12 49 16 47 20 45 24 56 36 44 36 46 44 24 28 48 74 24 44 20 48 24 78 6 28 7 72 0 52-5 44-16 76-16 51-16 31-8 9-11 5-3 4-10 32-24 58-20 29-24 29-40 40-37 32-74 48-37 20-46 20-35 12zM3606 534l10-4 8-8 5-16-3-12-6-8-8-5-8-2-12 3-8 7-6 9-1 12 3 12 8 10 8 3zM3880 578l8-6 3-10-3-52-6-12-6-4-8-1-12 7-4 6-1 8 10 56 7 7zM3568 706l4-3 1-5 7-80 8-48-4-18-4-4-8-3-12 2-12 7-7 8-4 12 23 126 4 5zM3955 730l61-12 8-6 16-26 2-8-2-48 1-36-3-8-6-4-8 0-8 8-3 68-3 16-7 16-15 9-52 15-7 8 2 8 5 3zM4144 782l10-4 7-8 4-12-1-11-8-10-30-11-12-12-9-20-4-16 2-56-7-10-12-1-8 6-3 9 2 52-8 40 1 12 8 11 28 16 23 21 9 4zM3868 794l7-4 5-7 2-13-4-8-4-4-6-3-8 0-8 4-6 7-4 16 4 8 6 3 8 2zM3824 886l5-24 4-64-5-8-8-4-12-1-20 1-28-7-16 2-38 21-7 8-8 16-15 11-6 9 6 36 4 6 4 0 4-4 11-26 9-8 24-2 52-13 8 5 4 5 20 40 4 5zM3343 838l25-16 3-8-4-8-7-2-4 1-24 24-2 5 2 4 4 2zM3990 930l24-12 6-4 0-5-4-2-20 2-16 5-8 5-2 7 6 6zM3705 998l24-64-1-9-8-5-8 1-6 9-8 68 2 2zM3797 1034l6-8-13-36 7-60-4-8-9-3-8 6-2 5 1 72 11 28 6 4zM3951 974l3-4 1-8-6-12-16-24-9-1-4 4-1 5 14 36 7 6zM3500 1014l-1-8-3-2-6 2-2 4 4 6 4 1zM3592 1046l3-4-3-8-4-2-6 2-3 4 3 8 6 2zM3540 1054l3-4-1-4-6-4-4 2-2 6 2 3 4 2zM3461 1062l1-8-2-6-4-3-8 2-4 7 1 4 7 5zM3972 1050l1-4-1-3-2 3zM3708 1126l2-4-5-40-5-7-8-4-8-2-8 2-5 7 1 8 21 20 7 19zM3417 1086l4-4-1-8-4-3-8 3-2 4 2 6 4 3zM3484 1086l1-8-3-4-6-3-7 3 0 8 3 5 8 2zM3606 1146l14-48 0-6-4-3-5 1-3 4-13 48 0 4 5 3zM3384 1234l1-4-3-4-22-27-8-4-8 2-4-3 25-64-1-8-4-4-4-3-8 0-8 5-17 26-17 36-1 12 7 8 8 2 8-2 12-8 7 16 32 24zM4085 1170l-1-10-2 10zM4205 1242l6-8 1-8-2-44-2-4-4-3-4 1-4 6-14 44 6 12 8 4zM4033 1198l1-4-2-5-4-2-6 3-2 4 4 7 4 0zM3728 1298l7-8-1-8-18-16-13-16-7-5-12-2-8 2-6 5-3 12 3 8 6 6 26 10 18 12zM3450 1406l3-4-1-9-4-4-9 1-5 8 2 6 8 4zM3865 1470l5-4 3-8-2-12-11-8-12 1-9 11 1 12 4 5 8 5 8 0z"/><path fill="#00379e" fill-rule="evenodd" transform="scale(0.5)" d="M3728 1610l-44 1-40-1-52-8-20-7-6-5-1-12-3-8-58-80-8-5-8 0-8 5-4 12 32 72-12 1-19-5-54-24-55-32-48-32-32-27-32-32-24-29-32-44-24-39-20-39-20-48-16-50-3-24 3-13 34-11 46-10 84-12 8-8 0-11-5-7-11-5-164-5-4-3-4-11-3-24 1-56 6-55 12-54 16-47 16-36 16-23 2 3 0 12 4 12 10 10 8 3 8-1 8-4 7-8 4-12 4-28 14-28 4-16-1-17-12-23 12-24 28-34 36-34 37-28 71-44 48-24 42-16 44-12 66-12 68-7 52 1 57 6 55 12 50 16 49 20 45 24 56 36 44 36 48 45 24 29 48 74 24 44 20 48 24 80 5 24 8 76-1 48-4 39-16 76-16 53-8 18-12 18-4 3-13-3-2-4 2-16-2-52-4-4-5-2-7 2-3 4-15 48 2 8 7 7 18 9 3 4-5 24-12 36-4 21-8 18-20 30-32 38-38 37-39 32-76 48-38 20-38 16-39 12-60 10-38 10zM3574 706l3-8 7-84 11-60 5-5 18-7 10-7 8-11 4-14-1-16-6-12-9-9-16-5-20 3-14 11-5 8-3 12 2 32-24 19-9 17 21 132 8 7 4 1zM3885 578l7-8 2-8-4-56-4-8-6-5-8-3-8 1-10 7-6 12 8 56 4 8 8 6 8 1zM3947 734l73-16 5-4 15-24 4-12-2-44 1-40-3-8-4-5-12-1-4 2-6 8-2 64-3 16-6 16-11 9-61 19-5 8 2 8 8 5zM4148 782l8-4 8-12 3-12-2-8-9-11-28-10-13-11-9-20-3-16 1-60-8-9-12 0-8 5-4 8 1 56-7 36 1 16 8 12 28 16 25 21 8 4zM3824 902l4-16 6-72 3-12 7-5 16 2 12-3 7-6 5-8 1-8-1-10-5-6-7-5-12-1-12 6-16 26-44-1-28-8-20 4-39 23-13 23-15 13-5 8 7 40 4 4 5 0 5-4 11-25 8-8 24-2 40-10 12 0 8 5 4 5 20 44 4 6zM3346 838l24-16 3-8-5-9-4-2-8 0-27 27 1 8 6 4zM3983 934l17-6 18-10 4-4-2-8-4-2-20 4-24 8-4 6 2 8 6 4zM3800 1034l3-4 1-8-10-24-2-12 7-56-4-8-3-3-8-1-8 4-4 8 2 72 10 28 8 5zM3705 1002l26-68-3-11-8-5-11 4-4 8-10 68 5 5zM3944 978l8-3 4-5 0-12-20-32-4-3-8 0-6 7 1 12 15 32zM3498 1018l4-4-1-8-5-4-4 1-5 3 0 8 5 4zM3364 1034l1-4-5-2-1 6zM3594 1046l2-8-4-6-8-1-4 3-3 8 3 4 8 3zM3543 1054l1-8-3-4-5-2-5 2-3 4 2 8 6 3zM3974 1062l2-16-1-4-3-2-4 2-1 4 5 19zM3464 1062l0-8-5-8-7-2-8 5-1 9 5 5 12 2zM3420 1086l3-8-1-4-6-4-8 2-4 6 3 8 5 2zM3481 1090l6-8-3-8-8-5-8 1-2 8 3 8 7 4zM3709 1126l2-4-5-40-6-8-8-4-8-2-8 2-6 8 1 8 20 20 7 20 6 2zM3604 1150l4-4 13-48-1-8-4-2-7 2-3 4-13 48 3 6 4 2zM3387 1234l-1-8-25-28-14-8 1-12 19-48-1-8-6-7-8-3-8 2-9 8-17 28-14 32-1 12 5 7 8 4 20-2 4 1 40 33 4 0zM4085 1174l4-4 4-32-1-5-4 1-9 32 1 6zM4031 1202l4-4-1-8-6-4-4 1-4 3-1 8 5 4zM3732 1298l5-8-1-9-36-35-16-4-8 2-7 6-3 8 1 8 9 11 24 9 20 14zM3444 1410l8-4 3-8-4-8-7-3-8 3-4 8 4 9zM3864 1474l6-4 5-8 1-8-3-8-9-9-8-2-8 2-10 9-2 8 2 8 10 11 8 2z"/><path fill="#004ea2" fill-rule="evenodd" transform="scale(0.5)" d="M3712 1610l-44 0-40-3-32-6-23-7-4-4-1-12-4-8-24-32-33-48-7-6-8-2-11 4-6 8-2 8 5 16 25 52-3 3-4 0-36-11-57-28-70-44-49-40-28-29-28-34-32-45-24-41-20-40-16-40-13-39-5-32 2-8 4-4 41-12 43-9 76-9 8-6 2-4 2-8-3-8-7-8-10-4-164-6-4-3-4-11-2-28 2-57 7-59 13-50 16-45 12-25 12-17 6 21 6 7 8 4 16 0 8-4 8-8 5-11 5-28 16-32 4-16-2-20-12-24 15-28 29-33 34-31 39-28 73-44 51-24 34-12 47-12 69-12 69-6 54 2 59 8 62 16 64 24 47 24 64 40 40 32 50 47 24 27 24 35 40 66 24 51 33 106 11 100-1 44-7 51-16 71-16 48-8 16-8 10-4 1-4-3-4-6-2-16-2-44-8-8-8 0-6 4-17 52 4 12 17 16 3 8-2 16-13 40-1 20-5 12-12 20-48 57-40 39-37 28-71 44-47 24-41 16-28 8-64 9-39 11zM3575 710l5-8 6-80 10-45 8-15 24-13 8-7 9-12 5-16 0-20-6-16-12-13-20-8-16 0-12 4-12 8-8 9-8 20 1 32-4 8-14 16-6 16 20 132 6 8 5 2zM3884 582l9-8 3-12-2-56-4-8-6-7-8-3-8-1-14 7-6 8-2 8 8 56 3 8 8 8 11 2zM3956 734l64-13 7-7 17-28 2-8-2-44 1-40-2-8-7-7-8-2-8 3-7 10 0 36-3 32-4 16-6 13-12 8-56 16-7 7 0 12 7 6 8 1zM4150 782l10-7 6-9 2-12-1-8-5-8-6-6-28-9-12-11-8-18-3-16 1-60-5-8-5-4-12 0-8 5-6 11 1 52-6 40 0 16 8 12 28 16 27 22 12 4zM3826 906l4-8 6-72 4-16 8-6 16-1 8-3 8-6 7-12 1-12-2-8-6-8-7-4-9-2-12 3-9 7-11 17-8 4-32 1-32-8-20 4-39 22-7 8-8 16-18 20-1 8 5 32 3 8 5 2 9-2 11-24 8-9 28-2 44-9 8 2 8 10 20 46 4 3zM3343 842l29-20 1-12-5-7-8-2-8 3-24 26 0 6 4 6 4 1zM3988 934l33-16 3-4-2-8-6-3-12 1-32 10-5 8 1 8 8 6zM3707 1002l25-68-3-12-9-5-8 2-7 7-11 68 2 8 4 2zM3801 1034l4-4 1-8-12-32 6-64-7-8-9-2-8 4-5 10 1 72 12 29 8 5zM3950 978l8-8 0-12-20-32-6-4-8 0-6 4-3 8 15 36 10 9zM3501 1018l3-8-4-8-8-1-4 3-3 6 3 7 8 3zM3366 1034l1-4-3-4-4 0-4 4 4 6zM3591 1050l5-4 1-8-5-8-8 0-6 4-2 8 7 8zM3539 1058l6-4 1-8-6-7-8 1-5 6 1 7 4 4zM3976 1090l2-44-2-6-4-1-4 1-3 6 7 39 2 5zM3484 1090l4-8-2-8-18-10-4-14-4-5-8-3-7 4-4 8 4 8 18 8 3 12 6 8 8 1zM3421 1086l4-8-5-8-8-1-7 5-2 8 5 6 8 1zM3711 1126l1-4-4-36-4-8-16-10-8-1-6 3-5 8 3 10 18 18 7 20 7 4zM3606 1150l6-11 11-41-2-8-5-4-8 3-3 5-13 48 4 8 4 2zM3386 1238l3-4-1-9-24-28-15-11 1-8 18-44 0-12-8-9-8-3-8 2-8 6-18 28-16 36-1 12 5 8 6 4 8 1 16-1 20 13 21 19zM4089 1174l7-36-1-4-3-3-7 3-8 36 3 5 4 1zM4033 1202l3-4-1-8-7-5-8 3-3 6 3 6 8 4zM3726 1302l6-2 5-6 2-8-4-8-35-33-16-4-13 5-6 12 1 8 6 9 8 5 20 8 16 11zM3450 1410l6-8 0-8-8-8-8 0-9 8 1 9 8 8zM3858 1478l10-3 5-5 4-8 1-8-2-8-7-8-9-5-8 0-8 3-6 6-3 8-1 8 3 8 7 8z"/><path fill="#005fa5" fill-rule="evenodd" transform="scale(0.5)" d="M3740 1606l-44 3-48-2-44-5-27-8-5-4-1-12-7-12-22-28-34-50-12-8-8 0-10 6-6 8-2 8 3 12 25 56-10 0-14-4-53-24-49-28-48-32-35-28-29-30-24-28-32-44-24-39-20-38-20-47-16-50-4-24 4-12 40-13 40-9 83-10 6-4 4-8 1-8-2-8-5-8-11-6-168-9-5-5-3-24 1-60 6-56 9-40 16-48 20-42 4-1 5 11 8 8 15 5 16-4 14-13 6-12 6-28 17-32 4-16-3-24-12-24 12-23 24-28 30-29 37-28 101-60 37-16 35-12 55-12 25-1 1 1-13 3-14 9-9 8-7 12-4 20 1 32-14 28-3 12 22 134 8 9 13 1 6-4 4-8 6-76 3-20 6-20 10-13 28-15 12-12 9-20 4-20-1-16-3-12-13-19-20-11-28-3-4-3 45-8 43-4 52 0 65 8 52 12 48 16 39 16 46 24 58 36 44 36 24 24 28 25 20 23 56 87 20 38 20 50 24 77 11 96 0 44-4 36-19 89-16 49-8 17-9 9-4-4-5-12-2-44-3-8-5-5-8-2-8 2-5 5-16 52 3 12 14 16 4 12-14 52 1 20-7 16-8 13-40 50-37 37-39 32-76 48-37 20-48 20-41 12-35 4-11-8-8-1-8 4-4 9-6 4zM3882 586l11-8 5-12-1-60-3-8-6-8-8-5-12-2-12 5-7 6-4 8-2 12 11 60 6 7 8 5zM3947 738l73-15 10-9 14-24 4-12-2-40 1-44-3-11-8-7-8-1-8 2-8 11-4 70-2 12-6 14-7 6-9 4-52 14-8 8-2 10 3 8 11 5zM4152 782l10-8 5-8 3-12-2-11-8-10-8-5-24-7-12-11-8-20-2-16 3-56-4-8-5-5-8-2-8 1-10 6-7 12 1 56-5 40 2 16 11 11 24 13 28 23 12 4zM3824 910l6-4 2-4 7-72 5-16 4-3 20-5 8-4 9-8 5-12 1-12-1-8-6-10-8-5-12-2-12 3-12 9-12 15-8 4-28 0-32-7-20 3-32 18-11 8-14 24-16 20-2 8 6 36 8 8 6 0 6-4 9-19 8-10 72-10 8 3 8 11 16 41 6 4zM3346 842l27-20 2-12-7-9-8-1-7 2-25 25-2 7 4 8 6 3zM4202 898l2-4-4-3-3 3 2 4zM3980 938l20-7 20-10 5-7-1-8-4-4-8-1-20 5-20 7-7 9 1 8 6 6zM3704 1006l5-4 24-68-3-12-10-6-12 4-5 10-11 68 4 6zM3803 1034l4-12-12-32 6-64-5-9-12-3-8 4-7 12 2 72 14 32 11 4zM3953 978l5-4 3-8-1-8-7-12-17-24-8-2-8 2-6 8 1 8 16 36 9 6 8 0zM3503 1018l2-8-4-8-5-3-9 3-4 8 3 8 10 3zM3368 1034l0-6-4-3-7 1-2 4 0 4 5 4 4 0zM3593 1050l6-8-2-8-9-6-8 2-5 8 1 8 8 5zM3542 1058l6-8-3-8-5-4-8 0-7 8 1 8 6 5zM3980 1090l0-44-4-8-4-1-4 1-5 8 7 44 6 3zM3485 1090l5-8-2-8-19-12-7-16-10-5-8 4-4 9 3 8 17 9 6 15 6 5 8 2zM3418 1090l7-8 0-8-5-6-8 0-8 5-2 9 6 7zM3708 1130l5-8-6-40-6-8-9-6-8-2-8 2-7 6 0 12 20 20 7 20 4 4zM3608 1150l16-52-1-8-7-5-6 1-4 4-15 52 5 9 8 2zM3389 1238l2-4 0-8-38-40-1-4 18-48 0-12-10-11-8-2-8 1-11 8-15 24-18 40-1 12 4 8 9 6 24 1 20 12 20 18 8 2zM4084 1178l8-6 4-23 1-15-5-5-5 1-4 4-8 32 1 8zM4035 1202l3-8-5-8-5-2-8 3-4 7 3 8 9 3zM3732 1302l7-8 1-12-4-6-32-30-16-6-8 1-10 5-5 8-1 8 3 8 5 6 28 14 16 12 8 2zM3453 1410l5-8-3-12-7-6-12 2-6 8 2 12 8 6 8 1zM3868 1478l8-7 4-8 0-9-2-8-5-8-9-6-12-1-8 3-8 8-4 8 0 8 4 10 8 9 8 3 8 1z"/><path fill="#0073a3" fill-rule="evenodd" transform="scale(0.5)" d="M3728 1606l-44 2-40-2-32-4-31-8-4-4-7-20-26-33-35-51-13-8-12 1-8 6-7 9-1 8 1 12 22 52-7 0-16-4-51-24-55-32-42-28-32-27-29-29-23-28-32-45-24-38-20-39-20-47-13-39-5-32 2-7 2-1 50-17 36-7 76-9 8-6 4-7 1-10-2-8-7-11-12-6-116-7-52-7-4-4-2-21 1-60 5-48 8-38 16-50 16-34 16 12 20 4 20-8 13-14 5-12 6-24 18-32 6-20-2-24-13-28 1-4 14-23 22-25 26-24 32-24 52-29 41-27 33-16 31-12 45-12 10 0-9 12-5 16-1 16 5 32-10 32-1 12 13 64 10 68 10 10 8 1 8-2 6-5 3-8 6-72 9-32 4-7 8-7 24-10 15-12 11-16 7-20 3-28-4-28-11-20-16-12 16-4 35-2 48 1 48 5 40 8 41 12 54 20 34 16 68 40 34 24 27 24 14 16-20 4-8 7-6 9-1 8 1 40-5 48 1 16 10 14 28 16 24 20 8 4 12 2 12-5 8-7 6-12 1-12-3-12-8-8-28-9-8-5-8-10-4-11-5-29 5-44-1-12 21 15 20 22 24 34 44 73 20 42 12 32 24 78 11 100-1 44-6 41-16 71-16 50-8 17-4 5-4-1-7-15-1-36-3-8-9-8-8-2-8 3-8 7-15 52 2 12 14 20 2 8-2 12-12 40 2 24-3 9-12 19-40 49-35 35-34 28-30 20-33 17-20 15-37 20-49 20-48 12-8 0-7-8-11-7-8-1-12 1-8 4-8 7-6 16-13 4zM3878 590l14-7 8-13 2-8-1-56-4-12-6-8-11-6-12-1-12 4-8 8-6 11-2 12 11 60 5 8 8 5zM3956 738l56-11 12-4 9-9 14-24 4-12-3-40 1-48-3-8-6-7-8-2-8 0-8 5-5 8-4 72-4 16-7 11-12 7-52 14-10 8-3 12 3 8 4 4 14 3zM3369 658l11-8-15 4-3 4 2 2zM3830 910l5-8 5-56 6-24 6-6 16-5 12-7 8-10 5-12 2-12-3-12-6-8-10-7-12-2-12 3-12 7-16 18-8 3-20 1-36-7-12 1-12 4-40 24-31 47-1 8 5 36 7 8 8 2 8-4 12-23 8-6 24 0 44-6 8 4 8 11 15 38 9 3zM3340 846l28-17 7-7 1-12-5-8-11-4-8 3-25 25-3 8 4 8 4 3zM4205 898l1-4-2-5-4 0-4 3 0 6 4 2zM3987 938l17-7 20-11 3-10-3-7-8-3-12 1-24 7-12 6-5 12 2 8 11 6zM3799 1038l6-4 3-8-11-36 6-64-3-10-8-3-8-1-11 6-5 12 2 72 13 32 9 5zM3707 1006l5-7 22-65-2-13-4-4-8-3-11 4-6 8-11 68 0 8 4 4 4 1zM3948 982l12-8 2-8 0-8-8-16-14-19-8-4-8 0-6 3-5 8 2 12 17 35 8 5zM3204 1006l1-4-1-5-4-1-5 2-2 4 3 5zM3499 1022l7-8 0-8-6-7-8-1-8 7-1 9 7 8zM3366 1038l3-4-1-8-8-3-4 3-2 4 2 6 4 3zM3596 1050l4-8-4-12-8-3-10 3-5 8 3 9 8 6 8-1zM3545 1058l4-8-2-8-7-6-8 1-4 2-4 11 4 7 8 4zM3978 1094l3-4 0-44-4-8-5-2-6 2-4 8 6 44 4 4zM3487 1090l4-8-2-8-17-12-8-17-8-5-8 1-4 3-5 10 2 8 19 11 5 13 7 6 8 2zM3710 1130l4-8-6-40-6-8-10-6-8-2-8 1-8 7 0 12 19 20 9 22 8 4zM3420 1090l6-8 1-8-7-7-12 1-7 10 1 8 10 6zM3602 1154l6-2 4-6 13-48-1-9-8-5-8 2-4 4-13 48-1 8 2 4zM3385 1242l7-5 1-11-36-40-2-4 17-48 0-12-5-8-7-5-8-2-8 1-11 6-15 24-20 44-1 12 4 8 7 6 8 3 20 0 16 9 24 20zM4089 1178l5-8 5-32-3-8-4-2-8 2-3 4-8 36 7 9zM4029 1206l7-4 2-4 0-8-6-7-8 0-8 7 0 8 4 5zM3735 1302l7-12-2-12-35-32-9-5-12-2-8 2-8 6-4 7-1 8 3 8 6 8 25 12 19 13 8 2zM3449 1414l9-8 1-12-7-10-12-1-9 7-3 12 8 10 8 3zM3866 1482l10-6 5-10 2-12-2-8-5-8-8-6-8-3-12 1-8 4-8 11-2 9 2 12 8 11 8 5 8 2z"/><path fill="#0087a5" fill-rule="evenodd" transform="scale(0.5)" d="M3704 1606l-64-2-40-6-14-4-4-4-12-24-26-33-33-47-7-7-8-3-16 3-9 7-5 8-2 16 15 48-3 4-12-4-50-24-62-36-46-32-38-36-25-28-27-37-24-36-20-36-32-72-12-39-4-26 5-6 16-8 38-12 37-7 68-7 10-6 5-8 1-8-2-12-8-12-14-7-104-9-24-4-25-8-10-8-5-7-4-37 3-52 5-34 12-46 12-31 4-7 4-1 32 0 12-3 16-8 13-14 7-12 8-28 18-32 7-20-1-24-12-32 0-8 17-24 28-28 34-28 32-20 33-6 12-5 8-9 10-16 12-8 43-20 25-8 9 0 17 64-4 44 13 60 10 72 5 8 8 4 8 2 8-2 8-6 4-10 6-64 10-32 8-8 28-10 12-7 12-12 10-19 6-20 5-32 1-60 10-4 24 0 54 4 46 8 42 12 26 11 29 9 43 20 36 23 26 13 49 36 17 16 3 8-7 2-12 8-8 10-3 8 2 36-4 56 1 16 4 8 8 8 28 16 28 22 12 3 12-3 12-8 6-10 4-16-3-12-6-8-9-5-28-8-8-8-7-15-3-16 0-20 7-40 7 2 16 15 24 31 48 77 16 29 16 37 32 102 9 75 1 44-3 36-11 57-12 48-16 45-4 8-4 0-4-6-5-40-7-10-8-5-8-1-8 2-7 6-5 8-14 48 2 12 11 20 2 8-2 12-12 40 1 36-28 40-41 44-35 32-28 20-20 10-20 3-12 3-10 8-18 24-48 24-46 16-18 2-12-10-12-6-12-3-16 0-14 5-11 8-9 12-6 12-11 4zM3888 590l12-12 4-12 2-68-5-12-9-11-8-4-12 0-16 6-10 9-8 16 0 16 8 52 6 11 8 8 8 4 12 0zM3947 742l77-16 9-8 21-32 1-8-3-32 0-56-4-12-8-6-12-2-8 2-7 6-4 8-4 68-3 16-6 12-14 8-50 13-8 5-5 6-2 12 5 12 14 5zM3369 662l35-23 0-6-4-2-4 2-36 21 0 8 4 2zM3801 1038l5-4 3-8-11-36 8-72 2-3 20-1 8-7 7-61 5-16 7-8 17-7 12-9 8-11 5-13 0-16-3-12-10-11-12-5-12 0-12 4-12 8-16 16-8 2-16 1-24-6-16-1-12 2-16 7-26 15-10 8-27 44-2 8 5 40 4 7 8 4 12-3 12-21 8-6 28 0 36-4 8 2 8 8 9 21 2 16-23 1-8 6-4 5-2 8 2 68 14 36 10 6zM3344 846l28-18 5-6 1-12-5-8-5-4-8-1-8 3-27 26-2 8 5 9 8 4zM4202 902l5-4 1-4-2-4-6-3-5 3-1 8 5 4zM3993 938l31-16 4-6 0-6-4-9-8-3-16 3-24 7-10 6-5 12 1 8 3 4 15 4zM3709 1006l3-4 24-68-1-8-3-7-12-6-12 4-6 9-12 68 1 8 5 5 8 1zM3953 982l9-8 2-8 0-8-7-16-17-21-8-4-12 2-7 7-2 8 16 40 5 5 8 4zM4060 942l1-4-1-2-4 0-2 2 1 4zM4124 942l2-4-2-2-4 2zM3205 1014l7-8 0-8-3-4-9-5-8 2-6 7 0 12 10 6zM3502 1022l6-8-3-12-9-5-8 2-6 7 1 12 9 6zM3368 1038l2-4-1-8-5-4-8 2-4 6 3 8 5 2zM3590 1054l10-8 1-8-5-9-12-3-8 5-4 11 4 7 4 3zM3539 1062l9-6 2-10-6-9-12-2-8 7-2 8 6 9zM3981 1094l2-4-2-48-2-4-7-4-8 4-3 8 6 44 5 6 4 0zM3483 1094l6-4 3-8-4-11-14-9-9-16-5-5-8-2-8 4-5 7 0 12 19 12 10 17 8 4zM3422 1090l6-8 0-8-2-4-10-5-12 5-5 8 5 11 8 4zM3711 1130l4-8-5-36-3-8-7-7-12-6-8 0-8 3-6 10 3 12 17 16 10 24 8 3zM3606 1154l7-8 13-48-2-10-8-5-8 2-5 5-14 52 2 8 5 4zM3389 1242l6-8-2-12-34-40 1-8 14-40-1-12-5-10-8-5-8-2-12 2-13 11-16 28-15 36-1 8 2 8 11 12 8 2 20 1 16 9 24 20 8 2zM4091 1178l4-8 5-32-2-8-6-4-8 2-4 6-8 36 4 8 4 2 8 0zM4033 1206l7-8-1-8-2-4-9-5-8 3-6 10 3 8 7 5zM3731 1306l7-4 5-8 0-12-4-8-32-28-11-7-16-1-12 7-5 9-1 8 3 8 6 8 25 13 20 14 8 2zM3452 1414l5-4 4-8-2-12-3-4-8-5-12 2-9 11 1 12 4 5 8 5zM3864 1486l9-4 8-8 4-12-1-12-4-10-8-8-12-5-12 1-11 6-6 8-4 12 2 12 7 11 8 6 12 4z"/><path fill="#009eaa" fill-rule="evenodd" transform="scale(0.5)" d="M3724 1602l-72 1-42-5-13-4-9-8-15-20-21-25-40-58-8-6-8-3-16 2-9 6-6 8-5 16 1 24-1 8-8 3-16-5-40-19-20-8-34-19-39-28-38-36-21-26-28-38-24-36-20-36-16-33-16-41-12-43-1-11 7-8 12-8 33-12 41-8 72-7 8-6 5-7 2-12-2-12-9-14-12-7-72-7-36-8-20-8-7-8-27-44-7-16-3-16 8-60 12-40 8-10 12-8 48-19 16-12 9-11 15-39 19-33 7-20 0-20-12-44 1-8 27-32 37-32 25-16 44-6 19-6 57-39 16-4 12 3 8 6 7 10 11 24 2 36 14 60 11 72 4 8 7 5 8 3 8-1 12-6 6-9 7-60 4-16 7-13 8-6 40-13 12-8 12-16 10-24 15-64 11-22 11-10 13-6 20-4 24-1 39 7 13 5 9 7 2 8-11 24-2 20 10 60 8 13 12 9 12 2 8-1 8-5 9-10 6-16 3-36 4-20 6-10 8-2 20 6 40 24 36 10 23 16 33 28-1 8-19 20-4-4-1-24-7-11-8-5-8 0-8 1-8 5-8 10-2 8-1 48-3 24-4 12-6 8-7 4-53 14-10 6-6 8-3 12 3 8 8 8 16 3 80-15 14-8 18-22 3 6 3 24 10 14 29 18 31 23 12 3 12-2 11-8 11-16 3-16-3-12-10-10-28-7-12-6-8-15-5-26 2-24 7-22 4-1 4 2 20 21 24 35 17 37 15 16 16 26 16 33 12 31 28 92 8 74 1 48-4 36-9 43-12 47-12 34-4 3-4 0-10-27-7-8-7-4-12-2-8 2-12 12-16 52 1 12 10 28-15 48-5 48-5 12-11 16-43 48-36 32-16 12-52 10-16 6-17 12-35 31-28 16-16 5-12 1-48-11-16-1-16 3-20 9-32 32zM3373 662l31-20 3-4-3-8-8 0-39 24-1 4 4 6 4 2zM3803 1038l5-5 2-7-1-8-9-28 4-42 4-22 4-6 16-4 8-6 4-8 6-48 6-18 4-6 29-20 9-12 6-16 1-16-5-16-8-10-12-6-12-1-16 4-12 7-16 15-12 5-48-6-16 2-12 5-32 18-12 11-26 48-1 8 5 36 5 8 7 4 6 1 8-3 6-6 10-16 8-4 60 1 8 2 8 8 5 13 1 8-2 4-20 5-8 7-3 8 2 72 14 36 11 7zM3347 846l25-16 7-8 1-8-2-8-10-9-8-1-8 2-28 28-1 12 5 7 8 4zM4206 902l3-4-1-8-4-4-8 1-4 7 0 4 8 6zM3956 982l8-8 3-8-3-20 4-2 12 0 12-3 32-17 5-6 1-8-6-11-12-2-40 11-11 10-5 13-16-12-8-3-8 0-10 6-4 8 0 8 18 39 12 8 8 0zM3711 1006l26-72 0-8-4-8-5-4-8-3-12 4-7 11-12 72 3 7 4 3 8 2zM4062 942l1-4-3-5-6 1-2 4 4 6zM4127 942l1-5-4-3-4 2 0 6zM3203 1022l9-6 3-6 1-12-8-11-8-2-8 1-8 4-6 8-2 8 1 8 11 9 8 1zM3504 1022l4-4 1-8-5-11-12-3-8 5-4 9 4 11 4 3 8 1zM3369 1038l3-8-4-7-8-2-7 5-2 8 5 6 8 1zM3594 1054l7-8 0-12-9-9-12 1-8 8-1 12 9 8 8 2zM3543 1062l8-8 0-12-11-8-12 2-7 10 3 10 8 7zM3982 1094l2-4-1-48-7-8-8-1-6 5-2 8 6 44 6 7 4 1zM3485 1094l5-4 3-8-5-12-12-9-9-15-7-7-8-1-8 3-5 5-3 8 1 8 3 3 16 9 9 16 5 4 10 2zM3417 1094l10-8 3-12-1-4-5-4-12-2-10 6-4 12 6 9 8 3zM3704 1134l8-3 4-9-6-40-6-8-8-6-12-4-8 1-10 9 0 12 5 8 14 12 9 24zM3609 1154l5-8 13-48-1-8-2-4-8-4-8 1-6 7-14 52 2 8 6 5 8 1zM3391 1242l6-8-2-12-33-40 1-8 13-36-1-16-4-8-10-8-9-3-12 2-14 9-12 20-21 48 2 16 5 8 8 5 8 3 20 1 12 6 28 22 8 2zM4088 1182l8-8 6-36-2-8-8-5-8 1-4 5-10 39 6 10 4 2zM4035 1206l6-8-2-12-7-5-12 1-6 8 1 12 9 6zM3735 1306l8-8 3-8-2-12-7-8-29-25-12-7-16-1-8 4-6 5-4 8-1 8 5 12 6 6 24 13 20 14 8 2zM3439 1278l-3-6-6 2 2 6 4 1zM3455 1414l7-12-1-12-9-9-8-1-8 2-6 4-4 8 0 8 3 8 11 7 8 0zM3864 1490l12-5 8-10 4-13-1-12-6-12-9-9-12-4-12 0-12 7-8 10-3 12 2 12 5 10 8 8 12 6z"/><path fill="#00aca5" fill-rule="evenodd" transform="scale(0.5)" d="M3696 1598l-28 3-32-3-20-5-20-9-8-6-28-31-47-65-9-8-12-3-16 4-15 15-13 27-8 3-8-2-80-25-52-36-44-44-52-71-36-64-28-69-6-27 0-12 3-8 7-8 13-8 21-8 37-8 69-6 12-3 8-5 4-6 2-12-1-12-9-16-12-10-12-3-52-6-18-5-6-4-2-4 2-4 12-10 8-14 0-12-4-8-8-7-12-2-16 5-16 12-4 1-8-3-14-14-11-20-6-24 0-24 8-32 15-25 18-15 42-23 15-13 9-12 14-36 24-40 6-16 0-24-9-40 2-16 24-28 35-27 24-8 56-10 64-27 12-1 12 5 12 13 8 17 20 77 12 75 4 7 8 6 16 3 12-6 7-8 9-56 4-12 8-12 8-5 28-7 20-8 12-8 10-12 11-24 17-60 14-23 12-10 16-7 16-3 20 0 24 6 9 9 0 36 10 60 6 12 6 8 17 10 16 0 16-14 10-20 6-36 4-7 8-7 12 0 16 4 58 22 12 8 0 4-14 14-7 14-1 52-4 24-4 11-12 10-52 14-12 6-6 7-4 12 1 12 6 8 11 5 12 1 80-15 12-5 16-11 11 21 7 8 30 17 28 21 16 5 16-4 13-11 9-16 6-21 4-2 12 4 12 11 16 28 12 28 32 100 12 86 0 55-4 28-12 51-12 32-8 12-4 3-4 0-20-13-16-3-12 5-10 12-17 52 0 12 6 24-1 8-13 36-13 51-11 21-13 20-44 50-16 13-16 8-52 15-20 8-48 30-24 12-28 8-56 0-28 5-22 11-38 30-16 7zM3370 666l37-24 2-4-2-8-7-3-4 1-38 22-3 4 1 9 8 4zM4168 716l-34-2-7-4-7-10-5-18-1-20 3-20 7-12 4-1 4 3 12 12 23 34 6 28-2 8zM3796 1042l9-4 6-12-1-8-9-28 5-44 5-20 5-4 16-5 7-7 3-8 6-40 5-16 7-9 28-23 10-16 5-16 2-20-4-16-9-10-16-8-12 0-16 4-32 22-8 3-52-2-12 2-16 6-28 16-13 11-8 12-19 40 0 12 5 32 4 8 7 5 8 1 8-2 9-8 7-11 8-4 60 4 12 7 4 8 0 6-20 10-6 8-3 8 2 72 14 36 9 7zM3340 850l8-3 30-21 4-8-1-8-4-8-5-5-8-2-12 2-30 29-1 8 3 9 8 6zM4208 902l2-4 0-8-6-5-8 1-6 8 3 8 7 3zM3953 986l7-4 7-8 2-8 2-16 29-10 28-18 3-12-3-8-4-4-12-3-36 9-10 6-10 13-4 1-12-7-8-3-12 2-8 6-3 8 0 8 17 40 6 5 8 4zM3706 1010l9-8 24-68 0-8-3-7-12-9-8 0-8 3-9 13-11 72 3 8 5 3zM4064 942l0-7-4-3-8 2-1 8 5 4 4-1zM4128 942l0-8-4-2-5 2-2 4 3 5 4 1zM3500 1026l9-8 1-12-6-8-4-3-12 1-9 10 1 12 8 7zM3365 1042l5-4 3-8-5-8-8-2-9 6-1 8 6 7zM3596 1054l4-4 3-8-3-12-12-7-12 5-7 10 1 8 2 4 12 7zM3546 1062l7-8-1-12-4-6-8-4-12 2-5 4-3 8 3 12 9 6 8 0zM3980 1098l5-8-1-48-5-8-11-2-8 6-2 8 6 44 6 8zM3488 1094l4-5 2-7-4-12-14-11-8-14-8-7-8-1-11 5-6 12 0 8 1 4 20 10 8 14 8 6 8 1zM3420 1094l9-8 2-16-3-4-8-3-12 1-10 10 0 12 10 9zM3709 1134l5-4 3-8-8-44-9-9-12-5-8-1-8 2-5 5-4 8 3 12 18 16 9 24 7 4zM3611 1154l6-12 12-44-4-12-9-5-8 1-7 8-14 52 2 8 7 6 8 1zM3386 1246l11-8 2-8-1-8-27-32-5-12 12-40-1-16-7-12-10-7-12-2-12 3-11 6-12 16-21 55 1 17 4 8 11 7 32 6 12 6 24 20zM4091 1182l6-8 6-36-3-10-8-5-8 2-6 5-9 40 3 8 4 4 8 2zM4037 1206l5-8-2-12-8-6-8-1-5 3-4 4-3 8 4 10 4 3 8 2zM3729 1310l11-5 7-11 0-12-7-12-40-32-16-3-8 2-8 5-6 8-2 8 2 12 6 8 44 29 8 3zM3439 1282l2-4-1-6-4-3-6 1-3 4 1 5 4 4zM4115 1274l0-4-3-3-4-1-4 4 4 7 4 0zM3452 1418l6-4 5-8 1-8-2-8-10-10-8-2-8 2-10 10-2 8 1 8 6 8 5 3 8 2zM3868 1494l12-7 8-13 3-12-3-16-7-12-11-8-14-4-12 2-12 9-6 9-3 12 2 16 7 12 12 9 12 4z"/><path fill="#00b296" fill-rule="evenodd" transform="scale(0.5)" d="M3684 1590l-24 1-24-2-24-6-20-9-32-31-44-61-12-10-12-3-16 3-13 10-15 19-8 4-16 0-56-12-32-12-28-19-28-25-28-31-56-83-29-57-12-32-8-28-3-24 2-16 5-8 10-8 31-12 44-7 64-4 4 3-1 8-14 48 1 12 5 8 9 7 8 4 20 1 12 4 28 22 12 4 12-6 4-8 1-8-5-13-20-22-5-9 0-12 9-32 0-12-7-16-13-9-16-2-25 7-3-4-10-28-14-15-12-4-44-6-18-7-4-8 11-28-4-16-8-8-9-4-12-1-28 7-12-6-12-16-6-16-3-20 0-16 6-24 15-24 13-12 43-29 15-15 8-12 16-36 23-36 7-16 2-24-7-44 2-16 13-20 21-17 16-8 20-7 60-12 52-14 16-2 16 5 16 16 16 36 10 43 12 68 6 8 8 6 16 2 12-5 10-11 10-47 9-17 11-7 54-17 13-8 7-8 18-32 18-56 14-20 20-13 12-3 16-1 16 5 8 11 8 35 5 42 7 16 12 15 24 20 8 1 8-8 19-40 10-32 11-10 20-1 32 9 24 9 4 5 0 4-9 24 0 36-3 29-4 15-8 11-12 5-48 11-8 4-10 9-10 20-24-6-12 0-20 7-36 23-12 2-40-2-20 5-44 26-10 9-7 12-14 32-3 12 5 40 8 12 9 3 12-1 9-6 11-13 8-1 48 8 12 6 0 4-15 16-4 16 4 72 15 34 8 6 8 1 8-3 6-6 2-12-8-24-1-12 8-52 5-8 16-6 10-10 12-52 8-12 26-24 8-12 11-28 5-31 4-2 24 1 80-13 24-9 4 2 20 20 24 12 28 21 12 6 16 0 12-5 11-10 17-25 4-2 12 4 12 12 12 20 12 28 32 96 11 87 0 52-7 43-8 27-22 38-6 6-4 0-24-5-12 1-12 6-6 8-20 52-2 37-16 27-7 40-9 28-23 40-22 28-19 20-28 18-64 22-68 32-32 9-68 12-24 7-20 11-40 27-16 6zM3372 666l36-23 3-9-3-6-4-3-8 1-41 24-3 8 4 8 8 3zM4152 710l-12 1-8-3-8-7-4-10-4-17 1-16 4-12 7-8 4-1 8 5 12 15 6 13 4 28-3 8zM3346 850l30-19 7-9 1-8-2-8-10-10-12-3-8 2-31 31-1 12 5 8 11 5zM4204 906l6-4 3-8-4-8-9-3-8 5-3 10 7 8zM3958 986l12-12 8-20 22-10 28-19 4-7 1-8-7-12-10-4-16 2-28 8-20 16-16-7-8-1-8 2-10 8-3 8 0 8 17 40 8 7 8 4 8 0zM3709 1010l7-8 24-68 1-8-3-8-6-7-8-3-8 0-8 3-9 11-12 72 0 8 5 6 8 4zM4062 946l3-4 0-8-5-4-8 2-4 6 1 4 7 5zM4130 942l-1-8-5-3-4 1-4 6 4 7 4 1zM3504 1026l5-4 3-8-2-12-10-8-12 1-5 3-5 8 1 12 9 9 8 1zM3368 1042l5-8-1-8-8-7-8 2-7 9 2 8 9 6zM3590 1058l6-2 6-6 2-12-7-12-5-3-8 0-12 7-5 12 3 8 4 4 10 4zM3982 1098l5-8-2-48-5-9-12-3-6 4-5 8 6 48 5 8 4 2zM3537 1066l7-2 8-6 4-12-8-11-12-4-12 4-5 7-1 8 7 12zM3481 1098l7-3 5-5 2-8-1-8-6-8-11-8-10-16-7-5-12 0-8 5-9 20-23 1-8 6-3 5 0 12 3 5 8 5 8 1 8-4 6-7 6-16 4 0 15 8 13 17zM3711 1134l5-4 2-8-8-44-6-7-12-7-12-2-8 2-9 10-1 8 3 8 19 18 8 22 8 6zM3606 1158l6-3 3-5 15-52-4-12-10-6-10 2-7 8-13 52 1 8 5 5 8 3zM4094 1182l5-8 5-40-5-8-11-4-11 8-10 40 3 8 6 6 8 2zM4033 1210l9-8 2-12-8-10-12-2-11 8-2 12 9 11zM3735 1310l10-8 5-12-2-12-5-8-34-28-9-5-20-2-14 7-5 8-2 12 2 8 7 9 48 32 8 1zM4121 1290l10-4 3-4 0-8-4-8-14-10-8-1-8 3-4 6-2 6 4 12 10 7zM3441 1282l2-8-3-5-8-2-5 3-2 8 3 5 8 2zM3455 1418l10-12 1-8-2-8-4-7-8-5-8-1-8 2-8 6-5 9 0 8 3 8 6 7 8 4 8 0zM3869 1502l11-6 10-14 4-16-2-16-5-12-11-11-12-6-16 0-12 5-11 12-5 16 2 16 6 12 12 13 16 7z"/><path fill="#00b682" fill-rule="evenodd" transform="scale(0.5)" d="M3680 1582l-20 1-24-2-24-6-20-8-16-12-16-16-44-61-12-9-12-3-16 3-12 7-16 14-12 5-68-9-28-9-24-11-28-23-28-29-20-28-39-68-30-60-10-28-6-24-1-24 3-16 5-8 11-8 31-11 44-6 44 1 4 4 1 8-11 40 2 12 5 8 15 11 32 6 12 6 20 17 8 3 8 0 10-7 5-8 1-8-5-16-19-23-4-9 7-40-1-12-6-16-12-9-12-4-24 2-7-1-14-28-15-14-12-5-36-6-17-7-2-8 3-28-6-16-9-8-9-4-32 0-12-5-10-11-6-16-4-16 1-16 4-20 11-20 15-16 33-25 20-19 10-16 18-37 28-43 6-24-5-48 1-16 9-16 20-16 21-11 20-6 84-17 28-2 20 5 16 12 16 27 12 40 9 60 4 12 7 8 8 4 16 3 12-4 11-11 13-42 8-12 12-7 56-19 12-7 11-9 13-16 13-20 19-49 8-15 13-12 10-4 9-1 13 5 9 12 6 19 4 41 5 16 19 44 27 44 2 12-7 8-62 39-12 3-36 1-16 2-20 9-28 17-12 10-12 15-14 36-2 12 6 40 3 8 7 6 8 3 12-1 9-4 11-11 8-1 36 9 8 6-6 25 5 72 3 12 14 28 8 5 8 1 8-3 7-7 3-12-9-32 7-52 5-8 19-9 9-11 11-42 8-13 32-37 11-24 12-36 5-3 48-8 68-9 8 1 20 14 26 13 30 21 12 4 12-1 12-4 10-8 14-17 8-5 12 5 12 12 18 33 15 48 15 32 8 26 10 86-1 52-9 47-16 29-12 17-8 7-36 3-16 11-7 10-25 68-4 6-8 4-32-5-9 3-8 8-3 12 2 12 6 8 24 20 1 16-8 24-14 28-22 32-22 24-15 12-20 10-52 18-44 18-16 3-7-1-2-4-2-36-5-12-8-12-8-6-12-5-12-1-12 3-16 13-7 20 1 12 3 12 16 28-3 8-10 5-52 19-60 35zM3948 682l-37 0-5-8-1-20 2-48 17-45 9-11 19-4 20 3 20 6 8 4 4 7-4 20 0 48-8 31-4 5-8 5zM3369 670l42-28 1-8-4-9-4-2-8 1-43 26-2 8 3 8 6 4zM4144 703l-12-1-5-4-5-12-2-21 4-13 4-4 4-1 8 4 8 10 3 9 2 12-1 11zM3349 850l27-17 9-11 1-8-5-12-13-10-12 0-8 4-28 30-1 12 5 9 12 6zM4208 906l6-8-1-8-5-7-12 0-7 7 0 12 7 6 8 0zM3955 990l13-8 16-22 45-34 5-8 1-8-3-8-4-5-12-5-20 3-28 9-16 12-16-5-12 0-8 3-8 8-3 8 0 8 16 40 7 7 8 5 8 1zM3711 1010l6-8 26-72-1-8-3-8-7-7-8-3-16 4-9 10-13 76 0 8 6 8 8 3zM4064 946l3-8-3-7-8-3-8 6-1 8 3 4 6 2zM4126 946l5-4-1-8-6-4-4 1-4 4 0 7 4 4zM3507 1026l4-4 2-8 0-8-5-8-12-6-12 4-7 10-1 8 4 8 12 7 8 0zM3369 1042l5-8-2-11-8-5-12 4-4 8 4 11 8 4zM3595 1058l5-4 5-8-1-12-8-11-8-2-8 1-6 4-7 8-3 12 8 8 8 4 8 2zM3544 1066l6-4 6-8 3-8-1-4-14-11-8-2-8 2-9 7-2 8 1 8 10 11 8 2zM3984 1098l4-8-2-48-6-11-12-3-8 6-4 8 6 48 4 8 6 3 8 0zM3485 1098l9-8 3-8-2-8-5-8-14-12-8-13-8-5-8-1-8 2-6 5-10 19-16 0-8 3-6 6-3 8 2 12 11 8 8 0 8-3 7-9 5-11 4-2 12 4 16 19 8 3zM3713 1134l4-4 2-8-8-44-7-8-12-7-12-2-8 2-10 11-1 8 2 8 20 20 5 16 5 8 11 3zM3609 1158l8-8 14-52-3-12-4-4-8-4-12 4-6 8-13 52 1 8 6 6 8 4zM4091 1186l5-4 4-8 6-36-2-8-4-6-12-3-8 3-5 6-10 40 3 8 8 8 8 2zM4036 1210l5-4 5-8-2-12-4-5-8-4-12 1-5 4-5 8 2 12 4 5 8 5zM3728 1314l12-4 10-12 2-16-6-12-34-28-12-7-16-2-16 6-7 7-3 12 0 8 7 12 47 33zM3439 1286l6-8-2-8-7-5-8 1-5 8 2 8 7 5zM3451 1422l9-5 5-7 2-16-3-8-8-8-8-3-8 1-8 4-6 6-4 8 0 12 6 9 8 6 8 2z"/><path fill="#00b96e" fill-rule="evenodd" transform="scale(0.5)" d="M3968 670l-20-2-13-6-11-16-6-24 0-24 8-24 10-12 16-6 16 1 20 5 8 6 2 6 1 44-5 28-4 12-6 7zM3676 1574l-20 1-24-2-28-7-16-7-16-12-12-12-44-60-16-10-20-1-12 5-24 14-24 2-36-3-28-5-24-8-24-12-28-24-23-27-57-105-28-63-6-24-3-20 2-20 6-12 9-8 17-8 23-5 32-3 24 0 12 4 2 12-6 24 0 12 6 16 10 10 12 5 30 5 30 22 8 2 8 0 9-4 7-8 3-8 0-12-3-15-16-22-4-9 2-42-4-12-4-8-9-8-9-5-35-3-17-28-12-11-12-6-32-7-12-5-6-7-2-32-8-16-16-10-32-6-10-4-11-16-6-24 3-24 11-24 14-16 35-30 16-18 10-16 18-36 31-44 6-24-3-52 2-12 3-8 21-16 32-15 40-10 56-7 24 2 20 8 16 15 14 27 7 24 9 56 4 12 14 13 16 5 16-4 12-10 7-12 9-24 8-10 12-7 48-16 20-9 18-14 54-50 8-5 8 1 45 82 8 24 0 16-3 8-9 12-14 12-11 7-12 3-48 6-16 6-16 9-28 20-11 13-7 12-9 28-3 16 7 44 6 8 9 6 12 1 12-1 3 2-7 16-11 76 3 9 8 6 12 0 9-7 15-41 14-31 1-12-4-16 5-1 4 2 2 7 0 12 6 32 2 44 11 28 7 9 8 5 12 0 8-4 4-6 3-8 0-8-8-28 5-40 4-13 4-4 19-11 7-8 14-40 39-52 25-58 8-5 28-7 44-5 40 0 45 19 35 23 16 3 20-5 28-22 12 1 12 12 13 20 8 20 13 44 14 21 8 19 4 16 10 96-2 42-8 34-16 27-20 22-12 6-28 6-12 9-7 10-17 40-16 23-12 4-28 1-8 4-8 9-5 11 0 16 5 13 16 23 0 16-7 20-12 24-30 44-19 18-20 12-80 28-16 4-8-2-4-4-12-32-16-19-20-8-20 3-16 12-8 16-2 20 8 32-2 8-4 4-52 24-52 30-16 6zM3372 670l40-27 2-9-6-11-12-2-44 28-3 9 3 8 8 6zM4136 690l-4-1-4-5-4-10 3-12 5-4 8 6 3 10-2 12zM3343 854l33-18 10-10 3-8-3-12-6-8-8-6-12-2-12 5-24 23-6 8-1 12 4 8 11 7zM4202 910l10-5 4-11-4-10-12-4-10 6-4 12 6 9zM3952 994l8-2 12-7 60-58 4-9 0-8-2-8-6-7-12-5-16 2-28 8-20 12-24-3-12 3-7 6-5 8-1 12 16 40 13 12 8 3zM3716 898l-5 0 5-2 2 2zM4065 946l3-8-4-9-4-2-8 1-7 6 0 8 7 6 8 1zM4128 946l4-4-1-8-3-4-8 0-5 4-1 8 6 5zM3502 1030l6-2 5-6 2-12-2-8-9-9-8-3-8 2-11 10-2 8 1 8 8 10 8 3zM3371 1042l4-8-1-8-2-4-12-5-9 5-4 12 4 8 9 4zM3547 1066l17-16 16 10 8 1 8-2 6-5 4-8 1-8-3-8-8-8-8-2-12 3-16 16-20-11-16 3-4 3-4 8 2 16 6 6 8 4 8 0zM3980 1102l6-4 3-8-1-48-3-8-5-6-12-2-8 5-5 11 6 48 7 10 8 3zM3488 1098l5-4 4-8 0-12-5-8-15-12-9-15-8-5-8 0-8 2-7 6-9 16-24 5-8 7-3 8 3 12 4 5 8 4 8 0 8-3 6-6 7-12 7-3 8 4 16 19 8 2zM3708 1138l8-5 4-11-6-40-6-9-12-9-12-4-12 2-6 4-5 8-1 8 2 8 19 20 5 16 5 8 9 4zM3612 1158l7-8 13-52-1-8-3-7-12-6-12 3-6 6-15 56 2 8 7 8 12 3zM4086 1190l10-5 5-7 6-40-4-12-11-7-11 3-8 8-9 36 0 8 4 8 8 6zM4039 1210l8-12 0-8-4-8-11-7-8 0-8 4-5 7-2 8 4 12 11 7 8 0zM3737 1314l11-8 6-12 0-16-8-12-34-27-12-6-20-1-16 8-6 10-2 12 4 12 7 8 45 31 12 3zM3442 1286l5-8-3-10-8-5-11 3-4 8 3 9 8 5zM3457 1422l7-6 5-10-1-16-5-8-7-6-8-2-12 2-8 5-6 9-2 12 2 8 6 8 8 5 12 2z"/><path fill="#00bd55" fill-rule="evenodd" transform="scale(0.5)" d="M3980 656l-16 1-16-7-9-8-8-16-4-20 2-16 10-16 13-8 12-1 16 2 8 4 4 7 4 24 0 22-7 22zM3676 1566l-24 1-24-2-28-7-16-7-12-9-16-16-38-52-6-6-12-6-20-2-44 16-48 0-24-3-24-7-20-8-20-11-24-21-17-24-59-119-21-49-5-20-1-20 2-16 6-12 8-8 16-8 19-4 24-2 24 1 9 5 2 8-3 24 2 12 8 16 14 10 36 7 32 22 8 3 12-1 8-4 5-5 6-12 2-12-1-16-5-12-16-24-2-12-1-28-5-12-5-8-18-11-32-6-17-23-11-12-12-7-31-9-9-5-6-7-6-28-8-16-16-13-28-8-12-7-9-12-5-20 2-24 9-20 12-16 47-46 9-14 23-44 35-44 6-24-1-48 4-16 7-8 13-10 36-16 36-8 44-4 24 3 24 11 16 15 12 21 8 27 11 57 13 14 16 6 16-2 12-6 11-12 13-23 12-11 72-26 56-36 12-2 12 3 12 8 10 11 13 24 5 20-1 16-9 16-9 8-9 4-48 8-28 13-24 17-16 15-14 19-6 16-5 32 9 44 4 8 8 5 24 7-13 88 5 11 8 5 12 0 10-8 22-55 8-12 4-1 5 16 3 48 14 32 6 7 8 4 12 1 8-5 6-7 2-8 0-8-7-28 3-23 6-25 6-6 17-10 10-12 12-32 37-52 28-60 12-8 24-6 44-3 44 4 36 12 32 19 16 6 20-3 28-18 12-1 12 9 12 17 8 20 12 48 8 12 16 19 4 10 12 83 1 24-1 34-8 35-16 25-20 21-13 9-27 10-12 9-10 13-14 32-12 14-16 8-32 1-12 10-10 19-2 16 2 16 11 28-1 16-18 44-27 40-17 16-22 13-64 21-16 3-8-2-4-3-18-28-18-16-20-6-20 4-13 10-10 16-3 20 2 28-5 12-95 53-16 6zM3366 674l6-2 40-26 4-12-4-10-8-5-8 0-45 27-4 8 2 12 7 6zM3349 854l31-17 10-11 2-8-3-12-9-12-8-4-12-2-12 5-26 25-5 8-1 12 8 13 12 5zM4208 910l8-8 2-12-6-8-4-3-12 0-11 11 0 12 6 8 5 2zM3956 998l16-4 16-11 16-16 29-37 4-8 1-12-4-12-6-6-12-4-24 3-24 7-16 10-20-2-12 2-14 10-5 12 0 12 17 40 7 8 11 6zM4061 950l8-8-1-10-8-6-12 2-5 6-1 4 4 8 6 4zM4130 946l4-8-2-6-8-4-8 3-3 7 3 7 8 3zM3509 1030l5-4 3-12-5-16-12-8-8-1-8 3-6 6-4 8 0 12 4 8 14 6zM3367 1046l8-8 0-12-7-8-12-1-9 9 0 12 9 8zM3540 1070l10-4 14-12 20 8 8 0 8-3 8-13 0-8-3-8-7-8-10-3-12 2-16 13-20-8-12 1-8 3-4 4-2 8 2 16 12 10zM3983 1102l5-4 2-8-1-48-5-13-8-5-8 0-10 6-5 12 6 48 4 8 5 4 8 2zM3490 1098l8-12 1-8-2-8-18-16-10-16-9-5-8-1-8 3-9 7-7 13-25 7-8 8-3 8 0 8 4 7 12 8 8 0 8-3 8-8 8-12 4-1 8 4 9 13 7 5 12 3zM3711 1138l8-8 2-8-8-44-9-10-12-7-12-2-8 2-8 5-5 8-1 8 2 8 20 20 9 24 11 6zM3607 1162l8-4 6-8 13-52-1-8-5-8-12-6-12 2-7 8-15 56 4 12 6 5 8 3zM4094 1190l9-12 5-44-7-12-5-3-8-1-10 4-7 8-9 32-1 12 6 12 9 6 12 1zM4035 1214l8-4 6-8 1-8-2-8-4-7-8-5-8-1-8 2-11 11-2 8 2 8 11 11 8 2zM3732 1318l16-8 8-12 2-16-7-16-39-30-12-5-20-1-8 2-8 6-7 8-2 12 2 12 7 11 48 35 12 3zM3438 1290l6-3 3-5 0-12-7-8-12-1-8 9 1 12 7 6zM3454 1426l10-7 6-9 1-8-1-12-10-14-8-3-12 0-11 5-7 8-3 8 1 12 4 9 8 8 12 4z"/><path fill="#00c046" fill-rule="evenodd" transform="scale(0.5)" d="M3980 643l-12 1-12-5-10-9-6-12-3-12 3-15 6-9 10-6 8-2 12 1 8 4 5 7 3 16 0 20-4 13zM3676 1558l-24 2-24-2-24-5-20-8-24-20-40-54-12-9-12-5-20-1-48 12-44 1-44-8-20-8-20-11-20-18-18-26-58-125-16-39-4-16-1-16 2-16 7-15 8-8 8-5 13-4 19-2 20 1 12 5 3 8 1 20 4 12 6 12 9 8 17 8 28 4 32 21 12 3 16-4 10-8 9-16 2-16-3-16-22-40-6-32-8-16-18-13-33-7-19-25-12-11-44-22-8-10-8-24-8-14-16-13-28-12-9-5-10-16-3-16 2-20 12-24 51-56 34-60 37-44 7-20 3-48 6-16 18-16 35-16 33-7 36-1 24 4 24 13 16 15 10 20 6 16 8 48 5 12 15 14 16 5 16-1 12-6 10-8 18-23 12-9 20-7 56-16 48-27 8-2 8 1 8 5 8 9 7 13 4 16-2 16-5 10-10 6-46 12-28 17-24 20-14 15-14 20-6 16-2 32 10 44 10 13 20 7 4 4-1 28-9 56 5 12 9 6 12 0 9-6 19-45 12-18 4 2 3 13 4 40 13 32 7 8 9 5 12 0 9-5 6-8 3-8-6-37 4-22 8-21 20-15 10-13 14-27 28-43 36-71 12-10 20-6 44-1 68 9 16 5 32 18 12 3 20-2 28-15 12 2 12 10 11 20 16 64 25 25 8 14 2 33 10 56 0 36-4 26-4 11-12 21-12 14-20 17-40 22-12 14-20 36-12 10-12 3-22-2-13-4-6-4 9-11 5-13 5-40-3-12-7-7-12-3-12 5-8 9-10 36 0 12 7 12 17 12 2 4-7 16-7 40 0 16 5 40-5 20-14 32-14 24-15 20-15 14-16 9-68 18-12-3-24-26-16-12-20-5-20 3-15 10-8 12-6 20-3 31-8 12-80 47-20 9zM3372 674l42-28 4-12-2-8-4-6-8-4-8 0-44 25-5 5-3 12 5 12 11 6zM3353 854l35-18 5-6 3-8 0-8-5-12-8-8-11-7-12-1-12 5-28 27-5 8-1 8 2 8 8 10 8 5 8 1zM4206 914l10-8 4-8 1-8-5-9-8-4-8-1-12 7-4 7-2 8 2 8 8 8 8 2zM3980 1002l20-19 28-40 8-7 7 10 9 5 12-1 6-8 0-8-6-8-8-2-13 2-2-4-2-20-6-8-9-7-12-1-20 2-24 7-20 9-28 1-12 7-7 10-3 12 0 8 11 32 10 16 13 9 16 5 20 2zM4131 946l4-8-3-8-8-3-8 3-4 8 3 8 9 3zM3546 1070l18-12 20 6 8 0 8-3 6-7 3-8 0-12-5-8-8-7-8-2-12 2-16 12-20-6-16 0-5-3-3-20-8-11-8-3-8 0-12 5-6 9-2 8 4 16 12 7 20 1 4 4 2 20 10 10 12 4zM3370 1046l4-4 4-8-4-12-10-7-12 3-8 12 4 12 12 6zM3986 1102l3-4 3-8-2-52-3-8-7-8-12-3-8 5-8 14 6 52 3 8 7 6 8 1zM3484 1102l8-4 6-8 3-8-1-8-4-9-16-14-8-14-8-5-12-1-9 3-7 6-10 14-18 4-8 4-7 8-3 8 0 8 3 8 7 6 8 3 16-3 7-6 9-13 4-1 8 4 8 11 8 6 8 2zM3714 1138l7-8 2-8-9-44-10-11-12-7-12-2-12 3-9 9-2 8 0 8 3 8 17 16 7 20 7 8 13 3zM3613 1162l5-4 5-8 12-52 0-8-5-8-10-7-8-1-8 2-9 10-14 56 3 12 8 7 12 3zM4041 1214l9-8 4-8 0-8-3-8-7-7-8-3-12 0-8 3-7 7-3 8 0 8 3 8 7 7 8 3 8 1zM3742 1318l11-8 9-16 1-16-9-16-38-27-16-7-12-1-12 1-16 10-6 12-1 12 4 12 7 9 48 36 16 2zM3443 1290l4-4 3-8-3-12-11-8-12 2-6 10 2 13 4 5 8 4zM3452 1430l8-3 9-9 4-12 0-12-5-12-8-8-8-3-12 0-12 6-7 9-3 8 0 12 5 12 9 8 12 4z"/><path fill="#00c137" fill-rule="evenodd" transform="scale(0.5)" d="M3976 630l-8 0-8-4-10-12-1-16 4-8 7-5 8-1 8 1 6 5 4 8 2 8-1 12-3 7zM3680 1550l-24 3-24-1-28-5-20-8-24-20-40-53-12-9-12-6-24-2-52 12-40 2-24-3-20-6-36-17-18-15-15-24-69-164-4-16 0-12 2-12 5-12 15-14 12-4 12-1 16 2 8 5 16 36 15 16 17 7 30 5 34 21 16 1 17-6 10-8 6-12 3-20-4-20-7-16-16-28-14-40-9-8-10-6-33-10-31-34-40-25-8-10-19-35-17-15-33-17-9-12-4-16 2-20 12-24 46-52 36-64 34-36 9-12 6-20 6-40 7-15 19-17 25-12 36-6 24-1 24 5 24 13 16 14 11 19 13 56 5 12 15 16 16 7 16 0 12-4 12-8 24-23 20-9 32-6 74-5 0 4-26 22-56 59-19 27-7 20 1 24 14 52 11 11 20 9 2 4-2 32-7 48 4 12 11 7 12 0 11-7 17-39 8-13 4-2 4 10 6 40 15 32 7 6 12 5 12-2 7-5 6-8 2-8-3-36 8-23 24-24 9-13 15-27 20-31 28-63 12-21 15-14 21-7 32 0 84 10 12 4 28 13 12 3 16-1 28-12 12 1 12 9 11 20 5 20 1 32-1 6-24 3-10 7-5 8-1 8 4 14 8 8 8 0 8-3 9-7 11-18 4-2 12 5 12 8 9 15 2 28 11 52 0 40-2 19-5 13-11 19-12 15-16 13-28 15-16 12-15 18-13 24-8 9-8 5-20 1-15-7-2-8 4-52-5-12-6-5-8-2-12 1-12 10-10 20-6 20-4 4-16-2-8 1-8 4-9 9-3 8 0 8 6 12 10 7 8 2 8 0 20-6 4 7 2 22 0 60-4 20-25 60-21 31-12 10-12 6-60 15-12-3-28-23-16-9-20-4-20 4-13 9-10 12-6 16-7 32-10 12-66 44-20 10zM3365 678l11-4 40-28 3-8 0-12-3-6-8-7-8-3-8 2-20 14-24 12-7 8-2 12 5 12 12 7zM3350 858l40-16 6-4 5-8 1-12-4-12-10-12-12-8-16-2-12 5-28 27-6 10 0 16 9 12 13 5zM3982 1106l9-8 2-8-1-48-8-24 1-4 47-65 4-3 16 7 8 0 8-5 3-6 0-8-3-7-8-5-12-2-3-2-3-16-5-8-9-8-8-3-32 2-40 13-32 5-14 11-9 20 4 28 10 24 13 13 33 19-4 24 11 56 4 5 8 4zM4125 950l8-4 2-4 0-8-7-8-8 0-8 8-1 8 5 6zM3488 1102l8-6 4-6 2-16-3-8-19-20-4-8 4-4 26 4 2 4 4 16 5 8 11 6 12 2 8-2 16-10 24 5 12-3 8-9 3-9-1-12-4-8-6-6-12-4-12 2-16 10-32-6-6-4-4-16-6-10-12-6-12 1-8 4-8 11-2 12 4 16-2 2-16-3-12 3-9 6-11 15-24 8-11 13-1 12 1 8 7 7 8 4 12 0 8-3 20-19 6 3 10 11 8 5 12 2zM3360 1050l12-4 7-12-3-12-12-8-8 1-6 3-7 12 1 8 4 6zM3476 1036l0-3 4 1zM3710 1142l10-8 4-12-9-44-7-10-16-10-12-2-12 4-8 6-4 8-2 8 4 12 18 17 6 19 6 8 12 5zM3608 1166l10-4 6-8 14-56-1-8-5-9-8-6-12-3-12 4-8 10-7 24-6 32 2 8 7 10 8 5zM3744 1322l14-8 12-16 8-24-4-12-14-10-48-24-12-3-24 0-16 9-8 12-2 12 4 16 9 12 45 34 16 5zM3436 1294l8-2 6-6 2-8-1-8-3-7-8-6-8-3-8 1-4 3-4 8 0 12 8 12zM3456 1434l8-5 9-11 4-16-2-12-7-12-8-7-8-2-12 0-12 6-9 11-3 12 1 12 7 12 12 10 12 3z"/><path fill="#00c223" fill-rule="evenodd" transform="scale(0.5)" d="M3972 609l-6-3-1-4 3-3 5 3 1 4zM3656 1546l-24-1-28-4-20-8-16-11-16-19-32-43-16-12-27-14-1-4 4-24-2-16-10-16-12-7-12-1-12 4-9 8-7 12-2 12 2 12 8 13 12 15-2 4-6 4-28 6-36-1-36-9-32-17-12-12-13-23-25-68-38-96-2-12 1-12 8-16 13-9 20-1 12 6 20 28 16 12 16 6 28 5 36 20 12 2 20-1 3 4 4 20 6 8 7 4 8 2 12-4 5-6 2-12-7-15-17-13 4-32-5-28-8-20-18-33-7-19 3-5 16-1 8-3 20-19 4 1 15 15 9 3 12 0 12-6 6-9 3-16-3-8-19-20 0-4 5-2 16 2 6 20 9 8 9 4 16 1 24-10 24 6 4 3-7 12-8 32-3 24 3 12 11 11 16 4 8-1 8-5 7-9 6-28 3-32-2-8-10-11-20-6-4-3 8-16 1-12-5-13-12-9-16-2-24 11-28-7-9-20-7-9-12-5-12 1-8 4-8 9-3 8-1 20-24 4-8 6-12 15-20 6-8 5-9 12-3 17-4 2-44-17-24-27-39-31-35-48-42-28-12-16-2-20 3-12 8-16 14-20 33-36 36-65 44-43 7-12 9-25 4-2 16 6 12-1 44-27 7-7 3-8-2-24 4-4 16 0 20 6 16 8 16 12 8 10 8 15 11 45 5 12 12 15 16 10 16 4 16-3 12-6 28-22 20-8 28 0 8 3 7 7 0 8-5 12-45 64-6 20 3 16 21 56 9 11 20 11 3 6 0 24-7 52 4 12 12 8 12 1 9-5 6-8 17-35 4-4 4 1 4 12 4 26 15 32 13 10 16 1 12-6 7-9 3-12 0-28 6-9 24-10 12-2 8 1 35 28 37 22 14 74 6 7 8 3 8 1 8-4 5-7 2-8-2-72 43-64 4-1 16 2 8-2 7-7 2-8-5-13-19-11-5-16-8-11-12-7-12-2-28 2-40 13-36 7-10 6-10 15-4 3-1-10 13-24 15-48 13-32 11-16 9-9 12-7 12-3 28-2 56 9 40 3 44 14 16-1 28-9 12 3 10 10 7 12 4 16 0 20-5 16-20 10-10 14-2 16 3 12 9 7 12 1 12-5 20-15 8-1 16 7 5 10 3 28 12 41 1 43-1 14-7 18-9 17-12 15-16 13-37 19-19 21-20 32-12 8-16 1-12-6-4-16 2-32-2-8-8-12-12-5-12 1-13 8-29 36-22 11-11 13-3 16 6 12 12 9 24 6 3 5 3 16 2 24-3 24-5 19-28 69-16 25-8 7-12 6-52 12-16-4-28-19-16-7-20-2-20 4-12 7-10 11-8 16-10 31-18 21-32 24-30 18-24 9zM3340 862l32-8 20-3 8-3 6-6 4-12-2-16-9-16-11-11-20-6-16 3-9 6-27 28-5 12 3 16 10 11zM4129 950l7-8 1-8-5-7-12-2-8 6-2 11 8 8zM3368 1050l8-6 3-6 1-8-3-8-5-6-8-3-12 2-10 11-1 8 3 8 4 5 8 4zM3702 1146l14-5 6-7 3-8-7-44-7-12-15-11-12-4-12 1-10 6-7 8-3 8 1 12 7 11 13 13 10 24 9 6zM3759 1326l35-8 12-8 12-12 14-20 7-16-1-12-6-8-21-12-23-6-52 3-32-8-20-2-16 4-12 9-7 12-1 20 6 16 10 12 36 30 12 6 20 4z"/><path fill="#00c40f" fill-rule="evenodd" transform="scale(0.5)" d="M3664 1538l-28 1-28-4-20-6-16-11-16-17-32-44-32-35-12-40-8-11-12-7-12-1-12 3-12 8-7 8-4 12-1 12 10 32-2 4-7 4-25 4-28-1-32-9-28-13-14-13-12-24-49-152-2-16 2-12 11-9 16 0 8 3 21 18 15 9 44 11 36 18 28 6 10 20 14 11 12 1 8-2 8-10 1-16-15-24-1-40-7-32-8-20-17-28-2-8 3-4 18-9 16-15 4 1 16 14 16 3 12-4 7-6 5-8 5-16 3-4 16 7 12 2 28-9 12 4 6 4-10 60 3 16 9 11 22 13 2 4 2 32 6 9 16 15 10 32 7 12 35 35 16 12 44 13 40 17 16 0 8-5 8-9 56-79 8-16 1-16-9-8-80-17-68-6-16-6-11-7-12-20-5-16 24-5 8-5 8-10 3-12-9-44-9-12-13-9-16-4-16 5-9 8-7 19-4 3-12-13-19-9-2-4 4-16-1-12-6-12-8-6-8-4-12 0-24 9-20-5-8-6-6-12-10-12-8-4-12-1-12 5-8 8-4 8-4 21-20 5-9 6-14 16-23 8-9 8-9 18-8 1-24-10-9-5-53-52-36-48-14-12-28-18-10-10-6-12-1-8 2-12 6-16 12-20 33-36 36-66 12-13 25-17 13-12 18-30 28-8 40-27 6-7 10-23 12 0 16 5 16 8 12 10 12 19 11 41 7 16 14 15 16 11 20 6 16-2 36-25 16-6 17 1 11 8 1 12-5 12-12 19-28 33-4 8 0 8 6 16 18 29 14 31 10 10 16 10 4 4 1 24-7 52 4 12 10 8 8 3 8-1 12-6 6-8 10-21 8-7 4 5 6 27 15 28 11 10 16 4 12-4 11-10 5-12 4-20 4-6 16-5 20 1 69 34 5 8 6 17 6 39 4 8 14 8 8 1 8-3 6-6 3-8-2-40 1-24 4-11 36-57 8-5 20-3 9-8 2-8-4-12-15-15-10-21-7-8-11-7-16-3-16 0-60 14-12-1-8-6-3-13 2-20 7-20 10-18 8-10 12-10 12-5 16-3 24 2 52 10 44 1 32 8 20 0 24-6 8 1 8 4 8 9 4 9 3 12-2 16-6 16-18 16-8 12-5 16 2 12 10 10 16 4 13-2 27-13 12 1 6 8 5 24 15 44 2 20 0 23-7 21-9 19-12 15-12 10-16 10-24 9-7 5-33 49-8 7-16 2-12-7-5-11 0-36-7-12-12-7-12 0-11 3-37 20-9 8-8 16-17 24-2 16 2 8 6 8 24 16 3 4 4 20 0 20-7 23-22 37-14 46-12 18-22 12-38 8-16-3-28-15-20-7-24-3-20 2-8 5-11 13-17 49-10 15-11 12-24 20-27 17-20 9zM3400 862l8-4 7-8 3-12 0-12-4-16-6-13-8-9-12-8-20-4-16 4-12 9-24 25-5 8-2 12 3 12 8 11 8 5 16 3 24-3 20 2zM4131 950l7-8-2-12-8-7-12 2-7 9 2 12 9 6zM3372 1050l9-12 0-8-3-8-6-7-8-3-8 0-8 4-5 6-3 8 0 8 3 8 13 8 8-1zM3500 1054l-7-4-1-4 8 1zM3668 1126l-4 1-4-2-10-7-3-8 1-9 19 17z"/><path fill="#0fcb00" fill-rule="evenodd" transform="scale(0.5)" d="M3932 1398l-20 2-21-6-27-16-7-8-2-8 2-20 10-24 11-16 25-28 7-12 4-20-7-20-7-8-12-6-56-5-64-9-24-7-18-9-12-12-3-8 16-24 1-16-8-40-5-8-11-10-16-8-16 1-12 5-16 18-4-1-22-13-2-28-6-12-6-7-8-4-12-2-24 6-13-1-11-5-20-25-8-4-12-2-12 2-12 10-5 8-5 20-2 3-20 7-20 20-26 10-18 20-8-1-15-7-17-16 4-4 8 6 12 1 8-2 8-5 5-8 2-8-1-8-6-9-8-5-8-2-8 2-8 6-7 12-1 12 4 8-4 4-37-36-27-41-12-15-42-28-12-12-3-8-1-12 10-28 7-12 30-32 35-68 16-14 42-22 11-12 11-20 56-40 16-18 8 0 12 3 13 7 11 8 10 16 9 36 8 16 21 23 28 18 16 6 12-1 8-5 19-21 9-6 16-4 10 6 3 12-5 12-16 16-31 16-5 8-2 12 6 12 40 47 17 29 28 24 2 24-6 48 1 8 6 8 12 8 16-1 11-7 17-23 4 1 8 22 17 28 11 8 16 3 12-3 10-8 18-31 8-3 12-1 20 4 40 17 20 12 10 22 8 36 6 8 12 7 16 0 10-11 1-8-2-32 3-26 3-10 11-20 30-44 20-6 7-6 5-8 0-8-2-8-11-16-9-24-10-12-12-7-12-3-16 0-60 12-8 0-8-5-6-9-1-16 5-16 10-18 12-13 12-7 12-3 16-1 17 2 39 11 16 2 44-2 36 4 36-4 11 5 8 8 4 16-3 16-6 12-26 32-4 12 0 12 4 8 7 8 17 7 16 0 32-8 8 2 4 4 20 48 6 23 0 24-8 28-14 24-16 15-16 9-28 11-7 5-10 12-19 32-12 9-12 0-8-6-4-11-1-20-3-12-8-11-12-6-20 0-52 15-12 6-7 12-3 20-6 24 0 12 6 16 15 16 7 11 3 17-3 16-9 16-29 28-5 12-6 32-8 16-14 12zM3405 874l14-8 7-12 2-20-6-24-10-21-12-15-16-8-16 2-24 13-31 33-6 16 2 16 11 14 16 8 52 8zM4133 950l6-8 0-12-11-8-12 1-8 11 2 12 10 7 8-1zM3668 1530l-28 2-27-2-21-7-16-10-12-12-16-20-34-51-28-56-6-9-8-5-12-1-16 1-12 5-12 10-7 11-3 12 3 36-9 7-24 3-28-3-28-8-23-11-9-8-5-8-12-32-27-108-2-20 2-12 8-7 8-1 40 13 32 7 36 17 28 8 16 20 12 9 12 2 12-2 10-10 1-16-12-28-4-44-7-35-8-21-10-20 0-8 22-22 4 0 20 13 20-1 14-10 10-18 4-2 24 5 28-1 3 4 2 8 2 56 5 10 15 22-2 36 5 12 10 11 24 19 21 30 34 36 13 9 35 19 22 16 10 12 7 16 1 20-2 20-7 20-10 16-19 20-21 16-24 13zM3493 1342l7-12 1-8-2-8-11-9-12 0-4 5-2 8 4 16 10 11z"/><path fill="#26d000" fill-rule="evenodd" transform="scale(0.5)" d="M3960 1291l-8 0-5-5-5-36-7-20-12-16-15-12-24-8-60-3-44-6-24-8-20-12-7-7-3-8 5-28-8-40-6-12-9-10-16-9-16-1-15 4-17 12-8-1-10-7-8-28-6-11-8-7-16-6-28 1-8-2-12-8-20-18-12-6-16-1-12 5-8 7-7 10-9 24-20 10-18 18-22 8-20 14-9-2 0-4 12-12 4-8 1-12-5-12-11-8-12-1-12 6-12 15-4 2-4-2-20-24-32-57-12-9-32-18-8-8-4-8 0-16 6-16 36-44 30-64 12-11 24-7 16 1 6 5 2 4-3 12-35 44-5 12 0 20 7 11 8 8 20 10 40 11 28 1 20-7 6-6 4-8 2-12-2-16-22-62-25-42-4-20 1-20 3-8 11-12 30-20 8-2 8 1 18 9 9 12 9 36 9 16 63 60 8 12 10 24 9 12 45 43 26 33 22 17 4 11 0 12-5 48 3 12 7 8 11 6 16 0 11-6 13-13 4-1 25 38 11 9 12 4 8 0 12-3 13-10 15-20 8-3 12-2 20 3 28 10 20 11 12 10 8 13 9 38 11 11 17 9 3 4 5 80 5 16 14 24 2 12-2 8-12 12zM3628 755l-4 3-4-3 0-5 4-3 5 3zM4144 1166l-8 0-7-4-9-36-9-12-11-7-16-2-56 6-16-2-7-3-5-44 2-16 4-16 18-32 20-29 8-6 16-7 6-6 4-8 0-12-11-44-11-19-12-10-12-4-12 0-68 15-12-2-7-4-4-8-1-8 3-16 13-18 13-10 19-6 20 0 18 6 30 13 12 2 16-1 36-7 60-1 12 4 8 7 2 11-5 16-25 34-8 14-3 12 3 12 9 12 19 11 20 2 32-4 12 6 12 19 12 27 4 19 1 16-8 28-17 27-20 16-36 15-11 6-15 16-14 25zM4124 954l8-2 7-6 3-12 0-4-6-8-12-3-8 2-6 5-5 12 7 12zM3668 1523l-20 2-20 0-20-3-16-6-15-10-13-15-30-45-16-36-7-28-1-16 7-36-2-20-10-16-30-20-7-11-8-19-14-82-10-40 0-8 8-10 4 0 20 8 16 0 16-8 16-17 4-2 19 5 13 7 13 21 8 36 11 24-2 44 6 20 11 12 37 28 44 49 56 40 17 23 6 20 1 20-5 20-9 16-13 16-21 17-20 12zM3400 1434l-24 4-32-4-32-12-16-13-8-15-8-24-14-84 0-24 7-12 10-4 13 0 28 4 20 5 52 22 24 22 23 11 4 4 7 20 0 12-8 8-18 10-13 14-6 16-1 32zM3924 1359l-12 2-8-4-7-11 0-12 3-8 8-8 12-6 12-3 5 5 1 20-6 16z"/><path fill="#46d500" fill-rule="evenodd" transform="scale(0.5)" d="M3960 1202l-8 2-8-1-32-15-16-5-92-4-28-6-20-9-13-10-7-12-2-24-8-36-5-12-7-8-14-10-16-5-16 1-20 6-12-3-5-5-13-24-10-12-12-7-32-11-39-30-17-20-12-28-8-6-8-3-10 1 9 40-3 20-14 24-10 24-16 10-18 18-30 10-3-2 2-16-2-8-8-12-9-6-16 0-20 11-4-1-14-16-12-28-6-24 0-28-3-8-5-3-24 1-16-4-10-6-4-12 4-16 19-24 10-16 26-64 7-7 12-3 12 2 5 8-1 12-23 32-5 20 1 12 4 12 11 15 12 12 20 8 36 5 36 1 43-1 0-8-6-28-26-68-7-44-1-28 3-20 6-10 4-2 8 0 8 8 9 16 13 16 41 36 19 20 33 52 49 40 56 56 4 9 1 11-4 48 5 12 6 6 8 5 12 2 12-2 20-7 5 4 21 24 10 7 12 4 12 1 12-4 12-7 20-18 20-3 16 2 24 8 17 10 15 12 8 12 9 32 14 20 4 8 4 48-5 16zM3964 858l-12 1-8-2-5-3-4-8 0-8 5-11 16-15 16-6 20-1 13 5 14 12 2 8-2 4-9 8zM4144 1148l-4 1-10-19-9-12-10-8-11-6-16-3-44 1-24-6-8-10-4-20 5-28 19-36 22-32 23-16 8-16 5-36-16-44-1-8 1-8 7-8 15-8 20-7 16-2 36 2 9 7 2 8-7 16-26 40-6 24-16 2-8 4-6 6-2 8 2 12 10 7 12 2 9-5 11-17 4-1 16 10 16 5 16 2 24-2 12 2 12 11 12 20 8 20 3 18-2 16-5 16-8 15-12 15-20 15-45 19-20 16zM3648 1518l-36-3-24-10-23-23-21-36-11-28-7-32 0-20 5-44-2-20-10-16-39-28-12-19-7-29-7-56-1-28 5-8 22-2 12-4 28-15 12 4 12 9 16 20 14 40 1 16-4 44 2 12 5 12 12 12 38 25 46 47 47 36 11 12 10 16 4 16 1 20-6 20-10 16-15 16-24 16-20 8zM3384 1430l-28-1-28-7-20-10-12-14-10-36-7-68 3-20 4-8 6-5 12-4 16 0 32 7 45 22 36 32 6 16 0 12-5 8-16 16-8 12-4 12-5 28-5 5z"/><path fill="#5fd900" fill-rule="evenodd" transform="scale(0.5)" d="M3948 1174l-8 4-48-9-56 3-24-1-28-6-24-12-16-19-15-60-9-15-12-8-16-7-36 0-12-4-32-35-48-33-24-22-10-16-19-44-39-41-28-44-4-11-1-16 3-12 6-10 8-5 12 1 16 7 14 11 22 24 20 40 9 12 55 36 60 58 6 10 2 8 0 48 5 12 11 9 12 4 28 1 20 17 36 12 20-2 12-5 24-17 20-3 28 4 16 8 11 8 12 12 8 12 12 40 4 40zM3296 810l-1-8 5-16 4-6 4-1 3 3-1 8zM3968 847l-12 2-9-3-3-8 8-11 12-8 12-3 12 1 7 5 1 7-4 5-12 8zM4116 896l-8-3-11-15-5-16 1-12 7-9 12-7 16-4 16 2 4 3 3 7-4 16-15 24zM3408 1042l-12 2-4-2-6-20-6-8-8-6-16-3-20 3-5-2-6-8-9-24-1-24 7-24 12-12 14-5 16-1 48 4 24 8 13 14 7 16 1 16-2 16-7 24-28 29zM4152 1123l-12 0-27-17-17-7-48-3-16-3-13-7-8-12-2-12 3-16 16-36 25-36 23-20 12-19 8-8 8 19 8 7 8 3 12-1 16-13 4-1 32 11 40 1 12 4 16 16 15 33 2 16-4 16-9 20-12 17-20 15-40 16zM3652 1510l-32-1-24-9-12-9-12-13-19-32-11-32-4-32 1-24 9-76-1-4-5-4-34-12-16-9-12-11-7-12-8-32-2-44 5-24 12-8 36-11 16 6 16 14 12 19 7 28-1 20-9 56 0 16 5 4 42 16 20 12 41 40 47 38 11 14 7 12 5 16 0 16-4 16-9 16-14 15-16 12-20 9zM3384 1422l-24 0-28-6-20-10-10-12-6-16-3-20-2-60 4-16 11-12 14-4 12 0 28 8 40 22 14 14 9 12 5 16-1 12-20 32-10 32-5 5z"/><path fill="#78dc00" fill-rule="evenodd" transform="scale(0.5)" d="M3496 834l-8-2-12-7-20-23-2-12 6-10 8-3 12 3 8 6 10 12 7 12 2 12-3 9zM3676 1034l-12-1-16-9-36-37-40-30-16-15-10-16-5-16-1-16 5-12 7-4 12 0 16 4 12 6 17 14 31 34 20 18 8 16-1 32 3 12 9 16zM3408 1034l-8 1-4-2-9-15-11-11-12-4-20-3-8-9-7-21 1-20 8-16 14-11 24-5 32 4 16 8 13 16 5 24-4 28-12 20-10 11zM4152 1114l-16-1-24-13-16-5-56-7-13-6-9-12-2-12 2-12 16-36 25-36 33-31 4-1 14 12 10 3 12-1 20-8 32 9 36 2 11 3 9 5 8 8 16 30 2 13-2 16-9 20-15 19-24 17zM3840 1162l-40-2-19-6-13-9-11-11-8-16-4-20 2-16 5-7 8-5 44-7 44-20 20-2 21 5 14 8 8 8 15 24 4 28-5 24-6 8-11 5zM3532 1248l-16 1-20-7-12-11-8-18-5-35 3-28 9-16 17-9 16-1 20 9 12 13 8 20 2 24-6 28-8 19zM3376 1414l-20 0-24-6-16-10-8-13-7-31 1-52 6-16 12-10 12-2 12 1 25 11 29 20 10 12 6 12 3 12-1 12-20 46-8 10zM3652 1502l-32-1-24-11-20-21-17-31-9-40 1-44 9-36 8-12 8-5 8-2 12 2 24 13 80 69 13 15 8 16 3 12-1 16-5 16-8 12-12 12-14 10-16 7z"/><path fill="#94df00" fill-rule="evenodd" transform="scale(0.5)" d="M3608 942l-4 3-8-1-12-5-8-6-10-15-1-8 3-7 4-2 8 0 16 9 11 20zM3408 1018l-8 2-4-1-20-16-20-8-6-5-6-16 0-16 4-12 12-12 16-5 20 1 17 8 10 12 5 16-1 20-7 18zM4156 1107l-16 0-44-16-48-7-14-6-9-12-2-12 2-12 14-32 25-34 28-25 8 0 12 6 12 2 24-6 32 9 48 5 16 10 16 25 4 16-3 16-9 19-14 17-10 9-16 9zM3656 996l-4 0-4-6 0-4 4-4 4 4zM3848 1150l-20 3-20-1-16-4-12-6-9-8-7-12-4-16 2-12 6-9 9-7 63-24 24-5 20 2 16 11 11 16 4 20-3 16-8 12-12 10-20 9zM3520 1235l-16-2-12-7-8-12-4-20-1-24 5-16 10-12 14-6 16 3 12 8 8 11 5 16 0 20-6 20-11 15zM3376 1403l-20 1-20-5-12-9-8-12-6-28 2-40 5-16 11-9 16-3 17 8 27 20 14 20 4 16-2 16-15 32-5 5zM3648 1494l-28-2-20-10-16-16-15-28-7-36 1-40 6-28 7-10 8-6 8-2 8 2 24 15 64 53 14 16 9 16 2 12-1 12-4 12-7 12-12 12-13 8z"/><path fill="#b2e400" fill-rule="evenodd" transform="scale(0.5)" d="M3400 999l-8 2-12-4-11-7-8-12-2-12 2-12 6-8 9-6 12-2 8 3 8 5 7 12 2 12-1 10-5 10zM4168 1098l-16 3-12 0-40-13-44-7-16-7-8-8-3-8 0-12 11-28 24-34 28-25 8-2 24 4 24-2 32 8 44 5 16 8 16 21 4 13 0 13-8 19-12 17-12 11-13 8zM3824 1142l-24-3-17-9-5-8-3-8 1-12 4-8 17-12 55-22 20-3 8 1 8 4 9 12 3 12-1 12-7 14-12 12-16 9-20 6zM3520 1219l-12 1-8-3-8-11-4-16 1-16 4-12 7-8 12-5 12 3 8 5 6 9 3 12-1 12-4 13-8 11zM3368 1390l-16 0-12-4-9-8-6-12-4-24 3-28 4-12 12-9 12 3 20 14 12 12 7 16 2 16-5 19-8 11zM3660 1483l-24 3-20-5-20-15-13-20-9-28-1-28 7-33 4-9 8-7 8-1 8 2 36 22 33 26 20 24 5 20-6 20-16 18z"/><path fill="#d2e600" fill-rule="evenodd" transform="scale(0.5)" d="M4164 1094l-24 1-40-11-40-7-16-7-6-8-3-8 0-12 10-24 23-31 24-21 12-4 36 1 40 9 40 5 16 7 16 18 5 12-1 12-8 19-13 17-23 17zM3836 1126l-20 3-14-3-10-8 1-12 6-8 9-6 41-18 19-5 8 0 4 3 3 6 1 8-6 16-18 15zM3516 1202l-8-1-4-4-4-15 4-13 4-4 8-2 8 3 3 4 3 12-4 12zM3364 1367l-8 1-7-2-9-12-2-12 1-12 3-8 6-5 12 5 8 7 4 9 0 16-3 8zM3652 1474l-20 1-15-5-13-11-11-17-6-20 0-24 6-20 11-10 16 0 28 13 24 19 13 18 4 16-4 16-15 16z"/><path fill="#e8e400" fill-rule="evenodd" transform="scale(0.5)" d="M4160 1090l-20 0-40-11-36-7-12-4-8-8-4-10 1-8 10-24 20-28 21-17 16-6 28 1 44 10 36 4 19 8 13 14 5 14-1 10-8 16-15 18-13 10-12 6zM3648 1463l-12 0-12-3-12-10-7-12-4-16 1-12 5-12 9-7 16 0 16 7 15 12 8 12 2 12-3 12-10 11z"/><path fill="#ebc800" fill-rule="evenodd" transform="scale(0.5)" d="M4176 1082l-20 4-16-1-80-20-8-5-5-6 0-12 4-12 11-20 14-17 16-13 16-6 28-1 44 11 40 5 12 6 11 11 5 12-2 12-6 12-13 16-15 12zM3640 1446l-11-4-5-8 1-12 7-5 12 3 7 10 0 8-2 4z"/><path fill="#ebb200" fill-rule="evenodd" transform="scale(0.5)" d="M4172 1078l-16 3-16-2-76-19-8-6-2-4 0-12 5-12 12-20 13-13 16-10 16-4 20 1 48 12 32 4 16 7 8 10 1 9-3 12-8 12-11 12-11 9z"/><path fill="#f09600" fill-rule="evenodd" transform="scale(0.5)" d="M4168 1074l-16 1-16-2-48-11-16-6-8-6-2-8 6-20 11-16 13-12 12-6 16-3 20 2 48 14 28 4 12 7 4 6 0 12-7 12-10 12-15 11z"/><path fill="#f28000" fill-rule="evenodd" transform="scale(0.5)" d="M4176 1066l-16 3-16 0-56-14-10-5-6-8 2-16 7-12 11-12 12-7 16-4 28 5 68 25 3 5-1 8-10 16-9 8z"/><path fill="#f56900" fill-rule="evenodd" transform="scale(0.5)" d="M4164 1062l-32-2-38-10-7-4-5-8 0-8 2-8 14-16 18-7 20 1 26 10 30 20 6 8-3 8-3 4-15 8z"/><path fill="#f84800" fill-rule="evenodd" transform="scale(0.5)" d="M4164 1050l-12 3-12 0-32-6-14-9-1-12 7-11 8-6 12-2 17 3 23 12 12 12 1 8z"/><path fill="#fc2d00" fill-rule="evenodd" transform="scale(0.5)" d="M4136 1038l-21 0-6-4-1-8 8-6 15 2 10 8 0 4z"/></g>
<g stroke="#fff" stroke-opacity="0.32" stroke-width="4"><line x1="1544.3" y1="509.2" x2="2148" y2="509.2"/><line x1="1846.2" y1="207" x2="1846.2" y2="811.5"/></g>
<polygon points="1646.4,475.7 1653.5,496.0 1674.9,496.4 1657.8,509.4 1664.0,530.0 1646.4,517.7 1628.8,530.0 1635.0,509.4 1617.9,496.4 1639.3,496.0" fill="none" stroke="#fff" stroke-width="3.6" stroke-linejoin="miter"/>
<g fill="none" stroke-width="3.2" stroke-linecap="square"><path stroke="#6e6e6e" d="M1544.3 207H2148V811.5"/><path stroke="#3a3a3a" d="M1544.3 207V811.5"/><path stroke="#111" d="M1544.3 811.5H2148"/></g>
<path fill="none" stroke="#333" stroke-width="3" d="M1544.3 811.5V826.5M1544.3 811.5H1529.3M1846.2 811.5V826.5M1544.3 509.2H1529.3M2148 811.5V826.5M1544.3 207H1529.3"/>
<g font-family="'Liberation Serif', serif" font-size="28" font-weight="bold" fill="#111"><text transform="translate(1541.3 853.5) scale(0.88 1)" text-anchor="middle">-1</text><text transform="translate(1522.8 817) scale(0.85 1)" text-anchor="end">-1</text><text transform="translate(1847.2 853.5) scale(0.88 1)" text-anchor="middle">0</text><text transform="translate(1522.8 514.8) scale(0.85 1)" text-anchor="end">0</text><text transform="translate(2149 853.5) scale(0.88 1)" text-anchor="middle">1</text><text transform="translate(1522.8 212.5) scale(0.85 1)" text-anchor="end">1</text></g>
<g clip-path="url(#cld)"><circle cx="433.4" cy="1560.9" r="303" fill="#4c007e"/><path fill="#3c0081" fill-rule="evenodd" transform="scale(0.5)" d="M921 3724l-68 1-64-4-56-7-52-12-53-18-53-24-48-28-45-32-41-37-40-42-32-41-32-51-28-57-20-52-15-56-10-56-5-60 0-64 6-56 12-60 16-56 24-58 28-53 32-48 36-44 41-41 44-36 49-32 53-28 50-20 55-16 60-11 72-6 72 0 56 5 56 11 36 13 36 16 115 64 42 28 43 34 40 41 35 45 29 44 28 56 20 52 15 56 10 52 5 64-1 64-6 56-13 60-18 59-24 54-29 51-35 50-46 50-50 42-45 30-107 60-43 20-37 12-48 10z"/><path fill="#2a0086" fill-rule="evenodd" transform="scale(0.5)" d="M933 3720l-60 2-68-2-60-7-52-11-56-18-48-20-44-24-48-33-44-35-40-40-33-40-32-48-27-52-24-56-16-55-12-58-7-59-1-64 5-60 10-60 17-58 20-53 24-49 32-52 32-41 40-43 44-39 47-33 49-28 55-24 49-16 60-13 68-7 76-2 64 4 56 10 39 12 37 16 116 64 39 24 41 32 40 37 36 43 32 48 27 52 21 48 16 52 12 56 6 60 1 64-4 60-11 61-16 55-24 60-28 52-33 48-35 42-36 35-40 32-43 27-109 60-40 18-60 18z"/><path fill="#15008e" fill-rule="evenodd" transform="scale(0.5)" d="M937 3716l-64 3-68-3-56-6-53-10-53-16-48-20-46-25-48-31-44-36-36-36-36-43-32-47-28-52-22-50-18-58-12-55-7-59-2-64 4-60 9-56 16-62 20-54 24-50 28-47 32-43 40-45 44-39 44-32 47-28 53-25 56-19 56-13 64-7 80-3 64 3 56 9 36 11 39 16 125 67 32 20 44 33 36 33 36 41 32 46 28 49 23 55 17 52 13 56 7 60 1 64-4 60-11 60-15 56-23 58-28 53-32 48-32 39-36 36-37 30-43 28-124 68-32 14-56 17z"/><path fill="#000796" fill-rule="evenodd" transform="scale(0.5)" d="M941 3712l-60 3-72-2-55-5-53-10-49-14-50-20-53-28-43-28-41-33-41-39-35-42-32-47-25-43-23-54-20-58-12-55-8-57-2-60 2-60 9-60 15-60 19-56 25-52 28-48 32-44 39-44 44-40 44-32 47-28 50-24 56-20 53-12 63-8 84-3 65 3 55 8 40 12 38 16 154 84 43 32 37 33 36 41 32 44 28 49 24 54 16 51 13 56 8 60 2 64-4 60-10 60-17 60-20 51-28 55-32 48-32 39-36 37-37 30-43 28-68 35-58 33-34 16-52 15z"/><path fill="#001d98" fill-rule="evenodd" transform="scale(0.5)" d="M941 3708l-60 3-72-2-56-5-48-9-52-15-44-17-48-24-50-31-42-34-41-38-35-42-32-46-27-48-22-48-19-59-13-53-8-56-2-64 2-60 9-59 12-53 20-57 24-53 28-49 32-45 39-44 44-40 43-32 46-28 52-25 55-19 51-12 62-8 84-3 68 3 53 8 39 11 32 13 68 38 60 30 36 20 43 32 37 34 36 40 32 46 28 49 20 47 19 56 12 52 7 60 2 64-4 64-10 56-16 56-22 58-28 53-32 48-32 38-35 35-37 30-40 25-68 34-60 35-34 16-52 16z"/><path fill="#003b9f" fill-rule="evenodd" transform="scale(0.5)" d="M941 3704l-60 3-76-2-52-5-48-8-44-12-52-20-48-24-44-28-44-34-40-38-36-42-32-45-28-50-24-55-17-48-13-56-8-60-2-64 3-60 8-56 13-53 20-58 24-52 28-48 32-45 36-40 43-40 43-32 46-28 49-24 55-20 52-12 64-8 84-3 66 3 52 8 38 10 32 14 68 39 63 29 35 20 39 28 39 34 36 40 32 45 28 49 20 44 19 56 13 53 8 62 1 65-4 60-9 58-16 57-20 52-28 54-32 49-32 39-32 32-36 29-40 27-80 38-56 33-33 16-51 16z"/><path fill="#0056a4" fill-rule="evenodd" transform="scale(0.5)" d="M929 3700l-56 2-80-2-48-5-48-9-49-14-49-20-45-24-43-28-42-34-40-38-36-44-28-41-28-51-21-48-19-60-12-52-7-60-2-68 4-56 8-52 13-52 20-56 24-52 28-48 32-44 36-40 44-40 43-32 48-28 51-24 47-16 51-12 64-8 84-2 60 2 56 8 28 8 31 12 23 12 54 34 64 26 43 24 41 30 36 33 32 37 32 45 28 49 20 46 17 52 13 56 7 60 1 68-4 56-10 59-16 55-24 59-28 52-32 46-32 37-32 31-36 28-40 25-80 34-61 38-35 16-44 12z"/><path fill="#0070a3" fill-rule="evenodd" transform="scale(0.5)" d="M905 3696l-128-2-52-6-44-10-52-18-46-20-42-24-46-32-41-36-37-39-32-42-28-44-24-48-21-51-15-54-12-62-5-52 0-72 5-48 10-56 17-60 21-51 24-48 28-45 32-41 37-39 41-36 46-32 50-28 46-20 52-16 56-11 56-5 92-1 60 5 43 8 36 12 24 12 57 42 72 22 31 16 26 16 39 30 36 35 32 39 32 48 24 46 20 50 16 53 10 55 5 60-1 68-6 60-12 52-16 51-24 55-28 49-36 49-32 35-32 29-33 24-35 20-32 14-56 15-12 8-38 31-41 20-49 13z"/><path fill="#008ba6" fill-rule="evenodd" transform="scale(0.5)" d="M925 3688l-52 2-88-1-48-4-44-9-44-12-49-20-46-24-41-28-41-32-39-39-36-43-28-42-28-52-20-48-16-50-12-52-8-62-1-60 2-48 7-54 12-54 20-59 24-53 24-44 32-45 36-41 40-38 42-32 46-28 49-24 47-17 52-13 44-6 40-2 84 0 56 3 40 6 29 9 27 12 19 16 3 8-2 3-33 29-27 33-24 40-24 45-20 45-17 45-8 36-1 16 2 8 4 1 4-2 8-9 69-110 27-37 24-27 40-34 52-35 12-6 20 1 20 5 20 9 52 32 44 38 40 46 36 52 28 54 24 64 16 65 8 77-2 88-11 72-11 42-12 35-16 37-20 39-20 32-24 33-24 27-28 28-28 23-30 20-42 20-20 6-16 1-12-4-44-29-40-32-30-30-41-56-61-98-12-12-4 3 0 26 8 34 20 54 24 51 28 50 20 29 23 27 31 28-2 8-8 8-19 12-17 7-40 11z"/><path fill="#00a5a8" fill-rule="evenodd" transform="scale(0.5)" d="M905 3680l-128 3-40-4-44-7-44-13-48-19-52-28-41-28-39-32-36-36-32-39-28-42-28-51-20-49-16-49-13-58-7-60-1-64 2-48 8-52 15-60 16-46 24-54 27-48 29-40 36-41 38-35 42-32 45-28 50-24 45-16 52-13 36-5 40-2 128 5 32 3 34 8 19 8 9 8 0 4-27 28-17 28-34 81-27 71-13 45-8 39-3 48 3 27 4 0 12-16 90-143 26-35 22-25 30-26 40-28 48-25 16-2 18 5 22 9 47 31 41 36 40 47 36 55 27 58 21 57 14 63 5 40 2 40-1 52-3 40-5 36-9 40-11 36-16 41-16 33-20 36-24 35-24 29-28 29-28 24-28 20-28 15-28 10-17 0-59-32-28-19-24-20-24-25-29-36-95-151-12-16-4-1-3 28 3 48 8 39 13 45 27 70 34 82 17 28 27 28 1 4-18 12-25 8z"/><path fill="#00b198" fill-rule="evenodd" transform="scale(0.5)" d="M817 3672l-44 3-47-3-43-8-51-16-45-20-49-28-41-30-39-34-34-36-31-41-24-39-24-47-20-50-16-54-11-53-5-52-1-68 3-44 9-56 12-48 17-49 24-53 24-43 28-40 33-39 38-36 41-32 44-28 48-24 44-17 48-12 52-6 32 0 30 3 21 4 33 11 16 9 14 12 12 16 6 16 3 28-3 32-32 125-10 51-6 121 0 41 25-58 25-44 66-105 48-62 32-31 40-26 44-21 40-11 16 3 24 11 24 16 24 18 44 45 40 54 32 59 24 61 16 65 9 72-1 84-9 68-19 72-16 41-16 33-20 34-20 30-24 29-24 26-27 23-25 18-24 13-24 9-10 0-26-8-48-22-44-29-32-30-48-63-66-104-25-44-25-58 0 41 7 125 9 48 30 116 5 32-1 24-3 16-5 12-8 12-12 12-14 9-20 8-20 7z"/><path fill="#00b67f" fill-rule="evenodd" transform="scale(0.5)" d="M761 3664l-36 0-47-8-40-12-47-20-44-24-40-28-38-32-32-33-32-39-24-37-24-44-20-46-16-47-12-48-9-50-3-52 0-56 4-48 10-52 14-52 16-44 24-51 24-42 28-39 32-36 38-36 42-32 39-24 41-20 44-17 45-11 43-5 21 1 17 4 62 30 16 14 13 16 10 16 7 20 3 24-1 28-18 108-4 44-3 176 1 28 4 15 5-35 9-32 23-56 23-39 48-75 52-71 40-40 40-26 48-19 56-10 16 3 20 10 20 14 24 20 44 48 36 54 28 56 24 70 12 61 6 68-2 72-9 64-19 68-28 65-36 59-44 53-24 22-24 18-24 14-16 5-56-9-48-18-44-29-40-40-52-70-48-75-23-39-23-56-9-32-5-35-4 15-1 28 3 176 4 44 17 104 2 28-3 24-6 20-8 16-12 16-13 12-17 12-51 24z"/><path fill="#00bb62" fill-rule="evenodd" transform="scale(0.5)" d="M729 3648l-16 3-28-3-28-6-32-10-59-28-61-40-49-44-43-50-36-56-28-58-24-69-16-73-6-62 1-76 9-69 16-64 24-65 28-55 40-59 24-28 28-28 55-44 61-36 60-24 33-8 27-3 16 1 12 4 51 26 29 19 20 21 16 27 7 29 2 40-6 124 5 172 4 49 4 4 6-33 11-36 13-32 18-33 80-122 28-36 28-31 20-17 24-16 24-12 28-10 32-5 44-4 20 3 16 7 28 21 28 27 28 35 24 37 20 38 20 48 15 50 9 43 5 49 1 56-2 44-6 40-10 48-12 38-20 48-20 38-28 42-32 38-32 29-28 17-8 2-20 1-52-5-32-7-32-14-36-24-36-35-36-45-52-77-31-50-20-40-15-44-10-45-5 5-4 80-4 156 6 120-1 24-4 20-14 32-26 28-40 26z"/><path fill="#00c048" fill-rule="evenodd" transform="scale(0.5)" d="M685 3628l-20 2-20-2-26-8-28-12-57-32-56-44-45-47-36-50-32-59-24-61-16-56-12-69-4-74 4-64 12-67 20-68 28-66 32-55 44-55 47-45 57-40 56-28 40-13 28-1 24 5 24 8 45 25 25 20 18 20 12 21 8 27 5 36 4 88 15 188 7 56 5 4 8-32 12-35 16-36 20-35 84-121 28-33 28-28 20-15 24-13 24-10 28-6 40-3 32 0 28 6 20 9 24 19 28 31 24 33 24 42 16 35 16 45 12 47 7 48 2 44-1 60-4 44-8 41-12 42-16 42-20 41-24 38-24 31-28 29-24 16-20 7-40 4-52-3-36-10-32-15-32-23-36-38-36-46-52-76-24-39-17-33-15-40-13-44-4 4-8 64-14 180-5 96-4 28-6 20-7 16-11 17-14 15-19 16-43 25-24 9z"/><path fill="#00c134" fill-rule="evenodd" transform="scale(0.5)" d="M661 3600l-20 0-24-3-28-6-18-7-30-16-24-16-48-41-40-45-32-48-28-57-24-69-16-69-9-71 0-68 9-63 16-69 24-69 28-58 36-53 36-40 42-36 44-28 38-16 44-8 36 1 40 13 20 10 20 14 19 18 16 20 13 23 8 25 30 164 20 152 5 28 5 2 12-39 12-30 16-32 24-39 84-114 32-36 28-24 24-14 28-12 32-7 36-2 32 2 28 6 28 11 24 15 24 25 20 26 20 34 20 42 12 32 12 42 8 42 4 46-1 88-6 44-9 39-16 49-16 36-20 37-24 34-24 26-20 14-28 13-32 8-40 2-44-4-32-9-28-14-32-24-32-34-36-45-52-73-24-38-16-30-16-38-12-39-5 2-6 32-18 144-23 133-8 36-10 27-10 19-12 16-32 29-40 21-20 7z"/><path fill="#00c319" fill-rule="evenodd" transform="scale(0.5)" d="M669 3564l-20 3-24-2-28-6-28-10-28-12-24-14-24-17-24-22-32-38-27-46-28-68-24-76-15-68-8-60 2-32 9-56 21-84 30-82 28-58 32-44 34-32 38-27 40-19 44-14 32-3 28 4 32 13 26 18 20 20 17 24 13 25 14 39 34 113 26 143 9 36 5 4 12-34 16-36 20-35 24-36 52-69 36-43 32-32 28-21 28-13 28-8 32-3 40 1 28 5 28 9 24 14 24 18 24 26 16 22 16 28 16 36 12 35 9 40 7 37 3 39 0 52-3 39-8 45-8 31-12 35-16 36-20 35-18 23-25 24-25 18-28 13-28 7-40 4-40-2-32-8-28-12-28-20-32-31-36-43-52-68-24-35-20-34-16-33-16-44-5 4-9 36-30 158-28 94-19 48-21 36-24 26-32 22z"/><path fill="#0dca02" fill-rule="evenodd" transform="scale(0.5)" d="M657 3524l-20 2-24-2-24-6-28-11-24-12-24-17-20-17-20-21-30-44-30-63-28-76-21-77-9-44 0-28 10-52 20-70 24-66 27-60 25-40 28-34 28-24 29-18 35-16 32-8 28-2 24 4 24 10 22 16 22 23 20 29 24 42 20 43 24 63 26 108 16 56 2 4 4 0 16-37 16-31 20-32 28-38 84-102 32-30 28-19 28-13 28-6 36-2 40 3 28 7 24 11 24 15 24 21 20 23 20 30 19 36 13 33 8 28 8 40 3 35 1 40-2 36-4 36-6 31-12 39-15 34-17 31-20 28-19 21-25 21-24 14-24 10-28 6-40 2-32-1-28-7-28-12-28-19-28-26-32-36-48-60-48-67-24-44-16-37-4 0-15 48-33 132-20 51-24 51-28 46-26 32-30 23z"/><path fill="#2bd100" fill-rule="evenodd" transform="scale(0.5)" d="M629 3480l-36-5-20-6-20-10-36-27-33-36-29-48-34-72-24-72-15-64-1-28 7-40 19-64 21-56 27-56 21-36 24-32 25-24 24-17 24-12 24-8 24-3 24 2 20 6 20 11 20 16 24 25 24 30 24 37 20 35 20 48 45 138 3 5 4 0 20-40 20-33 60-77 44-51 32-34 28-23 28-17 28-11 28-4 40 0 36 5 28 10 24 13 24 18 24 25 19 26 16 28 13 28 12 35 8 33 4 32 2 68-4 32-7 36-10 32-12 32-15 28-18 28-20 23-18 17-22 15-24 12-24 8-28 5-32 2-28-2-28-7-24-11-24-16-28-25-72-80-56-72-24-38-19-39-5-1-14 37-42 128-20 40-28 46-36 46-32 31-32 18z"/><path fill="#53d700" fill-rule="evenodd" transform="scale(0.5)" d="M641 3428l-32 1-32-9-33-20-32-32-31-47-28-55-22-58-13-56-2-36 4-36 13-49 19-51 21-44 28-45 24-30 28-24 20-12 20-8 20-3 20 0 20 5 20 9 20 12 20 16 40 42 40 55 16 31 38 96 18 37 4 1 2-2 22-39 32-44 92-104 28-28 24-20 20-13 24-12 28-7 32-3 36 3 32 7 28 13 24 16 24 22 20 24 28 49 12 29 9 31 10 60-1 56-5 32-8 32-12 32-13 28-16 27-16 21-19 20-20 16-21 13-24 10-28 7-28 3-28 0-24-4-24-7-20-10-24-17-28-24-80-87-52-64-36-58-6 2-62 148-28 44-36 44-32 30-32 22z"/><path fill="#74dc00" fill-rule="evenodd" transform="scale(0.5)" d="M1193 3376l-36 1-32-6-28-11-32-21-44-39-84-87-36-42-32-46-7 3-57 113-20 33-24 27-44 41-20 14-20 11-20 8-16 3-20 0-16-2-32-14-20-14-16-16-33-44-14-28-12-28-15-56-3-28 0-44 4-44 17-56 26-52 18-26 20-22 20-17 24-14 20-6 24-2 20 3 24 8 24 14 24 18 36 34 20 23 24 37 57 114 7 2 40-55 56-62 76-76 24-20 24-17 20-10 20-6 24-5 24-1 24 3 24 5 24 8 20 11 28 21 24 25 22 33 18 35 14 41 8 40 3 36-3 36-10 43-16 41-19 36-23 32-26 25-28 19-32 13z"/><path fill="#99e000" fill-rule="evenodd" transform="scale(0.5)" d="M1177 3356l-28-2-28-6-28-12-28-18-40-34-96-92-32-33-28-34-7 3-57 91-24 33-24 25-32 24-36 21-32 9-32 0-32-12-30-23-26-32-20-40-11-40-4-52 3-60 10-44 18-40 16-24 16-18 20-16 18-10 22-7 20-2 20 3 20 6 40 23 28 21 20 18 28 37 61 97 3 3 4 0 48-55 100-97 40-35 36-24 20-10 20-6 40-4 44 6 40 16 25 18 25 24 22 29 17 31 15 37 10 43 3 32-3 28-10 42-16 40-20 35-24 30-28 24-28 17-32 11z"/><path fill="#c2e500" fill-rule="evenodd" transform="scale(0.5)" d="M1189 3332l-28 1-28-4-28-10-28-15-52-40-116-101-40-39-4 0-7 8-77 96-20 19-24 17-36 19-28 8-28 0-28-10-24-17-20-24-15-28-10-32-4-40 1-56 6-32 12-32 12-20 14-16 16-14 16-10 16-5 20-3 16 1 20 4 40 20 36 27 28 30 60 78 8 7 4 1 40-39 128-111 32-25 28-17 36-13 36-5 36 4 37 14 23 13 24 21 20 23 17 27 16 32 12 36 6 32 0 24-8 36-15 40-18 32-21 28-25 24-24 16-28 13z"/><path fill="#e4e400" fill-rule="evenodd" transform="scale(0.5)" d="M1185 3308l-28 1-24-4-24-8-24-12-32-22-80-63-103-76 3-7 12-10 83-59 105-82 24-14 20-8 40-9 32 1 32 9 28 14 28 21 24 28 20 32 16 40 7 36-2 28-11 36-17 36-21 30-24 24-25 18-27 12zM697 3252l-20 2-20-2-19-8-16-12-14-16-11-20-8-24-4-24-1-32 2-28 5-24 10-24 12-18 16-16 20-11 20-5 20 0 20 5 24 10 24 15 36 30 71 70 0 4-75 73-24 21-32 20z"/><path fill="#ebc400" fill-rule="evenodd" transform="scale(0.5)" d="M1189 3280l-20 2-24-2-24-6-24-10-36-21-88-64-36-21-60-31-6-3 1-4 93-51 104-73 44-24 32-9 28-1 28 4 28 11 20 13 20 17 16 18 15 23 12 24 8 24 4 20-1 20-6 24-12 28-15 24-16 20-21 19-20 13-20 9zM717 3212l-16 2-16 0-16-6-12-7-12-12-8-13-11-32-2-20 2-20 4-20 6-16 9-13 12-12 12-8 16-5 16-1 16 2 36 14 32 19 77 56-1 5-88 62-28 16z"/><path fill="#eea400" fill-rule="evenodd" transform="scale(0.5)" d="M1185 3248l-36 1-20-4-20-7-36-19-76-53-36-21-32-12-53-9 1-3 52-10 32-12 36-21 78-54 42-21 24-7 24-2 21 2 23 6 18 10 18 12 16 15 12 17 12 20 8 20 3 20 0 16-5 20-8 20-10 17-16 19-16 15-16 10-20 10zM741 3168l-24 1-16-4-12-8-8-13-5-20 3-20 9-16 13-10 24-4 28 4 105 42 0 4-29 10-56 25z"/><path fill="#f28400" fill-rule="evenodd" transform="scale(0.5)" d="M1169 3208l-20-1-20-4-20-8-20-11-23-16-17-16-11-16-3-12 1-12 7-12 30-29 37-23 19-8 20-4 20 0 16 2 16 6 16 8 13 12 13 16 8 16 4 16 0 16-3 16-6 16-12 16-13 12-16 10-16 6z"/></g>
<g stroke="#fff" stroke-opacity="0.32" stroke-width="4"><line x1="128.8" y1="1560.9" x2="737.9" y2="1560.9"/><line x1="433.4" y1="1256" x2="433.4" y2="1865.8"/></g>
<polygon points="282.0,1527.5 289.1,1547.8 310.5,1548.2 293.4,1561.2 299.6,1581.8 282.0,1569.5 264.4,1581.8 270.6,1561.2 253.5,1548.2 274.9,1547.8" fill="none" stroke="#fff" stroke-width="3.6" stroke-linejoin="miter"/>
<g fill="none" stroke-width="3.2" stroke-linecap="square"><path stroke="#6e6e6e" d="M128.8 1256H737.9V1865.8"/><path stroke="#3a3a3a" d="M128.8 1256V1865.8"/><path stroke="#111" d="M128.8 1865.8H737.9"/></g>
<path fill="none" stroke="#333" stroke-width="3" d="M128.8 1865.8V1880.8M128.8 1865.8H113.8M433.4 1865.8V1880.8M128.8 1560.9H113.8M737.9 1865.8V1880.8M128.8 1256H113.8"/>
<g font-family="'Liberation Serif', serif" font-size="28" font-weight="bold" fill="#111"><text transform="translate(125.8 1907.8) scale(0.88 1)" text-anchor="middle">-1</text><text transform="translate(107.3 1871.3) scale(0.85 1)" text-anchor="end">-1</text><text transform="translate(434.4 1907.8) scale(0.88 1)" text-anchor="middle">0</text><text transform="translate(107.3 1566.4) scale(0.85 1)" text-anchor="end">0</text><text transform="translate(738.9 1907.8) scale(0.88 1)" text-anchor="middle">1</text><text transform="translate(107.3 1261.5) scale(0.85 1)" text-anchor="end">1</text></g>
<g clip-path="url(#cle)"><circle cx="1151.7" cy="1560.9" r="303.2" fill="#4c007e"/><path fill="#3c0081" fill-rule="evenodd" transform="scale(0.5)" d="M2337 3720l-60 2-53-3-51-8-60-16-52-20-64-32-43-28-41-32-44-41-44-51-36-52-24-43-24-53-20-60-12-53-8-65 0-86 4-40 8-46 16-59 20-53 24-49 32-52 40-52 38-41 50-44 40-28 40-24 40-20 63-24 61-16 54-8 62-1 80 5 59 8 51 12 47 16 53 24 41 24 45 32 52 44 36 37 36 44 36 55 28 56 24 64 16 63 8 53 3 64-3 62-8 52-16 63-20 55-32 65-36 55-32 40-44 44-52 44-52 36-44 24-58 24-56 16-42 8z"/><path fill="#2a0086" fill-rule="evenodd" transform="scale(0.5)" d="M2305 3720l-52 0-51-5-59-12-61-20-46-20-51-28-52-36-46-40-42-44-28-35-32-49-32-61-20-51-16-55-12-66-4-50 0-53 4-49 12-67 16-54 20-51 28-55 36-55 36-45 52-52 40-32 48-32 45-24 56-24 52-16 62-12 43-4 44 0 91 8 56 8 49 12 45 16 52 24 46 28 47 36 48 42 40 42 32 42 32 51 28 59 20 55 16 63 8 55 2 59-2 57-12 73-16 57-24 61-24 47-40 62-36 42-43 41-53 44-47 32-53 28-51 20-60 16-53 8z"/><path fill="#15008e" fill-rule="evenodd" transform="scale(0.5)" d="M2317 3716l-48 3-55-4-49-8-58-16-61-24-53-28-48-32-39-32-45-43-28-33-32-44-32-55-24-52-16-44-16-63-8-53-3-65 3-67 8-53 12-50 20-58 28-60 28-46 36-49 40-45 44-40 48-36 40-24 48-24 52-20 60-16 52-8 48-2 43 2 113 12 58 12 48 16 53 24 40 24 49 36 52 45 36 36 32 39 36 56 28 57 24 65 16 64 8 58 1 64-1 37-4 34-8 44-16 58-24 61-28 55-28 43-36 45-44 43-64 52-40 28-52 28-49 20-59 16-52 8z"/><path fill="#000796" fill-rule="evenodd" transform="scale(0.5)" d="M2277 3716l-48-1-56-8-49-12-57-20-50-24-47-28-49-36-43-40-37-40-36-48-32-54-24-50-20-56-12-46-8-44-5-70 1-67 4-37 12-62 16-53 20-49 24-47 36-56 36-45 38-40 46-40 40-28 57-32 56-24 51-16 63-12 49-3 40 1 133 14 45 8 42 12 49 20 51 28 40 28 64 52 44 44 36 44 28 44 28 55 24 62 16 58 8 46 5 67-1 50-8 64-16 66-20 56-24 52-28 48-36 48-36 39-53 45-63 48-41 24-43 20-48 16-48 11z"/><path fill="#001d98" fill-rule="evenodd" transform="scale(0.5)" d="M2281 3712l-48 0-48-5-55-12-58-20-52-24-48-28-43-32-41-36-35-36-40-51-28-44-28-55-20-51-16-55-12-68-3-44 0-52 3-52 12-66 16-56 20-50 28-55 28-44 36-46 40-43 41-36 44-32 47-28 53-24 59-20 59-12 41-4 48 1 72 10 80 7 37 6 44 12 49 20 38 20 41 28 71 57 40 37 36 42 32 48 24 45 28 68 16 55 12 67 4 49-1 48-7 67-12 54-20 61-28 63-28 48-32 44-36 39-52 44-68 52-40 24-43 20-48 16-36 8-101 11z"/><path fill="#003b9f" fill-rule="evenodd" transform="scale(0.5)" d="M2273 3708l-48 0-48-5-52-12-58-20-51-24-46-28-48-36-36-32-37-40-36-47-28-44-28-56-20-52-16-59-8-45-5-53 0-68 5-52 8-45 16-58 20-52 24-49 32-51 36-47 38-42 45-40 45-32 48-28 54-24 49-16 56-12 45-4 48 1 80 14 84 6 40 7 30 8 42 16 46 24 46 32 72 56 40 38 32 38 28 41 28 53 24 58 16 51 12 57 6 68 0 48-6 57-12 58-20 62-24 55-28 51-32 45-40 44-48 40-80 60-34 20-43 20-36 12-39 9-36 5-68 5z"/><path fill="#0056a4" fill-rule="evenodd" transform="scale(0.5)" d="M2261 3703l-48 1-44-6-48-11-57-20-50-24-46-28-43-32-40-36-36-40-36-47-28-46-24-47-20-51-16-57-9-52-5-56 0-68 6-56 8-42 16-57 20-51 28-55 28-44 36-46 42-45 41-36 45-32 42-24 53-24 48-16 56-12 45-4 28 1 32 3 72 16 96 6 34 6 28 8 42 16 37 20 127 93 40 38 32 39 28 43 28 55 20 50 16 52 12 63 5 59-1 50-8 64-12 52-20 59-24 54-28 50-32 44-40 42-40 33-95 68-35 20-38 16-36 12-28 6-32 4-80 4-60 14z"/><path fill="#0070a3" fill-rule="evenodd" transform="scale(0.5)" d="M2273 3695l-44 4-52-3-42-9-52-16-47-20-51-28-40-28-47-40-41-43-32-41-32-49-24-45-20-48-16-51-12-56-6-55-1-68 3-47 8-52 12-49 20-57 24-51 28-47 32-45 38-44 42-39 41-33 45-28 48-24 54-20 48-12 52-6 36 0 32 4 84 23 92 3 30 4 30 8 41 16 31 16 132 91 36 33 32 36 28 41 28 52 24 58 16 49 12 57 7 63-1 48-6 61-12 56-16 50-24 57-28 53-32 45-36 40-44 37-103 69-26 16-35 16-35 12-38 8-111 6-52 16z"/><path fill="#008ba6" fill-rule="evenodd" transform="scale(0.5)" d="M2249 3692l-44 1-48-6-49-12-45-16-43-20-47-28-42-32-40-36-38-42-32-42-28-44-24-47-20-50-16-55-10-52-4-52-1-68 3-44 8-48 16-61 20-53 24-49 28-46 32-43 36-41 42-39 42-32 45-28 51-24 45-16 51-12 48-4 36 1 36 6 26 9 38 19 24 7 24 1 64-4 24 3 26 6 58 24 50 32 70 40 40 28 36 34 32 39 24 37 24 47 24 58 16 52 12 63 5 54-1 48-8 61-12 52-20 58-28 62-24 42-32 43-36 37-28 23-28 18-65 36-49 32-46 20-25 8-31 6-24 0-52-4-24 3-24 7-48 23zM2329 2983l44-66 57-102 10-24 0-8-3-3-8 1-8 4-28 23-24 26-19 29-13 33-9 39-5 40 2 10zM2436 3463l4-4 0-8-15-32-64-111-28-43-8-6-1 20 5 37 9 35 14 32 17 26 28 30 24 19z"/><path fill="#00a5a8" fill-rule="evenodd" transform="scale(0.5)" d="M2245 3684l-40 2-44-4-49-11-46-16-44-20-41-24-44-32-40-36-40-44-32-42-28-44-24-47-20-50-16-55-9-46-5-52 0-68 2-40 8-54 12-48 16-47 24-53 28-49 32-45 37-44 42-40 41-32 44-28 40-20 52-20 48-12 48-5 44 1 34 8 18 8 56 35 28 10 28 4 52 0 24 4 22 11 7 8 3 8-3 16-17 24-17 16-39 25-28 24-40 44-27 39-15 40-11 56-6 64 0 20 3 12 106-176 86-121 28-28 32-22 24-8 32 0 20 4 28 11 28 16 24 16 44 41 20 24 20 29 32 60 32 79 16 62 10 81-3 68-7 51-8 35-24 70-20 45-20 38-20 31-20 25-44 44-24 18-28 17-24 11-24 7-32 1-28-7-28-17-32-30-28-36-60-87-108-179-3 11-1 20 7 64 11 56 15 40 27 40 40 45 28 23 38 24 17 16 18 24 3 16-3 8-6 8-19 11-24 5-60 1-32 6-28 12-54 33-22 8z"/><path fill="#00b198" fill-rule="evenodd" transform="scale(0.5)" d="M2229 3676l-40 2-44-5-40-10-54-20-40-20-44-28-36-28-38-35-36-41-32-43-28-46-24-49-20-53-12-45-8-44-5-52 0-72 3-40 9-56 13-47 16-44 24-51 24-41 32-45 36-43 38-37 39-32 43-28 48-23 44-17 45-12 47-5 48 3 23 6 17 8 24 16 48 40 52 32 7 8 3 8 0 12-8 20-64 96-11 20-7 20-11 56-7 60-1 48 3 75 2-15 12-36 28-52 78-122 56-75 40-42 40-31 36-17 16-4 20-1 20 3 20 6 24 12 24 16 24 20 20 20 36 47 16 27 20 41 20 47 12 34 16 67 7 68 0 32-3 36-8 48-8 35-24 68-40 82-36 50-20 22-24 21-24 18-24 13-24 9-20 3-20 0-16-3-32-14-44-32-40-41-60-79-79-124-27-52-12-36-2-13-3 73 1 48 7 60 11 56 7 20 9 18 68 102 6 16 0 12-6 12-9 8-47 30-63 50-25 13z"/><path fill="#00b67f" fill-rule="evenodd" transform="scale(0.5)" d="M2193 3668l-36-2-40-7-48-16-45-20-41-24-38-28-36-32-32-34-32-40-28-41-24-42-20-44-16-46-12-49-8-48-3-52 0-60 4-44 8-48 15-52 20-52 20-40 24-40 32-44 36-42 39-38 41-32 38-24 42-20 52-19 40-9 40-3 24 1 20 5 28 10 21 11 26 24 34 40 14 20 6 16 1 16-4 20-42 89-6 19-4 28-6 60-1 56 5 104 4 14 11-46 25-50 84-128 52-68 44-46 44-33 36-17 20-5 20-1 20 3 20 5 24 12 20 14 40 36 36 48 36 70 28 70 16 66 6 48 2 32-6 72-14 67-24 65-40 81-36 50-20 21-24 20-24 16-20 9-20 6-20 2-20-1-20-4-36-18-44-33-44-46-52-67-84-128-25-52-11-45-4 15-6 106 2 52 6 60 4 28 6 20 41 88 5 20-1 16-5 16-14 20-35 40-25 24-18 11-24 10-20 5z"/><path fill="#00bb62" fill-rule="evenodd" transform="scale(0.5)" d="M2197 3652l-32 3-36-4-44-11-44-17-37-20-42-28-33-28-36-36-32-38-28-38-28-47-20-40-20-53-12-46-8-46-4-48 0-60 2-40 6-44 12-48 16-48 20-45 24-43 28-41 32-40 36-39 36-32 39-28 43-24 40-16 42-12 44-6 24 1 28 5 24 9 24 13 16 14 20 24 15 24 10 24 3 16-1 20-6 24-23 68-4 28-3 48 0 52 2 48 10 96 5 10 15-50 25-46 84-122 52-65 44-45 40-30 40-18 36-6 20 2 24 6 20 9 20 12 36 31 36 47 40 77 24 60 16 64 8 72 0 30-4 38-8 44-8 33-24 64-40 79-16 24-20 25-20 20-20 16-20 12-20 8-20 6-20 2-20-1-20-4-40-19-40-30-44-44-52-65-84-122-25-48-15-48-4 8-11 100-3 48 2 56 6 68 28 88 2 20-2 16-7 20-11 20-17 24-18 20-13 10-20 10z"/><path fill="#00c048" fill-rule="evenodd" transform="scale(0.5)" d="M2181 3635l-32 3-36-4-41-11-39-15-37-21-33-24-33-28-33-34-36-44-28-40-24-40-20-43-16-43-12-45-8-43-5-52 0-52 3-44 6-40 12-49 16-47 16-36 24-44 28-42 36-45 32-35 33-30 37-28 35-20 39-16 40-12 40-5 28 1 22 4 23 8 21 12 15 12 15 18 14 22 8 20 4 20 0 20-17 96-1 84 3 52 6 48 14 84 5 8 16-46 24-42 88-122 48-58 48-47 36-27 40-19 36-5 20 1 24 6 40 18 32 26 32 38 20 34 24 49 24 57 16 64 8 69 0 30-5 38-7 40-8 34-24 62-44 84-32 41-32 27-40 20-24 6-20 2-36-4-20-8-20-10-36-26-48-46-48-57-92-127-24-43-16-45-5 6-14 84-6 48-3 52 1 84 17 96 0 20-3 16-5 16-10 20-12 17-14 15-32 20z"/><path fill="#00c134" fill-rule="evenodd" transform="scale(0.5)" d="M2161 3616l-24 1-24-1-52-13-28-11-24-13-45-32-51-49-52-63-40-62-28-60-20-63-12-64-4-63 4-66 12-63 20-63 24-53 36-58 44-57 45-48 44-36 47-27 48-18 28-5 24-3 24 1 20 4 20 7 18 9 18 15 14 17 11 20 7 24 3 36-6 104 4 68 6 48 11 56 17 76 5 5 12-31 20-37 96-127 60-69 60-52 20-13 24-11 20-6 20-2 28 3 28 6 24 10 20 11 24 21 24 29 20 33 32 63 13 31 11 36 8 36 8 56 0 28-3 32-8 48-9 36-24 61-28 54-20 34-20 24-24 22-24 15-28 11-36 6-28 1-24-6-28-13-26-17-42-36-28-28-32-37-104-136-20-34-16-41-4 3-2 5-16 72-10 52-7 48-4 80 6 108-5 36-14 31-22 25-30 19z"/><path fill="#00c319" fill-rule="evenodd" transform="scale(0.5)" d="M2145 3592l-20 1-24-1-24-5-24-7-46-25-46-35-52-53-52-67-36-60-24-58-18-67-10-68-1-40 8-64 15-64 23-60 27-52 40-56 44-52 40-39 40-31 40-22 40-12 44-5 36 6 17 7 15 9 13 11 12 16 9 16 6 20 5 36 5 108 8 64 11 52 17 60 16 56 6 6 16-35 20-32 108-133 52-54 60-47 20-11 20-8 20-4 20-1 36 3 24 5 24 10 20 13 20 19 20 25 36 61 16 32 12 31 10 36 10 52 4 32-1 32-6 40-7 36-10 34-24 55-28 50-20 30-20 22-20 16-20 12-24 7-40 6-28 0-24-5-28-11-64-47-28-27-28-30-112-138-20-31-16-35-5 4-17 56-16 60-12 52-9 72-5 112-8 39-13 25-19 21-25 15z"/><path fill="#0dca02" fill-rule="evenodd" transform="scale(0.5)" d="M2121 3564l-24 0-20-3-20-6-24-12-46-32-50-46-52-60-39-58-29-59-20-61-12-56-6-52 7-52 14-60 21-60 23-48 33-50 40-48 36-38 36-33 32-23 36-18 32-9 32 0 28 6 24 14 20 21 14 30 9 40 16 104 12 56 16 52 27 76 13 36 5 3 20-37 20-28 112-128 48-47 48-33 24-13 24-8 24-4 36 0 32 2 20 5 20 9 20 15 16 16 20 27 32 52 16 33 12 32 8 33 8 44 3 31-2 28-7 44-9 36-9 28-12 27-16 29-28 44-20 26-16 15-20 14-20 8-20 4-48 2-24-1-28-7-24-11-52-33-24-21-28-28-116-133-20-27-20-37-4 1-10 24-28 80-16 52-16 68-17 116-11 36-14 24-16 17-24 13z"/><path fill="#2bd100" fill-rule="evenodd" transform="scale(0.5)" d="M2113 3524l-20 2-16-2-20-6-24-13-52-38-60-58-40-49-32-52-24-54-20-66-9-49 0-32 10-56 19-62 22-50 26-44 32-42 40-43 32-30 32-26 29-19 27-12 24-5 20 1 20 6 20 13 16 19 14 26 11 32 29 104 16 48 55 128 10 20 5 3 20-32 20-25 120-127 44-39 40-26 28-12 24-6 88-5 20 3 16 5 20 12 16 14 20 24 24 34 28 52 12 33 8 33 7 39 2 28-2 24-7 40-8 32-12 34-28 53-24 34-20 23-16 14-20 12-16 6-20 2-88-4-24-6-28-13-40-25-44-40-120-127-20-25-20-32-5 2-9 20-56 128-16 48-30 109-15 39-12 20-13 15-16 11z"/><path fill="#53d700" fill-rule="evenodd" transform="scale(0.5)" d="M2101 3460l-16 3-20-1-20-6-24-12-24-14-28-21-48-46-36-45-28-48-24-59-15-56-3-36 5-40 16-56 21-49 21-39 27-36 32-35 40-35 48-32 20-9 20-6 20-2 16 3 16 8 12 9 16 18 20 31 70 150 64 116 6 4 20-27 20-23 132-128 44-35 40-21 24-7 24-4 68-5 28 2 20 6 20 11 20 17 20 24 28 42 22 48 18 72 3 24-1 20-14 69-20 54-16 29-16 23-20 24-20 19-16 10-16 7-16 4-20 1-88-7-24-7-28-12-36-23-36-31-124-121-20-22-20-27-6 2-64 116-23 48-31 72-24 45-12 18-16 17-12 10z"/><path fill="#74dc00" fill-rule="evenodd" transform="scale(0.5)" d="M2077 3388l-36-1-36-11-36-21-36-32-30-36-26-42-22-50-12-48-2-32 5-36 15-46 20-42 22-36 26-31 32-29 32-21 36-15 32-4 36 5 16 7 16 10 16 15 16 19 117 176 20 28 7 6 12-16 24-24 152-134 44-29 40-17 32-6 60-5 28 1 24 5 24 13 20 17 24 27 20 32 20 45 16 57 4 36-4 32-18 64-23 48-15 23-20 24-16 15-20 13-16 7-20 4-44 0-64-8-24-7-24-10-28-17-32-25-73-67-67-56-36-39-7 3-79 116-50 78-20 27-16 15-16 12-20 8z"/><path fill="#99e000" fill-rule="evenodd" transform="scale(0.5)" d="M2701 3332l-36 2-56-6-36-8-36-16-44-29-82-68-78-58-28-26-7 4-121 137-24 24-20 16-28 14-28 7-32 0-28-6-32-15-32-24-28-31-22-34-17-40-8-36 0-32 7-36 13-32 19-34 24-30 24-22 28-18 28-12 28-5 28 1 20 4 20 7 16 10 20 16 40 40 112 127 4-7 20-18 83-63 77-64 28-20 24-14 40-16 44-8 56-3 36 5 24 12 20 15 20 21 19 28 16 32 13 37 10 39 2 28-5 32-15 48-14 32-18 31-20 24-20 18-24 13z"/><path fill="#c2e500" fill-rule="evenodd" transform="scale(0.5)" d="M2701 3312l-36 2-44-4-40-10-36-14-44-27-100-75-84-52-10-9 1-4 21-15 80-50 100-75 25-16 27-12 48-15 48-6 44 2 32 10 20 13 14 12 14 18 16 25 15 33 13 36 6 28 1 20-6 32-13 39-15 33-17 28-16 19-20 16-20 11zM2113 3260l-28 3-32-2-24-6-24-11-23-17-18-20-15-24-11-28-4-24 1-28 6-24 12-27 16-22 20-19 24-16 24-9 28-5 32 0 24 5 24 9 24 15 32 23 96 84 5 6-89 77-36 29-32 19z"/><path fill="#e4e400" fill-rule="evenodd" transform="scale(0.5)" d="M2693 3292l-32 1-36-4-36-10-32-12-44-24-108-74-36-19-60-26 0-5 60-25 32-17 36-23 80-56 28-16 28-12 44-13 44-6 36 1 32 9 18 10 14 13 16 19 12 20 16 33 11 31 6 24 0 20-7 28-14 38-16 30-16 23-16 17-16 11-20 9zM2145 3204l-32 1-32-8-27-18-18-24-7-28 1-16 3-16 14-24 13-12 13-8 20-9 24-4 20 1 24 5 48 21 89 54 1 4-90 55-36 18z"/><path fill="#ebc400" fill-rule="evenodd" transform="scale(0.5)" d="M2701 3268l-32 2-32-4-40-10-36-14-44-25-124-82-10-8-3-4 0-4 9-8 128-85 32-18 28-13 44-14 40-6 36 0 29 8 15 9 12 10 15 17 13 20 13 24 11 28 4 20 1 16-5 24-11 28-13 26-16 23-14 15-14 11-16 8zM2205 3148l-28 1-20-7-7-7-4-8-1-8 4-10 8-7 12-6 28-1 23 4 25 8 31 12 2 4-42 16z"/><path fill="#eea400" fill-rule="evenodd" transform="scale(0.5)" d="M2705 3240l-28 2-36-5-44-13-38-17-43-28-38-32-12-20-1-8 2-8 20-24 35-28 39-24 36-16 40-12 36-5 32 2 24 9 24 19 22 31 16 36 3 28-3 16-7 20-23 39-12 13-15 12-13 8z"/><path fill="#f28400" fill-rule="evenodd" transform="scale(0.5)" d="M2693 3208l-28-3-37-10-31-14-26-18-18-20-6-16 1-16 11-20 18-16 25-16 29-12 29-8 21-3 20 1 20 6 16 11 16 17 14 24 6 24-3 20-13 28-17 20-23 15z"/><path fill="#f66400" fill-rule="evenodd" transform="scale(0.5)" d="M2709 3148l-12 3-12-2-11-6-7-8-5-12 1-8 4-8 8-8 14-5 12-1 12 4 10 10 5 12-2 12-5 9z"/></g>
<g stroke="#fff" stroke-opacity="0.32" stroke-width="4"><line x1="847" y1="1560.9" x2="1456.4" y2="1560.9"/><line x1="1151.7" y1="1256" x2="1151.7" y2="1865.8"/></g>
<polygon points="982.0,1527.5 989.1,1547.8 1010.5,1548.2 993.4,1561.2 999.6,1581.8 982.0,1569.5 964.4,1581.8 970.6,1561.2 953.5,1548.2 974.9,1547.8" fill="none" stroke="#fff" stroke-width="3.6" stroke-linejoin="miter"/>
<g fill="none" stroke-width="3.2" stroke-linecap="square"><path stroke="#6e6e6e" d="M847 1256H1456.4V1865.8"/><path stroke="#3a3a3a" d="M847 1256V1865.8"/><path stroke="#111" d="M847 1865.8H1456.4"/></g>
<path fill="none" stroke="#333" stroke-width="3" d="M847 1865.8V1880.8M847 1865.8H832M1151.7 1865.8V1880.8M847 1560.9H832M1456.4 1865.8V1880.8M847 1256H832"/>
<g font-family="'Liberation Serif', serif" font-size="28" font-weight="bold" fill="#111"><text transform="translate(844 1907.8) scale(0.88 1)" text-anchor="middle">-1</text><text transform="translate(825.5 1871.3) scale(0.85 1)" text-anchor="end">-1</text><text transform="translate(1152.7 1907.8) scale(0.88 1)" text-anchor="middle">0</text><text transform="translate(825.5 1566.4) scale(0.85 1)" text-anchor="end">0</text><text transform="translate(1457.4 1907.8) scale(0.88 1)" text-anchor="middle">1</text><text transform="translate(825.5 1261.5) scale(0.85 1)" text-anchor="end">1</text></g>
<g clip-path="url(#clf)"><circle cx="1853.1" cy="1560.9" r="303" fill="#4c007e"/><path fill="#3c0081" fill-rule="evenodd" transform="scale(0.5)" d="M3740 3720l-52 2-50-2-56-8-62-16-54-20-50-24-52-32-47-36-45-42-44-50-36-52-24-43-24-53-20-59-12-53-8-62 0-96 4-38 8-45 16-59 20-52 28-56 36-56 28-36 36-38 37-34 47-36 52-32 50-24 54-20 62-16 56-8 54-2 56 3 82 11 71 16 55 20 56 28 16 11 4 1 8 7 4 1 8 7 4 1 12 11 4 1 12 11 8 5 40 36 40 44 36 48 1 4 7 8 28 50 20 42 20 56 1 8 3 6 8 31 1 11 3 8 1 12 3 10 1 22 3 8 0 125-3 7-1 22-3 10-1 12-3 8-1 10-8 32-3 6-1 8-20 55-36 73-19 28-1 4-36 48-40 44-40 36-60 44-4 0-16 12-12 4-18 12-45 20-51 16-80 16z"/><path fill="#2a0086" fill-rule="evenodd" transform="scale(0.5)" d="M3708 3720l-52 0-67-8-52-12-49-16-55-24-49-28-51-36-37-32-44-44-32-40-32-48-28-52-24-59-16-55-12-65-4-48 0-63 4-47 12-66 16-54 24-59 28-52 32-48 32-40 56-56 40-32 49-32 45-24 57-24 53-16 64-12 45-4 48 0 55 4 76 12 69 16 55 20 36 19 4 1 39 24 49 36 39 36 37 40 40 53 24 39 1 4 7 11 20 41 20 53 16 59 8 41 1 19 3 12 0 117-3 11-1 19-4 22-16 64-24 66-20 42-7 11-1 4-24 39-40 53-41 44-55 48-4 0-25 20-32 20-47 24-55 20-48 12-71 12z"/><path fill="#15008e" fill-rule="evenodd" transform="scale(0.5)" d="M3732 3716l-52 2-52-3-51-7-62-16-44-16-51-24-47-28-49-36-44-40-40-44-36-49-28-46-24-50-20-53-16-63-8-53-3-70 3-66 8-54 12-49 20-57 24-52 32-54 36-48 40-44 44-40 49-36 47-28 51-24 57-20 49-12 55-8 52-2 60 3 80 11 78 16 38 12 47 20 49 28 40 28 46 40 42 44 40 52 32 52 28 60 16 44 16 60 12 71 0 109-12 72-16 60-20 53-28 57-28 46-44 56-38 40-46 40-53 36-53 28-54 20-48 12-70 12z"/><path fill="#000796" fill-rule="evenodd" transform="scale(0.5)" d="M3744 3712l-64 4-52-3-61-9-47-12-54-20-50-24-52-32-42-32-42-38-40-45-32-42-32-53-24-50-20-55-16-65-6-48-3-56 1-61 8-63 12-52 16-49 24-54 28-50 36-51 40-46 40-38 40-32 57-36 47-24 52-20 59-16 48-8 61-4 56 3 72 9 88 16 54 16 46 20 36 20 52 36 49 44 47 52 32 43 28 48 28 60 20 58 16 67 8 54 0 95-4 32-12 60-16 55-20 52-28 56-36 55-40 48-44 45-44 36-36 24-53 28-40 16-43 12-63 12z"/><path fill="#001d98" fill-rule="evenodd" transform="scale(0.5)" d="M3704 3712l-52 0-52-5-58-11-51-16-48-20-51-28-48-32-47-40-41-42-40-51-28-43-28-54-20-49-16-55-11-62-4-48 0-60 4-56 11-62 16-55 20-50 28-53 28-44 36-46 41-42 46-40 46-32 50-28 56-24 51-16 58-12 48-4 48-1 54 5 106 16 57 12 48 16 43 20 41 24 43 32 48 45 48 55 28 39 28 50 24 53 20 60 16 68 8 59 0 74-4 35-16 77-20 64-24 56-32 57-28 40-48 54-44 42-36 28-44 28-51 24-34 12-49 12-98 16z"/><path fill="#003b9f" fill-rule="evenodd" transform="scale(0.5)" d="M3708 3708l-56 1-56-5-44-8-54-16-50-20-52-28-48-32-44-36-40-40-36-44-32-46-28-51-24-57-16-52-11-54-5-48-1-64 3-56 10-65 12-46 16-45 24-51 32-54 32-43 40-45 43-39 42-32 52-32 49-24 56-20 50-12 64-9 56 0 56 4 108 17 59 12 39 12 46 20 48 28 37 28 47 44 48 54 28 38 32 56 24 54 20 61 16 70 8 67 0 48-8 63-16 69-24 72-24 51-28 49-36 48-44 48-43 40-37 28-40 24-43 20-35 12-51 12-100 16z"/><path fill="#0056a4" fill-rule="evenodd" transform="scale(0.5)" d="M3708 3704l-52 1-48-3-48-7-54-15-52-20-54-28-48-32-40-32-40-39-36-42-36-51-28-50-24-55-16-50-12-57-5-48-2-68 3-55 8-55 12-49 16-47 24-52 32-55 32-44 40-45 41-38 48-36 45-28 49-24 55-20 50-13 60-8 52-1 52 4 144 22 40 8 40 12 47 20 41 24 33 24 47 43 52 57 32 43 28 49 24 53 20 59 20 86 6 50 1 52-7 58-20 86-20 59-24 53-32 55-28 37-48 53-32 31-40 32-46 28-43 20-36 12-47 11-132 20z"/><path fill="#0070a3" fill-rule="evenodd" transform="scale(0.5)" d="M3696 3700l-56 1-48-4-48-9-53-16-47-20-52-28-47-32-38-32-39-39-36-43-32-47-28-51-20-46-16-48-12-55-6-59-2-72 3-52 9-57 12-47 16-45 24-51 28-48 36-49 40-45 41-38 48-36 47-28 51-24 57-20 56-12 44-5 56 0 48 4 156 24 40 8 40 13 36 16 35 20 39 28 46 43 52 56 28 38 28 48 28 61 20 61 16 67 9 66-1 64-8 54-20 80-20 57-28 59-32 53-32 39-47 50-39 36-39 28-43 24-40 16-64 16-153 24z"/><path fill="#008ba6" fill-rule="evenodd" transform="scale(0.5)" d="M3672 3696l-52 0-48-6-56-14-47-16-43-20-47-28-44-32-41-36-38-41-36-47-28-44-24-47-20-50-15-55-9-49-4-51 0-72 3-48 9-54 12-45 20-54 24-48 32-52 32-42 40-43 43-38 44-32 47-28 53-24 49-16 55-12 49-5 36 1 56 4 204 32 38 12 38 16 35 20 38 28 47 43 56 61 24 33 28 49 28 63 20 62 16 69 8 68-2 56-10 59-20 77-24 64-28 56-28 44-36 43-56 57-33 28-34 24-38 20-40 16-59 13-72 10-100 17zM3717 3036l83-152 7-20 1-4-4-3-16 8-16 15-16 20-16 28-12 30-8 28-5 34 1 18zM3808 3384l-3-12-9-20-80-147-1 23 5 30 12 38 12 27 16 26 16 19 20 16 8 3z"/><path fill="#00a5a8" fill-rule="evenodd" transform="scale(0.5)" d="M3692 3688l-52 3-44-2-52-9-43-12-50-20-46-24-49-32-40-32-40-40-36-42-32-46-28-49-24-55-15-48-10-48-6-52-2-80 2-44 7-54 12-51 16-46 24-52 28-48 32-44 36-42 41-39 46-36 45-28 48-24 54-20 48-12 50-7 36-1 60 5 40 7 64 15 84 7 37 6 39 11 30 13 30 16 34 24 42 37 64 66 28 37 24 40 28 59 20 57 20 79 10 65-1 56-9 61-20 79-24 66-28 57-28 45-32 38-52 52-37 34-33 24-36 20-40 16-50 12-88 7-92 20zM3708 3096l6-28 12-32 20-40 21-36 49-76 24-32 97-92 4-8 1-8-2-6-6-6-14-4-16 0-16 6-16 11-20 19-39 48-37 39-24 31-24 48-14 50-7 60-1 40 2 19zM3921 3516l11-3 8-7 2-10-3-8-13-16-75-68-35-45-54-83-29-52-19-48-6-32-2 20 1 36 5 57 14 51 21 44 25 36 41 44 51 60 16 13 12 7 16 4z"/><path fill="#00b198" fill-rule="evenodd" transform="scale(0.5)" d="M3656 3684l-44 1-46-5-51-12-45-16-43-20-47-28-44-32-36-32-40-43-32-41-28-44-24-45-20-49-15-50-9-50-4-50-1-80 3-40 6-48 12-50 16-46 24-51 32-53 32-44 36-40 43-40 43-32 45-28 51-24 45-16 51-12 50-6 36 1 52 7 24 6 17 8 34 24 30 28 21 28 9 24-2 32-12 36-23 40-42 53-14 23-16 32-13 36-10 40-4 40 1 76 0 9 4 7 11-44 20-44 33-55 52-73 40-46 95-78 12-12 8-12 3-8-1-8-10-16-23-17-48-27-10-8-9-12-5-20 3-24 5-4 20-2 32 3 40 10 30 13 35 20 27 20 32 28 56 55 28 32 20 28 20 35 20 41 16 41 16 52 16 64 8 68 0 36-5 40-7 36-20 76-16 45-20 45-20 37-24 37-28 32-56 56-36 32-27 20-29 17-35 15-33 9-32 5-24-1-9-5-3-24 5-20 9-12 10-8 48-27 23-17 10-16 1-8-3-8-8-12-12-12-95-78-40-46-52-74-33-54-20-44-11-44-4 6 0 10-1 76 5 44 10 40 14 37 16 31 54 72 21 36 13 36 3 32-5 20-19 28-26 28-31 24-30 16-24 5z"/><path fill="#00b67f" fill-rule="evenodd" transform="scale(0.5)" d="M3648 3676l-36 2-44-4-49-10-47-16-43-20-48-28-43-32-38-34-36-39-36-47-28-44-24-47-20-51-11-42-9-47-4-47 0-82 2-40 6-47 12-51 16-45 20-44 28-48 32-45 36-42 40-39 40-31 50-32 49-24 43-16 47-12 51-6 32 0 31 6 31 12 27 16 22 20 21 28 14 28 8 28 2 28-5 28-13 28-41 72-17 44-10 40-6 36-2 36 1 48 5 45 4 2 16-51 24-46 36-53 56-73 44-44 100-76 17-16 8-12 3-16-7-16-58-56-16-20-4-12 4-4 9-1 24 2 32 11 26 12 25 16 30 24 67 61 24 25 20 24 20 30 20 37 16 34 16 42 28 102 8 41 2 32 0 40-6 41-28 110-16 44-16 36-20 37-20 32-20 26-24 24-66 62-30 24-24 16-31 16-25 8-28 5-12-1-4-3 1-9 18-24 58-56 7-16-3-16-8-12-17-16-100-76-44-45-56-72-36-53-24-46-16-52-4 3-5 49-1 48 2 36 6 36 12 40 16 44 40 68 11 24 7 24 0 24-4 24-11 28-14 24-20 24-18 16-21 13-25 11z"/><path fill="#00bb62" fill-rule="evenodd" transform="scale(0.5)" d="M3620 3668l-36 1-40-6-44-11-51-20-45-24-37-24-40-32-35-33-32-36-32-43-28-45-24-48-16-43-12-44-8-49-3-47 0-80 2-40 6-44 11-47 16-46 20-44 28-48 28-39 36-43 38-37 45-36 43-28 48-24 42-16 48-13 48-5 24 1 19 5 40 20 18 12 19 18 16 22 12 24 7 24 3 24-3 24-13 44-20 56-16 64-7 44-3 36 1 36 11 84 4 1 16-46 28-50 40-54 60-72 48-46 108-77 18-16 10-12 6-16-4-16-9-12-44-44-3-8 6-3 14 3 19 8 36 24 95 80 24 25 20 27 36 65 28 70 28 105 6 36 2 32-1 36-5 36-26 100-28 74-36 67-20 29-24 26-94 80-41 28-19 8-14 2-6-2 3-8 44-44 9-12 4-16-6-16-10-12-18-16-108-77-48-47-60-71-40-55-28-49-16-47-4 1-11 85-1 36 3 36 7 44 16 64 20 56 13 44 3 24-2 20-5 20-11 24-12 20-16 18-32 23-37 19z"/><path fill="#00c048" fill-rule="evenodd" transform="scale(0.5)" d="M3592 3656l-28 1-36-5-42-12-48-20-43-24-35-24-38-32-34-34-36-42-28-40-24-40-20-41-16-43-11-44-7-44-3-44 1-120 6-48 10-43 12-36 20-46 24-43 28-42 32-40 37-38 42-36 40-28 43-24 48-20 43-12 43-6 20 2 24 8 32 15 20 13 16 15 13 17 11 20 6 20 3 16-1 16-18 120-10 80-3 40 4 68 15 78 4 1 20-50 32-50 40-49 72-79 25-23 27-22 120-82 22-20 14-18 4-1 12 3 24 14 44 37 28 35 28 47 24 52 20 58 23 89 7 60-3 48-11 54-24 84-16 42-16 34-32 56-28 35-44 36-24 14-12 4-4-1-14-18-22-20-120-82-27-22-25-23-72-79-40-50-32-50-20-49-4 1-15 78-4 68 3 40 10 80 18 120-1 28-6 20-10 20-11 16-15 16-17 12-22 12z"/><path fill="#00c134" fill-rule="evenodd" transform="scale(0.5)" d="M3560 3636l-24 2-24-2-53-16-56-28-56-40-51-47-48-58-40-62-28-58-18-59-10-59-2-125 2-49 8-52 16-56 24-54 28-48 44-59 52-54 49-40 59-36 48-20 31-8 21-2 24 1 23 5 22 8 24 12 19 14 16 18 14 24 6 24 2 28-7 184 1 52 5 44 9 44 13 48 1 4 4 0 24-51 36-50 40-45 80-81 24-21 56-41 120-73 20-7 12 4 16 9 28 23 20 24 24 38 24 47 16 38 16 50 20 76 7 44 0 36-4 36-7 33-20 73-28 74-20 40-20 33-16 22-20 21-20 16-20 10-8 2-8-1-44-24-112-71-32-24-24-21-84-85-40-46-32-45-24-51-4 0-18 72-10 68-1 52 7 184-1 20-3 20-15 32-23 25-16 11-23 12z"/><path fill="#00c319" fill-rule="evenodd" transform="scale(0.5)" d="M3536 3608l-20 2-24-2-24-4-25-8-49-24-50-36-52-51-52-66-36-59-24-56-12-44-7-56 0-148 3-48 12-56 16-44 24-46 36-54 44-54 44-42 48-36 44-24 48-15 40-3 40 7 20 7 20 12 19 16 12 16 9 18 7 22 5 35 9 157 6 60 8 40 15 52 13 40 5 1 28-52 36-45 40-41 44-39 44-44 28-23 92-60 60-32 24-9 20-3 12 4 12 7 20 17 20 26 28 47 20 42 20 54 20 70 8 36 4 36 0 36-5 36-31 110-16 42-16 34-20 36-20 30-16 18-20 17-16 7-12 0-24-6-32-14-96-58-56-41-120-114-44-51-20-31-15-31-5-1-23 69-14 68-11 128-4 88-4 26-6 22-14 28-24 25-32 18z"/><path fill="#0dca02" fill-rule="evenodd" transform="scale(0.5)" d="M3520 3572l-20 2-20-1-44-11-44-22-44-32-48-47-60-73-28-44-21-48-9-40-4-48 0-172 5-56 11-40 18-40 28-44 40-50 40-45 36-32 36-26 40-20 36-11 36-2 36 7 29 15 15 12 12 15 10 17 8 20 7 28 25 152 12 56 28 84 17 40 5 1 28-45 40-46 132-118 36-28 92-57 48-22 24-7 24-2 16 3 12 8 20 21 24 37 20 37 16 37 16 46 20 69 7 34 3 32-2 32-6 36-30 103-16 41-16 33-20 35-20 28-16 17-16 9-16 2-24-3-24-7-28-13-88-52-48-35-128-113-44-47-20-28-14-26-6-2-25 62-21 64-12 56-26 155-11 37-15 28-19 20-27 16z"/><path fill="#2bd100" fill-rule="evenodd" transform="scale(0.5)" d="M3496 3528l-36 0-36-11-39-21-36-28-37-37-64-75-26-44-15-40-6-48-3-104 3-100 7-52 14-36 22-38 24-31 60-67 30-28 30-22 32-18 28-9 28-5 28 3 24 9 20 13 20 23 16 31 63 203 27 64 30 58 6-2 30-42 44-45 88-69 48-42 40-28 92-53 40-16 24-4 24 1 16 4 16 11 16 19 20 31 16 30 16 37 34 106 7 36 2 32-3 32-7 36-33 102-16 37-16 30-20 30-16 20-16 11-16 4-24 1-24-4-40-17-92-53-40-27-48-42-88-70-44-44-30-42-6-2-26 50-28 64-16 48-40 136-18 44-16 24-16 16-24 14z"/><path fill="#53d700" fill-rule="evenodd" transform="scale(0.5)" d="M3468 3476l-32-5-32-13-32-21-36-31-48-51-28-35-20-37-10-39-4-44-4-84 6-96 8-48 16-35 24-35 52-56 40-37 24-17 20-11 24-9 20-4 20 0 20 5 16 8 16 12 17 19 17 28 76 168 36 64 30 47 4 0 3-3 29-36 36-33 100-73 56-44 32-20 102-54 38-13 20-1 16 2 16 6 12 7 28 28 16 23 16 30 32 87 16 59 3 48-3 28-8 33-36 103-12 25-16 27-16 20-16 15-16 11-16 6-20 2-24-3-32-12-48-27-52-26-32-20-58-46-90-65-44-40-32-38-4 0-30 47-36 64-66 148-24 43-16 20-20 16-20 9z"/><path fill="#74dc00" fill-rule="evenodd" transform="scale(0.5)" d="M3480 3412l-28 4-32-8-32-16-32-25-36-35-29-36-17-32-10-40-6-64-1-56 5-72 9-44 15-32 26-36 40-40 36-28 36-18 32-6 28 5 28 17 28 31 86 135 40 56 38 47 4 0 32-32 36-29 104-68 60-45 32-17 56-23 56-30 20-5 16-2 16 2 16 5 16 9 16 13 28 34 24 46 28 76 10 47 0 44-6 32-8 28-32 81-12 21-16 23-20 21-16 12-16 9-16 4-16 0-20-3-28-11-44-24-64-27-24-15-60-44-96-62-40-33-32-32-4 0-38 48-40 56-90 140-28 29z"/><path fill="#99e000" fill-rule="evenodd" transform="scale(0.5)" d="M3468 3348l-28 0-28-11-28-18-28-27-21-28-13-28-9-32-4-40 0-76 3-36 7-36 12-28 25-36 32-31 32-19 16-5 16-3 16 1 12 4 12 6 16 12 104 111 92 92 0 4-96 96-92 99-24 20zM4132 3348l-20 0-24-5-56-27-79-32-69-47-124-73-44-34-7-6 0-4 27-23 36-25 108-63 64-44 20-11 68-26 44-22 24-9 16-2 16 0 28 9 20 14 20 20 16 22 16 30 20 45 12 35 7 34 0 28-4 28-11 39-24 54-20 37-20 25-20 17-20 11z"/><path fill="#c2e500" fill-rule="evenodd" transform="scale(0.5)" d="M4148 3320l-24 3-28-4-124-51-88-53-148-75-24-15-1-5 61-36 112-55 72-45 24-12 100-42 24-7 28-3 28 8 20 12 16 15 16 21 16 28 20 39 8 20 8 29 3 32-4 32-11 36-36 69-16 23-16 16-16 11zM3480 3256l-20 0-16-5-16-10-12-13-10-16-6-16-5-20-2-28 1-72 5-24 7-20 10-16 16-16 16-9 20-4 16 1 16 5 40 19 68 42 94 66-2 5-136 92-48 27z"/><path fill="#e4e400" fill-rule="evenodd" transform="scale(0.5)" d="M4148 3296l-16 3-16-1-34-10-106-47-68-39-40-20-100-40-55-18 0-4 55-19 92-36 44-21 72-41 112-50 20-6 16-2 20 1 16 5 16 8 16 14 16 19 20 32 16 29 10 23 6 24 2 24-2 21-8 28-16 33-20 33-16 23-16 16-16 11zM3588 3161l-24 2-16-2-15-5-10-8-6-12-3-16 4-16 9-12 13-8 12-3 32 1 40 10 76 28 0 4-56 21z"/><path fill="#ebc400" fill-rule="evenodd" transform="scale(0.5)" d="M4152 3272l-16 2-20-2-20-6-28-12-92-48-112-62-20-16-2-4 2-8 14-12 26-16 95-52 109-56 24-8 20-3 20 3 16 5 16 11 16 16 32 45 20 45 4 18 0 16-4 22-8 21-28 48-16 21-16 16-16 10z"/><path fill="#eea400" fill-rule="evenodd" transform="scale(0.5)" d="M4152 3248l-16 1-20-4-20-8-24-13-94-64-19-20-6-16 2-12 7-12 11-12 20-16 95-61 24-12 24-5 20 2 16 6 16 11 16 16 16 20 16 28 9 23 4 20-2 16-7 22-24 42-16 19-16 15-16 9z"/><path fill="#f28400" fill-rule="evenodd" transform="scale(0.5)" d="M4168 3220l-16 3-16-1-18-6-18-11-20-17-21-24-12-20-6-16 0-12 6-16 26-36 16-16 19-15 16-8 16-4 16 0 16 4 16 9 12 11 13 15 13 20 9 20 4 16 0 12-4 16-7 16-12 20-24 26z"/><path fill="#f66400" fill-rule="evenodd" transform="scale(0.5)" d="M4172 3193l-20 1-12-4-9-6-16-20-7-24 0-36 7-24 8-12 9-9 12-7 12-3 12 1 12 4 20 14 18 24 8 24-2 21-12 25-20 21z"/><path fill="#fa3b00" fill-rule="evenodd" transform="scale(0.5)" d="M4188 3153l-12 3-8-2-8-7-4-11-2-16 3-16 7-11 8-5 8 0 12 5 10 11 4 12 1 8-3 12-8 11z"/></g>
<g stroke="#fff" stroke-opacity="0.32" stroke-width="4"><line x1="1548.6" y1="1560.9" x2="2157.6" y2="1560.9"/><line x1="1853.1" y1="1256" x2="1853.1" y2="1865.8"/></g>
<polygon points="1663.0,1530.7 1670.1,1551.0 1691.5,1551.4 1674.4,1564.4 1680.6,1585.0 1663.0,1572.7 1645.4,1585.0 1651.6,1564.4 1634.5,1551.4 1655.9,1551.0" fill="none" stroke="#fff" stroke-width="3.6" stroke-linejoin="miter"/>
<g fill="none" stroke-width="3.2" stroke-linecap="square"><path stroke="#6e6e6e" d="M1548.6 1256H2157.6V1865.8"/><path stroke="#3a3a3a" d="M1548.6 1256V1865.8"/><path stroke="#111" d="M1548.6 1865.8H2157.6"/></g>
<path fill="none" stroke="#333" stroke-width="3" d="M1548.6 1865.8V1880.8M1548.6 1865.8H1533.6M1853.1 1865.8V1880.8M1548.6 1560.9H1533.6M2157.6 1865.8V1880.8M1548.6 1256H1533.6"/>
<g font-family="'Liberation Serif', serif" font-size="28" font-weight="bold" fill="#111"><text transform="translate(1545.6 1907.8) scale(0.88 1)" text-anchor="middle">-1</text><text transform="translate(1527.1 1871.3) scale(0.85 1)" text-anchor="end">-1</text><text transform="translate(1854.1 1907.8) scale(0.88 1)" text-anchor="middle">0</text><text transform="translate(1527.1 1566.4) scale(0.85 1)" text-anchor="end">0</text><text transform="translate(2158.6 1907.8) scale(0.88 1)" text-anchor="middle">1</text><text transform="translate(1527.1 1261.5) scale(0.85 1)" text-anchor="end">1</text></g>
<g font-family="'Liberation Serif', serif" fill="#000"><text x="186" y="112.8" font-size="69" textLength="1946" lengthAdjust="spacingAndGlyphs">Simulated Scattering Coefficients over upper Space of One Realization</text><text x="144" y="1166.6" font-size="69" textLength="2018" lengthAdjust="spacingAndGlyphs">Averaged Scattering Coefficients over upper Space by 1600 Realizations</text><text font-size="66"><tspan x="131.8" y="202">(</tspan><tspan x="153.6" y="202" font-style="italic">a</tspan><tspan x="190.8" y="202">)</tspan><tspan x="226.1" y="202" font-style="italic">θ</tspan><tspan x="261.3" y="206" font-size="44">i</tspan><tspan x="284.2" y="202">=</tspan><tspan x="337.1" y="202">30</tspan><tspan x="407.3" y="176" font-size="40">o</tspan></text><text font-size="66"><tspan x="253" y="915.2">sin(</tspan><tspan x="357.1" y="915.2" font-style="italic">θ</tspan><tspan x="388.5" y="919.2" font-size="38">s</tspan><tspan x="407.2" y="915.2">)cos(</tspan><tspan x="564" y="915.2" font-style="italic">ϕ</tspan><tspan x="608.8" y="919.2" font-size="38">s</tspan><tspan x="627.4" y="915.2">)</tspan></text><text transform="translate(95 740) rotate(-90)" font-size="66"><tspan x="-2.7" y="0">sin(</tspan><tspan x="101.4" y="0" font-style="italic">θ</tspan><tspan x="132.8" y="4" font-size="38">s</tspan><tspan x="151.5" y="0">)sin(</tspan><tspan x="297.3" y="0" font-style="italic">ϕ</tspan><tspan x="342.1" y="4" font-size="38">s</tspan><tspan x="360.7" y="0">)</tspan></text><text font-size="66"><tspan x="847.5" y="194.6">(</tspan><tspan x="869.4" y="194.6" font-style="italic">b</tspan><tspan x="906.8" y="194.6">)</tspan><tspan x="942.3" y="194.6" font-style="italic">θ</tspan><tspan x="977.7" y="198.6" font-size="44">i</tspan><tspan x="1000.7" y="194.6">=</tspan><tspan x="1053.9" y="194.6">40</tspan><tspan x="1124.5" y="168.6" font-size="40">o</tspan></text><text font-size="66"><tspan x="957.5" y="911.4">sin(</tspan><tspan x="1061.9" y="911.4" font-style="italic">θ</tspan><tspan x="1093.4" y="915.4" font-size="38">s</tspan><tspan x="1112.2" y="911.4">)cos(</tspan><tspan x="1269.4" y="911.4" font-style="italic">ϕ</tspan><tspan x="1314.4" y="915.4" font-size="38">s</tspan><tspan x="1333" y="911.4">)</tspan></text><text transform="translate(812.5 716.7) rotate(-90)" font-size="66"><tspan x="-2.7" y="0">sin(</tspan><tspan x="101.1" y="0" font-style="italic">θ</tspan><tspan x="132.3" y="4" font-size="38">s</tspan><tspan x="151" y="0">)sin(</tspan><tspan x="296.3" y="0" font-style="italic">ϕ</tspan><tspan x="340.9" y="4" font-size="38">s</tspan><tspan x="359.5" y="0">)</tspan></text><text font-size="66"><tspan x="1549.2" y="194.6">(</tspan><tspan x="1571.1" y="194.6" font-style="italic">c</tspan><tspan x="1604.7" y="194.6">)</tspan><tspan x="1640.1" y="194.6" font-style="italic">θ</tspan><tspan x="1675.4" y="198.6" font-size="44">i</tspan><tspan x="1698.4" y="194.6">=</tspan><tspan x="1751.5" y="194.6">50</tspan><tspan x="1821.9" y="168.6" font-size="40">o</tspan></text><text font-size="66"><tspan x="1683.1" y="907.3">sin(</tspan><tspan x="1787.2" y="907.3" font-style="italic">θ</tspan><tspan x="1818.6" y="911.3" font-size="38">s</tspan><tspan x="1837.3" y="907.3">)cos(</tspan><tspan x="1994.2" y="907.3" font-style="italic">ϕ</tspan><tspan x="2039" y="911.3" font-size="38">s</tspan><tspan x="2057.6" y="907.3">)</tspan></text><text transform="translate(1507.4 716.7) rotate(-90)" font-size="66"><tspan x="-2.7" y="0">sin(</tspan><tspan x="101.1" y="0" font-style="italic">θ</tspan><tspan x="132.3" y="4" font-size="38">s</tspan><tspan x="151" y="0">)sin(</tspan><tspan x="296.3" y="0" font-style="italic">ϕ</tspan><tspan x="340.9" y="4" font-size="38">s</tspan><tspan x="359.5" y="0">)</tspan></text><text font-size="66"><tspan x="121.8" y="1248.1">(</tspan><tspan x="143.7" y="1248.1" font-style="italic">d</tspan><tspan x="181.1" y="1248.1">)</tspan><tspan x="216.6" y="1248.1" font-style="italic">θ</tspan><tspan x="252" y="1252.1" font-size="44">i</tspan><tspan x="275.1" y="1248.1">=</tspan><tspan x="328.3" y="1248.1">30</tspan><tspan x="398.9" y="1222.1" font-size="40">o</tspan></text><text font-size="66"><tspan x="239.7" y="1974.2">sin(</tspan><tspan x="345" y="1974.2" font-style="italic">θ</tspan><tspan x="376.8" y="1978.2" font-size="38">s</tspan><tspan x="395.7" y="1974.2">)cos(</tspan><tspan x="554.3" y="1974.2" font-style="italic">ϕ</tspan><tspan x="599.6" y="1978.2" font-size="38">s</tspan><tspan x="618.5" y="1974.2">)</tspan></text><text transform="translate(97.4 1764.2) rotate(-90)" font-size="66"><tspan x="-2.7" y="0">sin(</tspan><tspan x="102" y="0" font-style="italic">θ</tspan><tspan x="133.6" y="4" font-size="38">s</tspan><tspan x="152.5" y="0">)sin(</tspan><tspan x="299.2" y="0" font-style="italic">ϕ</tspan><tspan x="344.3" y="4" font-size="38">s</tspan><tspan x="363" y="0">)</tspan></text><text font-size="66"><tspan x="843.1" y="1245.5">(</tspan><tspan x="865.1" y="1245.5" font-style="italic">e</tspan><tspan x="898.9" y="1245.5">)</tspan><tspan x="934.5" y="1245.5" font-style="italic">θ</tspan><tspan x="970.1" y="1249.5" font-size="44">i</tspan><tspan x="993.2" y="1245.5">=</tspan><tspan x="1046.6" y="1245.5">40</tspan><tspan x="1117.5" y="1219.5" font-size="40">o</tspan></text><text font-size="66"><tspan x="968.6" y="1966.3">sin(</tspan><tspan x="1073.6" y="1966.3" font-style="italic">θ</tspan><tspan x="1105.3" y="1970.3" font-size="38">s</tspan><tspan x="1124.1" y="1966.3">)cos(</tspan><tspan x="1282.3" y="1966.3" font-style="italic">ϕ</tspan><tspan x="1327.5" y="1970.3" font-size="38">s</tspan><tspan x="1346.2" y="1966.3">)</tspan></text><text transform="translate(808.8 1783.8) rotate(-90)" font-size="66"><tspan x="-2.7" y="0">sin(</tspan><tspan x="102" y="0" font-style="italic">θ</tspan><tspan x="133.6" y="4" font-size="38">s</tspan><tspan x="152.5" y="0">)sin(</tspan><tspan x="299.2" y="0" font-style="italic">ϕ</tspan><tspan x="344.3" y="4" font-size="38">s</tspan><tspan x="363" y="0">)</tspan></text><text font-size="66"><tspan x="1550.9" y="1242">(</tspan><tspan x="1572.8" y="1242" font-style="italic">f</tspan><tspan x="1595.5" y="1242">)</tspan><tspan x="1631" y="1242" font-style="italic">θ</tspan><tspan x="1666.4" y="1246" font-size="44">i</tspan><tspan x="1689.4" y="1242">=</tspan><tspan x="1742.6" y="1242">50</tspan><tspan x="1813.2" y="1216" font-size="40">o</tspan></text><text font-size="66"><tspan x="1682" y="1966.3">sin(</tspan><tspan x="1787" y="1966.3" font-style="italic">θ</tspan><tspan x="1818.7" y="1970.3" font-size="38">s</tspan><tspan x="1837.5" y="1966.3">)cos(</tspan><tspan x="1995.7" y="1966.3" font-style="italic">ϕ</tspan><tspan x="2040.9" y="1970.3" font-size="38">s</tspan><tspan x="2059.6" y="1966.3">)</tspan></text><text transform="translate(1507.4 1772.8) rotate(-90)" font-size="66"><tspan x="-2.7" y="0">sin(</tspan><tspan x="102" y="0" font-style="italic">θ</tspan><tspan x="133.6" y="4" font-size="38">s</tspan><tspan x="152.5" y="0">)sin(</tspan><tspan x="299.2" y="0" font-style="italic">ϕ</tspan><tspan x="344.3" y="4" font-size="38">s</tspan><tspan x="363" y="0">)</tspan></text><text x="1192.3" y="1104.7" font-size="66">dB</text><text x="1196.8" y="2169" font-size="66">dB</text></g>
<rect x="112.5" y="947" width="51.4" height="65.5" fill="#4e007d"/><rect x="163.3" y="947" width="51.4" height="65.5" fill="#410080"/><rect x="214.1" y="947" width="51.4" height="65.5" fill="#370082"/><rect x="264.8" y="947" width="51.4" height="65.5" fill="#280087"/><rect x="315.6" y="947" width="51.4" height="65.5" fill="#19008c"/><rect x="366.4" y="947" width="51.4" height="65.5" fill="#000096"/><rect x="417.1" y="947" width="51.4" height="65.5" fill="#000f96"/><rect x="467.9" y="947" width="51.4" height="65.5" fill="#002098"/><rect x="518.7" y="947" width="51.4" height="65.5" fill="#00379e"/><rect x="569.5" y="947" width="51.4" height="65.5" fill="#004ea2"/><rect x="620.2" y="947" width="51.4" height="65.5" fill="#005fa5"/><rect x="671" y="947" width="51.4" height="65.5" fill="#0073a3"/><rect x="721.8" y="947" width="51.4" height="65.5" fill="#0087a5"/><rect x="772.6" y="947" width="51.4" height="65.5" fill="#009eaa"/><rect x="823.4" y="947" width="51.4" height="65.5" fill="#00aca5"/><rect x="874.1" y="947" width="51.4" height="65.5" fill="#00b296"/><rect x="924.9" y="947" width="51.4" height="65.5" fill="#00b682"/><rect x="975.7" y="947" width="51.4" height="65.5" fill="#00b96e"/><rect x="1026.4" y="947" width="51.4" height="65.5" fill="#00bd55"/><rect x="1077.2" y="947" width="51.4" height="65.5" fill="#00c046"/><rect x="1128" y="947" width="51.4" height="65.5" fill="#00c137"/><rect x="1178.8" y="947" width="51.4" height="65.5" fill="#00c223"/><rect x="1229.5" y="947" width="51.4" height="65.5" fill="#00c40f"/><rect x="1280.3" y="947" width="51.4" height="65.5" fill="#0fcb00"/><rect x="1331.1" y="947" width="51.4" height="65.5" fill="#26d000"/><rect x="1381.9" y="947" width="51.4" height="65.5" fill="#46d500"/><rect x="1432.6" y="947" width="51.4" height="65.5" fill="#5fd900"/><rect x="1483.4" y="947" width="51.4" height="65.5" fill="#78dc00"/><rect x="1534.2" y="947" width="51.4" height="65.5" fill="#94df00"/><rect x="1585" y="947" width="51.4" height="65.5" fill="#b2e400"/><rect x="1635.8" y="947" width="51.4" height="65.5" fill="#d2e600"/><rect x="1686.5" y="947" width="51.4" height="65.5" fill="#e8e400"/><rect x="1737.3" y="947" width="51.4" height="65.5" fill="#ebc800"/><rect x="1788.1" y="947" width="51.4" height="65.5" fill="#ebb200"/><rect x="1838.8" y="947" width="51.4" height="65.5" fill="#f09600"/><rect x="1889.6" y="947" width="51.4" height="65.5" fill="#f28000"/><rect x="1940.4" y="947" width="51.4" height="65.5" fill="#f56900"/><rect x="1991.2" y="947" width="51.4" height="65.5" fill="#f84800"/><rect x="2042" y="947" width="51.4" height="65.5" fill="#fc2d00"/><rect x="2092.7" y="947" width="51.4" height="65.5" fill="#ff0f00"/><g fill="none" stroke-width="3.2" stroke-linecap="square"><path stroke="#6e6e6e" d="M112.5 947H2143.5V1012.5"/><path stroke="#222" d="M112.5 947V1012.5H2143.5"/></g><path fill="none" stroke="#222" stroke-width="3" d="M112.5 1012.5V1030.5M366.4 1012.5V1030.5M620.2 1012.5V1030.5M874.1 1012.5V1030.5M1128 1012.5V1030.5M1381.9 1012.5V1030.5M1635.8 1012.5V1030.5M1889.6 1012.5V1030.5M2143.5 1012.5V1030.5"/><g font-family="'Liberation Serif', serif" font-size="42" fill="#111" stroke="#111" stroke-width="0.9"><text transform="translate(110 1071) scale(0.86 1)" text-anchor="middle">-35</text><text transform="translate(363.9 1071) scale(0.86 1)" text-anchor="middle">-30</text><text transform="translate(617.8 1071) scale(0.86 1)" text-anchor="middle">-25</text><text transform="translate(871.6 1071) scale(0.86 1)" text-anchor="middle">-20</text><text transform="translate(1125.5 1071) scale(0.86 1)" text-anchor="middle">-15</text><text transform="translate(1379.4 1071) scale(0.86 1)" text-anchor="middle">-10</text><text transform="translate(1633.2 1071) scale(0.86 1)" text-anchor="middle">-5</text><text transform="translate(1887.1 1071) scale(0.86 1)" text-anchor="middle">0</text><text transform="translate(2141 1071) scale(0.86 1)" text-anchor="middle">5</text></g>
<rect x="104.7" y="2005" width="68.9" height="66" fill="#4c007e"/><rect x="173" y="2005" width="68.9" height="66" fill="#3c0081"/><rect x="241.3" y="2005" width="68.9" height="66" fill="#2a0086"/><rect x="309.6" y="2005" width="68.9" height="66" fill="#15008e"/><rect x="377.9" y="2005" width="68.9" height="66" fill="#000796"/><rect x="446.2" y="2005" width="68.9" height="66" fill="#001d98"/><rect x="514.6" y="2005" width="68.9" height="66" fill="#003b9f"/><rect x="582.9" y="2005" width="68.9" height="66" fill="#0056a4"/><rect x="651.2" y="2005" width="68.9" height="66" fill="#0070a3"/><rect x="719.5" y="2005" width="68.9" height="66" fill="#008ba6"/><rect x="787.8" y="2005" width="68.9" height="66" fill="#00a5a8"/><rect x="856.1" y="2005" width="68.9" height="66" fill="#00b198"/><rect x="924.4" y="2005" width="68.9" height="66" fill="#00b67f"/><rect x="992.7" y="2005" width="68.9" height="66" fill="#00bb62"/><rect x="1061" y="2005" width="68.9" height="66" fill="#00c048"/><rect x="1129.4" y="2005" width="68.9" height="66" fill="#00c134"/><rect x="1197.7" y="2005" width="68.9" height="66" fill="#00c319"/><rect x="1266" y="2005" width="68.9" height="66" fill="#0dca02"/><rect x="1334.3" y="2005" width="68.9" height="66" fill="#2bd100"/><rect x="1402.6" y="2005" width="68.9" height="66" fill="#53d700"/><rect x="1470.9" y="2005" width="68.9" height="66" fill="#74dc00"/><rect x="1539.2" y="2005" width="68.9" height="66" fill="#99e000"/><rect x="1607.5" y="2005" width="68.9" height="66" fill="#c2e500"/><rect x="1675.8" y="2005" width="68.9" height="66" fill="#e4e400"/><rect x="1744.1" y="2005" width="68.9" height="66" fill="#ebc400"/><rect x="1812.5" y="2005" width="68.9" height="66" fill="#eea400"/><rect x="1880.8" y="2005" width="68.9" height="66" fill="#f28400"/><rect x="1949.1" y="2005" width="68.9" height="66" fill="#f66400"/><rect x="2017.4" y="2005" width="68.9" height="66" fill="#fa3b00"/><rect x="2085.7" y="2005" width="68.9" height="66" fill="#fe1400"/><g fill="none" stroke-width="3.2" stroke-linecap="square"><path stroke="#6e6e6e" d="M104.7 2005H2154V2071"/><path stroke="#222" d="M104.7 2005V2071H2154"/></g><path fill="none" stroke="#222" stroke-width="3" d="M104.7 2071V2089M446.2 2071V2089M787.8 2071V2089M1129.4 2071V2089M1470.9 2071V2089M1812.5 2071V2089M2154 2071V2089"/><g font-family="'Liberation Serif', serif" font-size="42" fill="#111" stroke="#111" stroke-width="0.9"><text transform="translate(102.2 2129.3) scale(0.86 1)" text-anchor="middle">-30</text><text transform="translate(443.8 2129.3) scale(0.86 1)" text-anchor="middle">-25</text><text transform="translate(785.3 2129.3) scale(0.86 1)" text-anchor="middle">-20</text><text transform="translate(1126.9 2129.3) scale(0.86 1)" text-anchor="middle">-15</text><text transform="translate(1468.4 2129.3) scale(0.86 1)" text-anchor="middle">-10</text><text transform="translate(1810 2129.3) scale(0.86 1)" text-anchor="middle">-5</text><text transform="translate(2151.5 2129.3) scale(0.86 1)" text-anchor="middle">0</text></g>
</svg></body></html>
